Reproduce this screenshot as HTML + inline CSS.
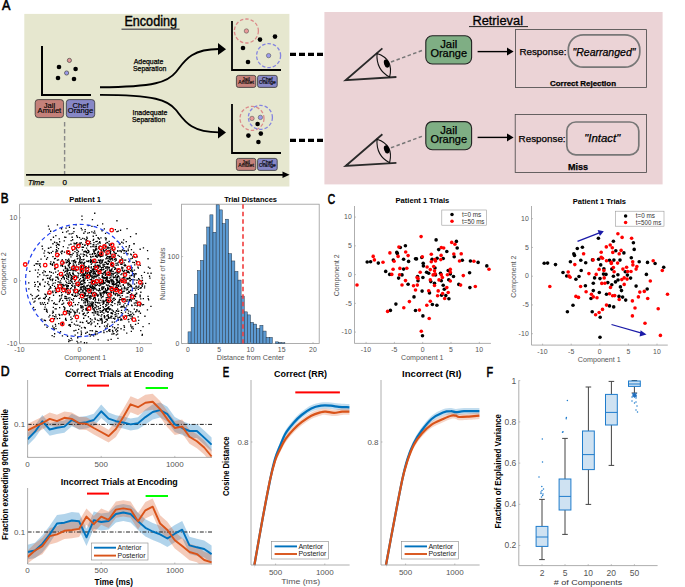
<!DOCTYPE html>
<html><head><meta charset="utf-8"><style>
html,body{margin:0;padding:0;background:#fff;}
svg{display:block;}
text{font-family:"Liberation Sans",sans-serif;}
</style></head><body>
<svg width="685" height="587" viewBox="0 0 685 587">
<text transform="translate(1.90 9.9) scale(0.9 1)" x="0" y="0" font-size="14" fill="#000" stroke="#000" stroke-width="0.6">A</text>
<rect x="24.3" y="13.9" width="265.1" height="172.6" fill="#e6e7cf"/>
<rect x="324.4" y="12" width="338.2" height="172.4" fill="#ebd3d6"/>
<text x="124.4" y="26.3" font-size="13.8" text-anchor="start" font-weight="normal" font-style="normal" fill="#000" stroke="#000" stroke-width="0.4" textLength="52.6" lengthAdjust="spacingAndGlyphs" >Encoding</text>
<line x1="121.5" y1="29.3" x2="179.6" y2="29.3" stroke="#666" stroke-width="1.4"/>
<text x="472.4" y="24.9" font-size="12.3" text-anchor="start" font-weight="normal" font-style="normal" fill="#000" stroke="#000" stroke-width="0.3" textLength="50.6" lengthAdjust="spacingAndGlyphs" >Retrieval</text>
<line x1="469" y1="26.6" x2="528" y2="26.6" stroke="#222" stroke-width="1"/>
<path d="M42 46 V95 H91" fill="none" stroke="#000" stroke-width="2"/>
<circle cx="69.4" cy="60.4" r="2.1" fill="#e09a9a" stroke="#333" stroke-width="0.6"/>
<circle cx="59" cy="67" r="2.3" fill="#000"/>
<circle cx="75.6" cy="69" r="2.3" fill="#000"/>
<circle cx="58" cy="78" r="2.3" fill="#000"/>
<circle cx="74" cy="79" r="2.3" fill="#000"/>
<circle cx="66.6" cy="73" r="2.1" fill="#9a9ae6" stroke="#333" stroke-width="0.6"/>
<rect x="35.2" y="99.6" width="28.4" height="18" rx="3" fill="#c4817a" stroke="#333" stroke-width="0.8"/>
<text x="49.400000000000006" y="107.61" font-size="7.6" text-anchor="middle" font-weight="normal" font-style="normal" fill="#000" stroke="#000" stroke-width="0.15" >Jail</text>
<text x="49.400000000000006" y="113.19" font-size="7.6" text-anchor="middle" font-weight="normal" font-style="normal" fill="#000" stroke="#000" stroke-width="0.15" >Amulet</text>
<rect x="66.3" y="99.6" width="28.4" height="18" rx="3" fill="#8787c6" stroke="#333" stroke-width="0.8"/>
<text x="80.5" y="107.61" font-size="7.6" text-anchor="middle" font-weight="normal" font-style="normal" fill="#000" stroke="#000" stroke-width="0.15" >Chef</text>
<text x="80.5" y="113.19" font-size="7.6" text-anchor="middle" font-weight="normal" font-style="normal" fill="#000" stroke="#000" stroke-width="0.15" >Orange</text>
<path d="M232 21 V70 H281" fill="none" stroke="#000" stroke-width="1.8"/>
<circle cx="246.4" cy="31" r="12" fill="none" stroke="#dc8a8a" stroke-width="1.3" stroke-dasharray="3.5 2"/>
<circle cx="268.6" cy="55.6" r="12" fill="none" stroke="#8484e0" stroke-width="1.3" stroke-dasharray="3.5 2"/>
<circle cx="246.4" cy="31" r="2.2" fill="#e99a9a" stroke="#444" stroke-width="0.5"/>
<circle cx="268.6" cy="55.6" r="2.2" fill="#9a9aea" stroke="#444" stroke-width="0.5"/>
<circle cx="260" cy="39.6" r="2.3" fill="#000"/>
<circle cx="275" cy="36.6" r="2.3" fill="#000"/>
<circle cx="243" cy="48" r="2.3" fill="#000"/>
<circle cx="248" cy="62" r="2.3" fill="#000"/>
<rect x="236.4" y="75.4" width="19.4" height="12" rx="2" fill="#c4817a" stroke="#333" stroke-width="0.8"/>
<text x="246.1" y="80.74000000000001" font-size="5" text-anchor="middle" font-weight="normal" font-style="normal" fill="#000" stroke="#000" stroke-width="0.15" >Jail</text>
<text x="246.1" y="84.46000000000001" font-size="5" text-anchor="middle" font-weight="normal" font-style="normal" fill="#000" stroke="#000" stroke-width="0.15" >Amulet</text>
<rect x="257.6" y="75.4" width="19.6" height="12" rx="2" fill="#8787c6" stroke="#333" stroke-width="0.8"/>
<text x="267.40000000000003" y="80.74000000000001" font-size="5" text-anchor="middle" font-weight="normal" font-style="normal" fill="#000" stroke="#000" stroke-width="0.15" >Chef</text>
<text x="267.40000000000003" y="84.46000000000001" font-size="5" text-anchor="middle" font-weight="normal" font-style="normal" fill="#000" stroke="#000" stroke-width="0.15" >Orange</text>
<path d="M232 104 V153 H281" fill="none" stroke="#000" stroke-width="1.8"/>
<circle cx="252" cy="118.4" r="12" fill="none" stroke="#dc8a8a" stroke-width="1.3" stroke-dasharray="3.5 2"/>
<circle cx="260.4" cy="117.4" r="12" fill="none" stroke="#8484e0" stroke-width="1.3" stroke-dasharray="3.5 2"/>
<circle cx="252" cy="118.4" r="2.2" fill="#e99a9a" stroke="#444" stroke-width="0.5"/>
<circle cx="260.4" cy="117.4" r="2.2" fill="#9a9aea" stroke="#444" stroke-width="0.5"/>
<circle cx="257.6" cy="124" r="2.3" fill="#000"/>
<circle cx="248.4" cy="135.6" r="2.3" fill="#000"/>
<circle cx="260.8" cy="133.6" r="2.3" fill="#000"/>
<circle cx="258.4" cy="142" r="2.3" fill="#000"/>
<rect x="236.4" y="158.4" width="19.4" height="12" rx="2" fill="#c4817a" stroke="#333" stroke-width="0.8"/>
<text x="246.1" y="163.74" font-size="5" text-anchor="middle" font-weight="normal" font-style="normal" fill="#000" stroke="#000" stroke-width="0.15" >Jail</text>
<text x="246.1" y="167.46" font-size="5" text-anchor="middle" font-weight="normal" font-style="normal" fill="#000" stroke="#000" stroke-width="0.15" >Amulet</text>
<rect x="257.6" y="158.4" width="19.6" height="12" rx="2" fill="#8787c6" stroke="#333" stroke-width="0.8"/>
<text x="267.40000000000003" y="163.74" font-size="5" text-anchor="middle" font-weight="normal" font-style="normal" fill="#000" stroke="#000" stroke-width="0.15" >Chef</text>
<text x="267.40000000000003" y="167.46" font-size="5" text-anchor="middle" font-weight="normal" font-style="normal" fill="#000" stroke="#000" stroke-width="0.15" >Orange</text>
<path d="M100 87.3 C155 87 168 82 176 72 S190 49 219 49" fill="none" stroke="#000" stroke-width="1.9"/>
<path d="M218 43.1 L226 49.2 L218 55 Z" fill="#000"/>
<path d="M100 94.9 C155 95 168 100 176 110 S190 132.4 219 132.4" fill="none" stroke="#000" stroke-width="1.9"/>
<path d="M218 126.4 L226 132.4 L218 138.4 Z" fill="#000"/>
<text x="133.7" y="63.9" font-size="7.2" text-anchor="start" font-weight="normal" font-style="normal" fill="#000" stroke="#000" stroke-width="0.25" textLength="29.6" lengthAdjust="spacingAndGlyphs" >Adequate</text>
<text x="133" y="71.2" font-size="7.2" text-anchor="start" font-weight="normal" font-style="normal" fill="#000" stroke="#000" stroke-width="0.25" textLength="33.3" lengthAdjust="spacingAndGlyphs" >Separation</text>
<text x="132.5" y="115" font-size="7.2" text-anchor="start" font-weight="normal" font-style="normal" fill="#000" stroke="#000" stroke-width="0.25" textLength="34.8" lengthAdjust="spacingAndGlyphs" >Inadequate</text>
<text x="132" y="122.2" font-size="7.2" text-anchor="start" font-weight="normal" font-style="normal" fill="#000" stroke="#000" stroke-width="0.25" textLength="33.2" lengthAdjust="spacingAndGlyphs" >Separation</text>
<line x1="64.6" y1="122" x2="64.6" y2="174" stroke="#888" stroke-width="1.4" stroke-dasharray="4.5 2.5"/>
<line x1="26" y1="174.8" x2="285" y2="174.8" stroke="#000" stroke-width="1.8"/>
<path d="M282.5 171.6 L289.6 174.8 L282.5 178 Z" fill="#000"/>
<text x="28" y="185" font-size="8" text-anchor="start" font-weight="normal" font-style="italic" fill="#000" stroke="#000" stroke-width="0.25" textLength="16.4" lengthAdjust="spacingAndGlyphs" >Time</text>
<text x="62.6" y="185" font-size="8" text-anchor="start" font-weight="normal" font-style="normal" fill="#000" stroke="#000" stroke-width="0.25" >0</text>
<line x1="290" y1="54.4" x2="324" y2="54.4" stroke="#000" stroke-width="3.4" stroke-dasharray="6 3"/>
<line x1="290" y1="140.4" x2="324" y2="140.4" stroke="#000" stroke-width="3.4" stroke-dasharray="6 3"/>
<path d="M382.4 48.4 L345.6 80.2 L396.4 77" fill="none" stroke="#2a2a2a" stroke-width="1.8" stroke-linejoin="miter"/>
<path d="M377 53.5 Q376 70 389.6 77 Q394 59 377 53.5 Z" fill="none" stroke="#111" stroke-width="1.1"/>
<ellipse cx="386.7" cy="63.6" rx="2.6" ry="4.2" transform="rotate(-18 386.7 63.6)" fill="#000"/>
<line x1="391" y1="62" x2="422.4" y2="50.4" stroke="#777" stroke-width="1.5" stroke-dasharray="3.5 2.4"/>
<rect x="425.8" y="35.8" width="45.8" height="28.2" rx="6.5" fill="#7fae84" stroke="#222" stroke-width="1.1"/>
<text x="448.7" y="48.0" font-size="11" text-anchor="middle" font-weight="normal" font-style="normal" fill="#000" stroke="#000" stroke-width="0.25" textLength="17" lengthAdjust="spacingAndGlyphs" >Jail</text>
<text x="448.7" y="57.4" font-size="11" text-anchor="middle" font-weight="normal" font-style="normal" fill="#000" stroke="#000" stroke-width="0.25" textLength="36.6" lengthAdjust="spacingAndGlyphs" >Orange</text>
<line x1="477.6" y1="51.6" x2="508" y2="51.6" stroke="#000" stroke-width="1.4"/>
<path d="M507 47.6 L513.6 51.6 L507 55.6 Z" fill="#000"/>
<path d="M382.4 134.2 L345.6 166.0 L396.4 162.8" fill="none" stroke="#2a2a2a" stroke-width="1.8" stroke-linejoin="miter"/>
<path d="M377 139.3 Q376 155.8 389.6 162.8 Q394 144.8 377 139.3 Z" fill="none" stroke="#111" stroke-width="1.1"/>
<ellipse cx="386.7" cy="149.4" rx="2.6" ry="4.2" transform="rotate(-18 386.7 149.4)" fill="#000"/>
<line x1="391" y1="147.8" x2="422.4" y2="136.2" stroke="#777" stroke-width="1.5" stroke-dasharray="3.5 2.4"/>
<rect x="425.8" y="121.6" width="45.8" height="28.2" rx="6.5" fill="#7fae84" stroke="#222" stroke-width="1.1"/>
<text x="448.7" y="133.8" font-size="11" text-anchor="middle" font-weight="normal" font-style="normal" fill="#000" stroke="#000" stroke-width="0.25" textLength="17" lengthAdjust="spacingAndGlyphs" >Jail</text>
<text x="448.7" y="143.2" font-size="11" text-anchor="middle" font-weight="normal" font-style="normal" fill="#000" stroke="#000" stroke-width="0.25" textLength="36.6" lengthAdjust="spacingAndGlyphs" >Orange</text>
<line x1="477.6" y1="137.4" x2="508" y2="137.4" stroke="#000" stroke-width="1.4"/>
<path d="M507 133.4 L513.6 137.4 L507 141.4 Z" fill="#000"/>
<rect x="515.6" y="29.6" width="131" height="57.8" fill="none" stroke="#444" stroke-width="0.8"/>
<rect x="515.2" y="114.4" width="131.2" height="58" fill="none" stroke="#444" stroke-width="0.8"/>
<text x="519.4" y="55.4" font-size="9.8" text-anchor="start" font-weight="normal" font-style="normal" fill="#000" stroke="#000" stroke-width="0.25" textLength="47" lengthAdjust="spacingAndGlyphs" >Response:</text>
<text x="518.6" y="141.6" font-size="9.8" text-anchor="start" font-weight="normal" font-style="normal" fill="#000" stroke="#000" stroke-width="0.25" textLength="47" lengthAdjust="spacingAndGlyphs" >Response:</text>
<rect x="568.3" y="34.8" width="71.5" height="32.4" rx="15" fill="none" stroke="#777" stroke-width="1.7"/>
<text x="604" y="55.6" font-size="10.2" text-anchor="middle" font-weight="normal" font-style="italic" fill="#000" stroke="#000" stroke-width="0.25" textLength="63" lengthAdjust="spacingAndGlyphs" >"Rearranged"</text>
<rect x="566.8" y="122" width="72" height="32.8" rx="9" fill="none" stroke="#777" stroke-width="1.7"/>
<text x="602.2" y="141.8" font-size="10.2" text-anchor="middle" font-weight="normal" font-style="italic" fill="#000" stroke="#000" stroke-width="0.25" textLength="36" lengthAdjust="spacingAndGlyphs" >"Intact"</text>
<text x="550" y="86" font-size="7.4" text-anchor="start" font-weight="bold" font-style="normal" fill="#000" stroke="#000" stroke-width="0.25" textLength="66" lengthAdjust="spacingAndGlyphs" >Correct Rejection</text>
<text x="568" y="170" font-size="8.8" text-anchor="start" font-weight="bold" font-style="normal" fill="#000" stroke="#000" stroke-width="0.25" textLength="20" lengthAdjust="spacingAndGlyphs" >Miss</text>
<text transform="translate(0.76 203.4) scale(0.84 1)" x="0" y="0" font-size="14" fill="#000" stroke="#000" stroke-width="0.6">B</text>
<path d="M152 204.2 H19.5 V343.6 H152" fill="none" stroke="#999" stroke-width="0.8"/>
<path d="M42.9 297.8h1.3v1.3h-1.3zM59.8 280.3h1.3v1.3h-1.3zM58.1 281.3h1.3v1.3h-1.3zM111.8 265.3h1.3v1.3h-1.3zM100.7 311.3h1.3v1.3h-1.3zM144.0 285.4h1.3v1.3h-1.3zM107.6 301.9h1.3v1.3h-1.3zM81.1 280.3h1.3v1.3h-1.3zM88.8 273.3h1.3v1.3h-1.3zM49.8 262.9h1.3v1.3h-1.3zM72.3 299.5h1.3v1.3h-1.3zM101.5 288.6h1.3v1.3h-1.3zM138.3 285.4h1.3v1.3h-1.3zM110.3 278.7h1.3v1.3h-1.3zM121.8 262.3h1.3v1.3h-1.3zM100.7 297.3h1.3v1.3h-1.3zM86.3 285.1h1.3v1.3h-1.3zM109.1 292.5h1.3v1.3h-1.3zM73.1 274.1h1.3v1.3h-1.3zM118.0 310.6h1.3v1.3h-1.3zM60.9 228.1h1.3v1.3h-1.3zM106.6 263.6h1.3v1.3h-1.3zM124.4 264.0h1.3v1.3h-1.3zM66.6 287.9h1.3v1.3h-1.3zM87.2 290.8h1.3v1.3h-1.3zM129.5 277.9h1.3v1.3h-1.3zM81.4 219.0h1.3v1.3h-1.3zM67.4 230.3h1.3v1.3h-1.3zM55.1 251.4h1.3v1.3h-1.3zM86.6 239.9h1.3v1.3h-1.3zM86.1 270.4h1.3v1.3h-1.3zM74.5 287.3h1.3v1.3h-1.3zM101.8 275.9h1.3v1.3h-1.3zM42.1 279.2h1.3v1.3h-1.3zM94.8 262.2h1.3v1.3h-1.3zM97.4 311.4h1.3v1.3h-1.3zM85.1 332.6h1.3v1.3h-1.3zM131.0 293.3h1.3v1.3h-1.3zM108.1 288.5h1.3v1.3h-1.3zM104.0 282.7h1.3v1.3h-1.3zM114.0 252.3h1.3v1.3h-1.3zM112.5 280.2h1.3v1.3h-1.3zM127.3 286.7h1.3v1.3h-1.3zM130.4 317.7h1.3v1.3h-1.3zM101.2 286.5h1.3v1.3h-1.3zM85.7 254.4h1.3v1.3h-1.3zM97.8 259.4h1.3v1.3h-1.3zM127.1 278.0h1.3v1.3h-1.3zM131.8 289.9h1.3v1.3h-1.3zM107.0 299.5h1.3v1.3h-1.3zM135.6 273.3h1.3v1.3h-1.3zM119.1 294.4h1.3v1.3h-1.3zM86.5 289.4h1.3v1.3h-1.3zM97.0 278.9h1.3v1.3h-1.3zM84.7 327.4h1.3v1.3h-1.3zM106.3 330.9h1.3v1.3h-1.3zM57.0 243.7h1.3v1.3h-1.3zM111.1 312.2h1.3v1.3h-1.3zM114.0 318.5h1.3v1.3h-1.3zM97.9 273.7h1.3v1.3h-1.3zM138.0 278.1h1.3v1.3h-1.3zM121.3 319.3h1.3v1.3h-1.3zM85.8 308.6h1.3v1.3h-1.3zM93.3 286.9h1.3v1.3h-1.3zM129.4 275.2h1.3v1.3h-1.3zM92.6 244.0h1.3v1.3h-1.3zM51.9 312.5h1.3v1.3h-1.3zM106.7 277.5h1.3v1.3h-1.3zM118.7 280.5h1.3v1.3h-1.3zM65.0 317.8h1.3v1.3h-1.3zM63.6 240.2h1.3v1.3h-1.3zM53.0 261.6h1.3v1.3h-1.3zM111.6 309.5h1.3v1.3h-1.3zM111.5 282.4h1.3v1.3h-1.3zM110.3 316.5h1.3v1.3h-1.3zM129.3 298.8h1.3v1.3h-1.3zM72.0 273.3h1.3v1.3h-1.3zM62.5 262.5h1.3v1.3h-1.3zM72.0 239.1h1.3v1.3h-1.3zM70.5 279.0h1.3v1.3h-1.3zM92.9 283.6h1.3v1.3h-1.3zM101.5 301.5h1.3v1.3h-1.3zM106.6 281.2h1.3v1.3h-1.3zM128.7 272.3h1.3v1.3h-1.3zM92.7 273.4h1.3v1.3h-1.3zM91.5 283.1h1.3v1.3h-1.3zM121.9 269.6h1.3v1.3h-1.3zM112.9 277.1h1.3v1.3h-1.3zM121.7 277.5h1.3v1.3h-1.3zM80.0 304.9h1.3v1.3h-1.3zM116.2 315.4h1.3v1.3h-1.3zM99.6 293.8h1.3v1.3h-1.3zM81.9 305.4h1.3v1.3h-1.3zM55.1 314.2h1.3v1.3h-1.3zM48.2 298.4h1.3v1.3h-1.3zM122.3 298.0h1.3v1.3h-1.3zM123.6 259.5h1.3v1.3h-1.3zM54.8 323.7h1.3v1.3h-1.3zM137.5 316.3h1.3v1.3h-1.3zM35.7 296.3h1.3v1.3h-1.3zM124.4 302.8h1.3v1.3h-1.3zM108.7 266.7h1.3v1.3h-1.3zM117.9 318.7h1.3v1.3h-1.3zM91.4 286.5h1.3v1.3h-1.3zM101.0 252.9h1.3v1.3h-1.3zM99.6 265.9h1.3v1.3h-1.3zM81.7 321.7h1.3v1.3h-1.3zM135.3 301.9h1.3v1.3h-1.3zM108.7 269.3h1.3v1.3h-1.3zM79.8 243.4h1.3v1.3h-1.3zM81.2 299.4h1.3v1.3h-1.3zM108.8 273.3h1.3v1.3h-1.3zM106.8 300.1h1.3v1.3h-1.3zM126.4 292.5h1.3v1.3h-1.3zM122.3 267.3h1.3v1.3h-1.3zM84.5 282.2h1.3v1.3h-1.3zM49.2 287.7h1.3v1.3h-1.3zM48.2 300.2h1.3v1.3h-1.3zM136.0 282.3h1.3v1.3h-1.3zM135.7 292.6h1.3v1.3h-1.3zM77.4 276.9h1.3v1.3h-1.3zM107.1 323.5h1.3v1.3h-1.3zM82.7 265.4h1.3v1.3h-1.3zM124.0 298.6h1.3v1.3h-1.3zM110.6 280.1h1.3v1.3h-1.3zM81.2 297.3h1.3v1.3h-1.3zM81.1 286.2h1.3v1.3h-1.3zM130.9 275.0h1.3v1.3h-1.3zM97.1 252.5h1.3v1.3h-1.3zM72.7 262.4h1.3v1.3h-1.3zM96.3 265.9h1.3v1.3h-1.3zM101.2 314.0h1.3v1.3h-1.3zM44.8 320.0h1.3v1.3h-1.3zM86.2 320.2h1.3v1.3h-1.3zM72.5 252.8h1.3v1.3h-1.3zM96.9 224.7h1.3v1.3h-1.3zM104.3 261.8h1.3v1.3h-1.3zM115.0 283.4h1.3v1.3h-1.3zM40.4 258.5h1.3v1.3h-1.3zM61.6 259.1h1.3v1.3h-1.3zM98.4 246.1h1.3v1.3h-1.3zM104.7 288.0h1.3v1.3h-1.3zM89.8 305.6h1.3v1.3h-1.3zM118.1 285.5h1.3v1.3h-1.3zM115.1 272.2h1.3v1.3h-1.3zM77.5 284.2h1.3v1.3h-1.3zM100.3 237.2h1.3v1.3h-1.3zM101.4 292.2h1.3v1.3h-1.3zM111.4 286.4h1.3v1.3h-1.3zM67.2 247.3h1.3v1.3h-1.3zM62.0 265.8h1.3v1.3h-1.3zM75.9 320.5h1.3v1.3h-1.3zM54.6 268.2h1.3v1.3h-1.3zM92.9 266.0h1.3v1.3h-1.3zM134.0 274.2h1.3v1.3h-1.3zM70.5 337.7h1.3v1.3h-1.3zM95.4 276.5h1.3v1.3h-1.3zM127.3 283.3h1.3v1.3h-1.3zM118.8 298.7h1.3v1.3h-1.3zM100.0 319.3h1.3v1.3h-1.3zM120.5 318.5h1.3v1.3h-1.3zM89.0 322.2h1.3v1.3h-1.3zM130.4 284.7h1.3v1.3h-1.3zM108.7 277.4h1.3v1.3h-1.3zM106.2 304.6h1.3v1.3h-1.3zM68.7 314.3h1.3v1.3h-1.3zM95.4 304.9h1.3v1.3h-1.3zM119.5 278.9h1.3v1.3h-1.3zM62.0 303.5h1.3v1.3h-1.3zM82.8 274.6h1.3v1.3h-1.3zM81.5 271.6h1.3v1.3h-1.3zM111.1 294.9h1.3v1.3h-1.3zM115.9 284.9h1.3v1.3h-1.3zM52.0 325.4h1.3v1.3h-1.3zM58.7 300.9h1.3v1.3h-1.3zM100.0 284.5h1.3v1.3h-1.3zM100.8 255.7h1.3v1.3h-1.3zM59.8 284.0h1.3v1.3h-1.3zM81.5 246.6h1.3v1.3h-1.3zM109.5 259.1h1.3v1.3h-1.3zM104.6 277.4h1.3v1.3h-1.3zM108.6 247.2h1.3v1.3h-1.3zM117.2 301.5h1.3v1.3h-1.3zM140.3 282.7h1.3v1.3h-1.3zM107.5 292.3h1.3v1.3h-1.3zM104.4 281.7h1.3v1.3h-1.3zM120.4 292.8h1.3v1.3h-1.3zM127.9 284.4h1.3v1.3h-1.3zM134.4 272.9h1.3v1.3h-1.3zM90.5 271.8h1.3v1.3h-1.3zM105.1 261.6h1.3v1.3h-1.3zM102.0 288.6h1.3v1.3h-1.3zM88.2 274.8h1.3v1.3h-1.3zM141.8 279.7h1.3v1.3h-1.3zM116.1 282.5h1.3v1.3h-1.3zM95.2 330.6h1.3v1.3h-1.3zM84.1 244.7h1.3v1.3h-1.3zM94.1 310.4h1.3v1.3h-1.3zM96.1 255.9h1.3v1.3h-1.3zM132.1 312.5h1.3v1.3h-1.3zM104.4 272.1h1.3v1.3h-1.3zM81.3 286.2h1.3v1.3h-1.3zM96.7 274.6h1.3v1.3h-1.3zM91.4 303.1h1.3v1.3h-1.3zM73.8 276.8h1.3v1.3h-1.3zM87.2 322.2h1.3v1.3h-1.3zM117.2 250.6h1.3v1.3h-1.3zM117.0 308.5h1.3v1.3h-1.3zM86.5 237.6h1.3v1.3h-1.3zM51.5 335.0h1.3v1.3h-1.3zM54.4 290.2h1.3v1.3h-1.3zM54.1 267.8h1.3v1.3h-1.3zM94.7 285.3h1.3v1.3h-1.3zM65.6 289.1h1.3v1.3h-1.3zM106.1 257.0h1.3v1.3h-1.3zM95.8 246.3h1.3v1.3h-1.3zM77.0 244.5h1.3v1.3h-1.3zM113.4 281.4h1.3v1.3h-1.3zM85.4 300.3h1.3v1.3h-1.3zM81.4 307.3h1.3v1.3h-1.3zM136.7 305.2h1.3v1.3h-1.3zM94.5 297.1h1.3v1.3h-1.3zM47.8 247.6h1.3v1.3h-1.3zM85.9 247.5h1.3v1.3h-1.3zM74.3 261.6h1.3v1.3h-1.3zM97.9 251.4h1.3v1.3h-1.3zM34.5 297.8h1.3v1.3h-1.3zM129.0 260.0h1.3v1.3h-1.3zM83.8 275.1h1.3v1.3h-1.3zM61.6 286.9h1.3v1.3h-1.3zM55.4 328.0h1.3v1.3h-1.3zM52.1 290.4h1.3v1.3h-1.3zM119.3 260.7h1.3v1.3h-1.3zM125.0 259.5h1.3v1.3h-1.3zM87.7 311.7h1.3v1.3h-1.3zM95.3 240.9h1.3v1.3h-1.3zM90.5 301.5h1.3v1.3h-1.3zM120.1 285.6h1.3v1.3h-1.3zM54.9 287.3h1.3v1.3h-1.3zM131.4 304.9h1.3v1.3h-1.3zM58.9 332.3h1.3v1.3h-1.3zM112.8 333.2h1.3v1.3h-1.3zM59.0 317.7h1.3v1.3h-1.3zM121.6 315.2h1.3v1.3h-1.3zM110.1 249.2h1.3v1.3h-1.3zM68.8 266.4h1.3v1.3h-1.3zM72.5 270.3h1.3v1.3h-1.3zM115.3 271.7h1.3v1.3h-1.3zM66.2 310.3h1.3v1.3h-1.3zM110.6 269.3h1.3v1.3h-1.3zM119.6 296.6h1.3v1.3h-1.3zM94.5 264.3h1.3v1.3h-1.3zM82.6 308.7h1.3v1.3h-1.3zM95.5 262.0h1.3v1.3h-1.3zM89.4 298.4h1.3v1.3h-1.3zM98.6 302.5h1.3v1.3h-1.3zM124.9 311.5h1.3v1.3h-1.3zM36.7 295.5h1.3v1.3h-1.3zM89.7 271.7h1.3v1.3h-1.3zM96.8 319.5h1.3v1.3h-1.3zM71.3 280.7h1.3v1.3h-1.3zM70.1 308.5h1.3v1.3h-1.3zM68.0 275.1h1.3v1.3h-1.3zM75.2 329.7h1.3v1.3h-1.3zM99.0 262.2h1.3v1.3h-1.3zM106.2 298.9h1.3v1.3h-1.3zM129.7 294.1h1.3v1.3h-1.3zM110.2 247.3h1.3v1.3h-1.3zM106.6 318.4h1.3v1.3h-1.3zM111.5 268.3h1.3v1.3h-1.3zM132.4 278.9h1.3v1.3h-1.3zM116.1 287.2h1.3v1.3h-1.3zM68.6 233.2h1.3v1.3h-1.3zM96.7 283.8h1.3v1.3h-1.3zM96.5 240.8h1.3v1.3h-1.3zM110.9 243.0h1.3v1.3h-1.3zM85.3 270.5h1.3v1.3h-1.3zM55.0 271.5h1.3v1.3h-1.3zM84.6 288.8h1.3v1.3h-1.3zM33.7 264.8h1.3v1.3h-1.3zM81.9 289.4h1.3v1.3h-1.3zM84.5 295.0h1.3v1.3h-1.3zM113.0 292.5h1.3v1.3h-1.3zM93.5 310.1h1.3v1.3h-1.3zM111.1 272.6h1.3v1.3h-1.3zM82.7 259.2h1.3v1.3h-1.3zM80.2 294.0h1.3v1.3h-1.3zM86.3 299.0h1.3v1.3h-1.3zM40.3 303.7h1.3v1.3h-1.3zM92.9 287.7h1.3v1.3h-1.3zM115.5 259.8h1.3v1.3h-1.3zM123.3 273.1h1.3v1.3h-1.3zM71.1 293.9h1.3v1.3h-1.3zM94.6 269.1h1.3v1.3h-1.3zM132.1 256.3h1.3v1.3h-1.3zM57.4 281.2h1.3v1.3h-1.3zM101.0 317.8h1.3v1.3h-1.3zM85.3 276.8h1.3v1.3h-1.3zM69.5 340.0h1.3v1.3h-1.3zM61.5 323.8h1.3v1.3h-1.3zM78.9 260.7h1.3v1.3h-1.3zM129.3 280.1h1.3v1.3h-1.3zM98.2 320.0h1.3v1.3h-1.3zM132.2 261.8h1.3v1.3h-1.3zM52.9 294.6h1.3v1.3h-1.3zM110.0 251.0h1.3v1.3h-1.3zM37.0 289.0h1.3v1.3h-1.3zM103.7 228.3h1.3v1.3h-1.3zM117.9 284.6h1.3v1.3h-1.3zM58.9 295.1h1.3v1.3h-1.3zM107.0 288.1h1.3v1.3h-1.3zM129.9 235.9h1.3v1.3h-1.3zM110.8 295.0h1.3v1.3h-1.3zM102.4 299.7h1.3v1.3h-1.3zM137.5 286.6h1.3v1.3h-1.3zM139.6 264.7h1.3v1.3h-1.3zM101.3 289.0h1.3v1.3h-1.3zM121.1 305.7h1.3v1.3h-1.3zM93.4 276.2h1.3v1.3h-1.3zM139.5 283.2h1.3v1.3h-1.3zM106.0 262.6h1.3v1.3h-1.3zM97.8 273.4h1.3v1.3h-1.3zM111.1 281.1h1.3v1.3h-1.3zM101.8 261.3h1.3v1.3h-1.3zM125.6 269.7h1.3v1.3h-1.3zM70.8 287.3h1.3v1.3h-1.3zM141.6 285.6h1.3v1.3h-1.3zM116.8 286.6h1.3v1.3h-1.3zM62.9 262.1h1.3v1.3h-1.3zM117.0 330.1h1.3v1.3h-1.3zM129.7 280.3h1.3v1.3h-1.3zM53.6 262.3h1.3v1.3h-1.3zM133.7 308.5h1.3v1.3h-1.3zM45.9 258.6h1.3v1.3h-1.3zM121.2 266.6h1.3v1.3h-1.3zM80.5 330.4h1.3v1.3h-1.3zM70.5 240.0h1.3v1.3h-1.3zM105.2 261.5h1.3v1.3h-1.3zM82.9 274.4h1.3v1.3h-1.3zM102.4 296.0h1.3v1.3h-1.3zM75.9 268.7h1.3v1.3h-1.3zM136.3 310.1h1.3v1.3h-1.3zM128.1 310.5h1.3v1.3h-1.3zM94.3 232.5h1.3v1.3h-1.3zM122.2 299.1h1.3v1.3h-1.3zM115.6 252.8h1.3v1.3h-1.3zM113.9 283.8h1.3v1.3h-1.3zM85.0 271.6h1.3v1.3h-1.3zM100.0 318.8h1.3v1.3h-1.3zM82.8 282.4h1.3v1.3h-1.3zM103.4 290.4h1.3v1.3h-1.3zM142.9 304.0h1.3v1.3h-1.3zM93.4 260.6h1.3v1.3h-1.3zM105.8 300.1h1.3v1.3h-1.3zM61.4 250.9h1.3v1.3h-1.3zM140.1 329.9h1.3v1.3h-1.3zM79.0 289.8h1.3v1.3h-1.3zM103.3 277.8h1.3v1.3h-1.3zM100.6 249.7h1.3v1.3h-1.3zM80.6 305.5h1.3v1.3h-1.3zM133.6 302.5h1.3v1.3h-1.3zM91.6 259.7h1.3v1.3h-1.3zM119.3 280.2h1.3v1.3h-1.3zM69.0 313.3h1.3v1.3h-1.3zM64.9 319.0h1.3v1.3h-1.3zM117.5 274.9h1.3v1.3h-1.3zM70.4 311.5h1.3v1.3h-1.3zM62.3 283.8h1.3v1.3h-1.3zM74.2 289.7h1.3v1.3h-1.3zM91.5 288.0h1.3v1.3h-1.3zM89.1 295.9h1.3v1.3h-1.3zM75.3 283.2h1.3v1.3h-1.3zM96.0 284.8h1.3v1.3h-1.3zM88.6 301.2h1.3v1.3h-1.3zM61.1 283.9h1.3v1.3h-1.3zM105.1 309.8h1.3v1.3h-1.3zM120.0 319.4h1.3v1.3h-1.3zM107.0 307.3h1.3v1.3h-1.3zM101.2 283.1h1.3v1.3h-1.3zM108.3 243.3h1.3v1.3h-1.3zM53.9 264.6h1.3v1.3h-1.3zM92.6 312.3h1.3v1.3h-1.3zM93.6 249.5h1.3v1.3h-1.3zM116.9 272.1h1.3v1.3h-1.3zM82.7 313.1h1.3v1.3h-1.3zM90.9 275.4h1.3v1.3h-1.3zM67.1 269.1h1.3v1.3h-1.3zM91.0 287.3h1.3v1.3h-1.3zM47.0 302.6h1.3v1.3h-1.3zM87.2 260.8h1.3v1.3h-1.3zM106.6 273.7h1.3v1.3h-1.3zM101.6 296.1h1.3v1.3h-1.3zM143.8 271.8h1.3v1.3h-1.3zM88.1 265.5h1.3v1.3h-1.3zM130.9 327.2h1.3v1.3h-1.3zM71.1 267.4h1.3v1.3h-1.3zM94.7 280.1h1.3v1.3h-1.3zM54.2 268.5h1.3v1.3h-1.3zM91.2 231.3h1.3v1.3h-1.3zM74.3 267.0h1.3v1.3h-1.3zM93.6 276.1h1.3v1.3h-1.3zM89.6 335.5h1.3v1.3h-1.3zM87.9 250.1h1.3v1.3h-1.3zM39.8 266.3h1.3v1.3h-1.3zM56.8 224.2h1.3v1.3h-1.3zM133.2 287.8h1.3v1.3h-1.3zM130.9 286.1h1.3v1.3h-1.3zM131.3 315.5h1.3v1.3h-1.3zM50.4 275.1h1.3v1.3h-1.3zM48.1 247.6h1.3v1.3h-1.3zM80.6 267.0h1.3v1.3h-1.3zM96.0 265.7h1.3v1.3h-1.3zM70.3 274.9h1.3v1.3h-1.3zM121.0 280.3h1.3v1.3h-1.3zM95.5 248.0h1.3v1.3h-1.3zM81.1 298.9h1.3v1.3h-1.3zM102.1 277.2h1.3v1.3h-1.3zM50.2 246.8h1.3v1.3h-1.3zM113.5 272.6h1.3v1.3h-1.3zM107.3 287.2h1.3v1.3h-1.3zM76.4 340.7h1.3v1.3h-1.3zM79.2 258.8h1.3v1.3h-1.3zM102.7 292.4h1.3v1.3h-1.3zM72.1 285.6h1.3v1.3h-1.3zM89.0 272.3h1.3v1.3h-1.3zM84.0 282.1h1.3v1.3h-1.3zM64.5 265.8h1.3v1.3h-1.3zM84.0 295.8h1.3v1.3h-1.3zM110.4 304.1h1.3v1.3h-1.3zM82.0 243.7h1.3v1.3h-1.3zM55.7 249.1h1.3v1.3h-1.3zM83.3 258.7h1.3v1.3h-1.3zM93.2 277.6h1.3v1.3h-1.3zM85.5 309.5h1.3v1.3h-1.3zM71.5 236.6h1.3v1.3h-1.3zM95.6 234.8h1.3v1.3h-1.3zM150.3 305.7h1.3v1.3h-1.3zM82.2 286.1h1.3v1.3h-1.3zM82.6 273.9h1.3v1.3h-1.3zM76.6 255.4h1.3v1.3h-1.3zM100.4 259.5h1.3v1.3h-1.3zM104.5 249.8h1.3v1.3h-1.3zM105.0 267.4h1.3v1.3h-1.3zM105.2 254.5h1.3v1.3h-1.3zM89.1 304.6h1.3v1.3h-1.3zM72.5 265.2h1.3v1.3h-1.3zM82.5 274.6h1.3v1.3h-1.3zM67.7 292.0h1.3v1.3h-1.3zM88.4 273.9h1.3v1.3h-1.3zM110.2 297.3h1.3v1.3h-1.3zM81.7 291.5h1.3v1.3h-1.3zM48.3 316.2h1.3v1.3h-1.3zM42.7 303.8h1.3v1.3h-1.3zM53.9 318.1h1.3v1.3h-1.3zM73.5 269.6h1.3v1.3h-1.3zM111.4 309.5h1.3v1.3h-1.3zM106.1 278.6h1.3v1.3h-1.3zM81.1 258.9h1.3v1.3h-1.3zM100.4 262.4h1.3v1.3h-1.3zM81.8 293.9h1.3v1.3h-1.3zM67.7 285.0h1.3v1.3h-1.3zM57.2 277.5h1.3v1.3h-1.3zM68.8 299.4h1.3v1.3h-1.3zM118.1 290.7h1.3v1.3h-1.3zM102.7 291.7h1.3v1.3h-1.3zM106.3 325.0h1.3v1.3h-1.3zM95.9 305.5h1.3v1.3h-1.3zM92.4 291.7h1.3v1.3h-1.3zM80.5 242.1h1.3v1.3h-1.3zM89.8 261.7h1.3v1.3h-1.3zM99.9 254.4h1.3v1.3h-1.3zM96.0 275.5h1.3v1.3h-1.3zM85.5 289.5h1.3v1.3h-1.3zM91.9 304.6h1.3v1.3h-1.3zM117.6 313.0h1.3v1.3h-1.3zM87.9 251.9h1.3v1.3h-1.3zM47.5 251.8h1.3v1.3h-1.3zM84.4 298.6h1.3v1.3h-1.3zM90.9 322.4h1.3v1.3h-1.3zM51.4 300.0h1.3v1.3h-1.3zM91.2 322.4h1.3v1.3h-1.3zM110.5 257.6h1.3v1.3h-1.3zM116.9 279.4h1.3v1.3h-1.3zM44.4 306.5h1.3v1.3h-1.3zM117.4 246.5h1.3v1.3h-1.3zM73.8 295.6h1.3v1.3h-1.3zM98.2 284.8h1.3v1.3h-1.3zM119.4 289.0h1.3v1.3h-1.3zM86.1 274.3h1.3v1.3h-1.3zM67.7 276.5h1.3v1.3h-1.3zM101.4 320.0h1.3v1.3h-1.3zM65.2 259.1h1.3v1.3h-1.3zM121.2 288.4h1.3v1.3h-1.3zM84.5 304.6h1.3v1.3h-1.3zM93.2 269.2h1.3v1.3h-1.3zM85.2 241.6h1.3v1.3h-1.3zM86.6 274.9h1.3v1.3h-1.3zM131.1 269.1h1.3v1.3h-1.3zM92.0 253.1h1.3v1.3h-1.3zM88.1 271.5h1.3v1.3h-1.3zM103.0 291.0h1.3v1.3h-1.3zM98.7 255.1h1.3v1.3h-1.3zM101.4 230.1h1.3v1.3h-1.3zM54.8 257.8h1.3v1.3h-1.3zM114.0 268.7h1.3v1.3h-1.3zM105.1 305.8h1.3v1.3h-1.3zM123.4 329.2h1.3v1.3h-1.3zM105.9 310.4h1.3v1.3h-1.3zM101.5 276.6h1.3v1.3h-1.3zM106.7 269.2h1.3v1.3h-1.3zM70.3 243.6h1.3v1.3h-1.3zM102.0 223.3h1.3v1.3h-1.3zM49.7 285.9h1.3v1.3h-1.3zM82.2 322.0h1.3v1.3h-1.3zM109.2 330.7h1.3v1.3h-1.3zM130.8 249.0h1.3v1.3h-1.3zM83.9 295.4h1.3v1.3h-1.3zM128.8 277.1h1.3v1.3h-1.3zM72.7 264.8h1.3v1.3h-1.3zM121.9 312.8h1.3v1.3h-1.3zM106.6 279.2h1.3v1.3h-1.3zM77.8 267.2h1.3v1.3h-1.3zM87.7 294.5h1.3v1.3h-1.3zM89.5 302.9h1.3v1.3h-1.3zM97.9 271.1h1.3v1.3h-1.3zM85.8 277.5h1.3v1.3h-1.3zM72.9 267.5h1.3v1.3h-1.3zM102.5 283.4h1.3v1.3h-1.3zM64.0 236.5h1.3v1.3h-1.3zM111.3 280.7h1.3v1.3h-1.3zM92.5 246.0h1.3v1.3h-1.3zM121.8 277.5h1.3v1.3h-1.3zM130.5 299.6h1.3v1.3h-1.3zM47.8 225.4h1.3v1.3h-1.3zM74.6 295.4h1.3v1.3h-1.3zM121.3 263.7h1.3v1.3h-1.3zM113.8 321.5h1.3v1.3h-1.3zM78.8 283.5h1.3v1.3h-1.3zM71.2 321.7h1.3v1.3h-1.3zM100.0 282.8h1.3v1.3h-1.3zM65.8 296.3h1.3v1.3h-1.3zM118.2 272.5h1.3v1.3h-1.3zM64.3 295.7h1.3v1.3h-1.3zM108.3 250.1h1.3v1.3h-1.3zM83.1 317.6h1.3v1.3h-1.3zM133.7 294.8h1.3v1.3h-1.3zM125.6 240.9h1.3v1.3h-1.3zM92.6 235.6h1.3v1.3h-1.3zM146.8 309.2h1.3v1.3h-1.3zM28.2 288.3h1.3v1.3h-1.3zM111.8 304.9h1.3v1.3h-1.3zM96.9 302.2h1.3v1.3h-1.3zM98.0 290.1h1.3v1.3h-1.3zM83.3 285.8h1.3v1.3h-1.3zM120.3 318.3h1.3v1.3h-1.3zM101.6 321.3h1.3v1.3h-1.3zM33.3 301.4h1.3v1.3h-1.3zM105.7 254.1h1.3v1.3h-1.3zM107.9 274.1h1.3v1.3h-1.3zM95.4 301.8h1.3v1.3h-1.3zM56.4 250.4h1.3v1.3h-1.3zM121.2 298.3h1.3v1.3h-1.3zM97.8 237.7h1.3v1.3h-1.3zM81.9 310.5h1.3v1.3h-1.3zM112.6 291.7h1.3v1.3h-1.3zM76.4 249.5h1.3v1.3h-1.3zM62.0 299.9h1.3v1.3h-1.3zM111.5 253.7h1.3v1.3h-1.3zM95.9 270.7h1.3v1.3h-1.3zM59.0 307.0h1.3v1.3h-1.3zM121.6 280.0h1.3v1.3h-1.3zM105.6 278.7h1.3v1.3h-1.3zM107.0 253.4h1.3v1.3h-1.3zM98.0 299.9h1.3v1.3h-1.3zM37.1 281.1h1.3v1.3h-1.3zM84.0 294.8h1.3v1.3h-1.3zM107.6 249.7h1.3v1.3h-1.3zM108.3 305.9h1.3v1.3h-1.3zM108.1 288.0h1.3v1.3h-1.3zM99.7 307.6h1.3v1.3h-1.3zM73.2 269.9h1.3v1.3h-1.3zM105.8 284.2h1.3v1.3h-1.3zM109.2 307.9h1.3v1.3h-1.3zM119.5 243.3h1.3v1.3h-1.3zM71.2 268.9h1.3v1.3h-1.3zM111.6 321.5h1.3v1.3h-1.3zM125.8 250.6h1.3v1.3h-1.3zM74.8 262.3h1.3v1.3h-1.3zM107.5 311.0h1.3v1.3h-1.3zM93.8 286.8h1.3v1.3h-1.3zM98.8 289.3h1.3v1.3h-1.3zM75.5 247.9h1.3v1.3h-1.3zM44.0 250.2h1.3v1.3h-1.3zM67.2 273.5h1.3v1.3h-1.3zM126.4 227.9h1.3v1.3h-1.3zM80.3 269.7h1.3v1.3h-1.3zM88.0 288.3h1.3v1.3h-1.3zM70.6 304.4h1.3v1.3h-1.3zM114.8 253.1h1.3v1.3h-1.3zM117.0 304.3h1.3v1.3h-1.3zM131.1 274.4h1.3v1.3h-1.3zM92.6 289.6h1.3v1.3h-1.3zM62.5 285.1h1.3v1.3h-1.3zM93.0 297.5h1.3v1.3h-1.3zM108.3 258.1h1.3v1.3h-1.3zM110.5 264.5h1.3v1.3h-1.3zM91.3 295.7h1.3v1.3h-1.3zM102.8 273.5h1.3v1.3h-1.3zM66.1 287.8h1.3v1.3h-1.3zM127.6 249.9h1.3v1.3h-1.3zM114.4 284.0h1.3v1.3h-1.3zM55.6 308.2h1.3v1.3h-1.3zM80.4 280.7h1.3v1.3h-1.3zM103.2 312.4h1.3v1.3h-1.3zM127.8 270.8h1.3v1.3h-1.3zM102.6 266.6h1.3v1.3h-1.3zM52.5 327.5h1.3v1.3h-1.3zM81.0 274.3h1.3v1.3h-1.3zM125.5 246.0h1.3v1.3h-1.3zM57.1 276.6h1.3v1.3h-1.3zM126.5 299.0h1.3v1.3h-1.3zM106.3 291.8h1.3v1.3h-1.3zM87.4 296.4h1.3v1.3h-1.3zM66.3 267.8h1.3v1.3h-1.3zM67.1 268.4h1.3v1.3h-1.3zM92.5 285.8h1.3v1.3h-1.3zM67.6 285.6h1.3v1.3h-1.3zM105.4 266.1h1.3v1.3h-1.3zM72.9 277.2h1.3v1.3h-1.3zM113.1 293.1h1.3v1.3h-1.3zM91.0 279.4h1.3v1.3h-1.3zM132.2 298.5h1.3v1.3h-1.3zM105.1 279.7h1.3v1.3h-1.3zM102.2 303.6h1.3v1.3h-1.3zM52.5 282.7h1.3v1.3h-1.3zM102.2 269.3h1.3v1.3h-1.3zM94.9 301.8h1.3v1.3h-1.3zM60.3 265.3h1.3v1.3h-1.3zM70.2 253.9h1.3v1.3h-1.3zM96.5 331.0h1.3v1.3h-1.3zM89.1 285.9h1.3v1.3h-1.3zM76.5 309.6h1.3v1.3h-1.3zM81.7 286.1h1.3v1.3h-1.3zM91.8 277.0h1.3v1.3h-1.3zM99.2 292.2h1.3v1.3h-1.3zM39.0 264.8h1.3v1.3h-1.3zM66.6 271.0h1.3v1.3h-1.3zM73.5 245.4h1.3v1.3h-1.3zM119.1 250.3h1.3v1.3h-1.3zM107.1 296.6h1.3v1.3h-1.3zM68.8 226.6h1.3v1.3h-1.3zM126.4 300.5h1.3v1.3h-1.3zM48.3 288.7h1.3v1.3h-1.3zM105.6 297.1h1.3v1.3h-1.3zM69.4 269.7h1.3v1.3h-1.3zM134.4 304.6h1.3v1.3h-1.3zM91.7 268.6h1.3v1.3h-1.3zM87.9 292.5h1.3v1.3h-1.3zM120.4 273.9h1.3v1.3h-1.3zM71.6 254.3h1.3v1.3h-1.3zM66.9 259.8h1.3v1.3h-1.3zM57.8 248.0h1.3v1.3h-1.3zM107.6 281.3h1.3v1.3h-1.3zM116.9 276.3h1.3v1.3h-1.3zM103.1 301.1h1.3v1.3h-1.3zM98.0 298.5h1.3v1.3h-1.3zM92.7 280.8h1.3v1.3h-1.3zM72.9 277.5h1.3v1.3h-1.3zM111.0 263.8h1.3v1.3h-1.3zM132.5 272.9h1.3v1.3h-1.3zM100.1 299.7h1.3v1.3h-1.3zM123.5 290.6h1.3v1.3h-1.3zM127.2 253.1h1.3v1.3h-1.3zM96.9 252.2h1.3v1.3h-1.3zM137.7 267.5h1.3v1.3h-1.3zM148.5 322.9h1.3v1.3h-1.3zM86.5 252.5h1.3v1.3h-1.3zM106.5 251.2h1.3v1.3h-1.3zM114.2 276.7h1.3v1.3h-1.3zM72.4 282.9h1.3v1.3h-1.3zM88.3 266.8h1.3v1.3h-1.3zM86.0 260.5h1.3v1.3h-1.3zM44.6 281.5h1.3v1.3h-1.3zM115.5 313.3h1.3v1.3h-1.3zM87.3 303.1h1.3v1.3h-1.3zM62.5 321.8h1.3v1.3h-1.3zM84.7 269.8h1.3v1.3h-1.3zM52.3 243.1h1.3v1.3h-1.3zM68.6 272.5h1.3v1.3h-1.3zM135.5 302.4h1.3v1.3h-1.3zM107.9 280.3h1.3v1.3h-1.3zM128.5 246.4h1.3v1.3h-1.3zM150.4 272.6h1.3v1.3h-1.3zM78.5 283.4h1.3v1.3h-1.3zM65.9 231.3h1.3v1.3h-1.3zM84.4 286.2h1.3v1.3h-1.3zM32.9 306.7h1.3v1.3h-1.3zM134.9 323.8h1.3v1.3h-1.3zM111.9 265.9h1.3v1.3h-1.3zM68.6 282.4h1.3v1.3h-1.3zM99.4 245.3h1.3v1.3h-1.3zM79.8 278.0h1.3v1.3h-1.3zM34.3 300.4h1.3v1.3h-1.3zM125.6 279.4h1.3v1.3h-1.3zM73.4 330.1h1.3v1.3h-1.3zM138.2 301.9h1.3v1.3h-1.3zM93.0 287.3h1.3v1.3h-1.3zM60.8 297.5h1.3v1.3h-1.3zM83.8 326.8h1.3v1.3h-1.3zM34.2 285.8h1.3v1.3h-1.3zM121.8 249.3h1.3v1.3h-1.3zM95.7 282.3h1.3v1.3h-1.3zM69.8 324.3h1.3v1.3h-1.3zM117.0 333.4h1.3v1.3h-1.3zM123.5 262.2h1.3v1.3h-1.3zM103.9 317.3h1.3v1.3h-1.3zM86.4 275.6h1.3v1.3h-1.3zM82.1 237.8h1.3v1.3h-1.3zM72.0 249.6h1.3v1.3h-1.3zM92.9 232.2h1.3v1.3h-1.3zM98.2 264.8h1.3v1.3h-1.3zM92.6 298.8h1.3v1.3h-1.3zM79.0 293.4h1.3v1.3h-1.3zM87.1 232.5h1.3v1.3h-1.3zM90.5 259.8h1.3v1.3h-1.3zM83.7 312.5h1.3v1.3h-1.3zM69.9 288.1h1.3v1.3h-1.3zM86.4 255.7h1.3v1.3h-1.3zM109.2 280.3h1.3v1.3h-1.3zM144.3 315.6h1.3v1.3h-1.3zM113.6 248.7h1.3v1.3h-1.3zM58.6 238.2h1.3v1.3h-1.3zM81.8 249.3h1.3v1.3h-1.3zM82.6 287.2h1.3v1.3h-1.3zM67.4 278.7h1.3v1.3h-1.3zM98.8 285.3h1.3v1.3h-1.3zM128.1 318.8h1.3v1.3h-1.3zM55.2 235.0h1.3v1.3h-1.3zM77.0 332.2h1.3v1.3h-1.3zM109.9 253.1h1.3v1.3h-1.3zM77.2 342.2h1.3v1.3h-1.3zM80.9 270.6h1.3v1.3h-1.3zM96.2 282.1h1.3v1.3h-1.3zM84.6 273.0h1.3v1.3h-1.3zM93.0 268.3h1.3v1.3h-1.3zM61.4 286.2h1.3v1.3h-1.3zM30.2 293.7h1.3v1.3h-1.3zM90.0 269.9h1.3v1.3h-1.3zM91.8 330.3h1.3v1.3h-1.3zM98.8 261.7h1.3v1.3h-1.3zM106.7 255.7h1.3v1.3h-1.3zM42.2 272.1h1.3v1.3h-1.3zM60.9 278.1h1.3v1.3h-1.3zM94.4 285.2h1.3v1.3h-1.3zM74.9 275.8h1.3v1.3h-1.3zM104.9 246.1h1.3v1.3h-1.3zM103.6 276.9h1.3v1.3h-1.3zM39.0 283.6h1.3v1.3h-1.3zM90.1 275.2h1.3v1.3h-1.3zM104.7 274.3h1.3v1.3h-1.3zM101.6 275.1h1.3v1.3h-1.3zM108.6 274.5h1.3v1.3h-1.3zM53.0 302.9h1.3v1.3h-1.3zM69.7 273.8h1.3v1.3h-1.3zM91.3 225.7h1.3v1.3h-1.3zM102.6 300.4h1.3v1.3h-1.3zM106.2 280.7h1.3v1.3h-1.3zM85.9 295.2h1.3v1.3h-1.3zM139.5 248.6h1.3v1.3h-1.3zM115.5 259.1h1.3v1.3h-1.3zM64.9 288.5h1.3v1.3h-1.3zM50.2 287.2h1.3v1.3h-1.3zM71.4 278.5h1.3v1.3h-1.3zM101.9 311.5h1.3v1.3h-1.3zM63.7 278.5h1.3v1.3h-1.3zM129.8 296.7h1.3v1.3h-1.3zM121.9 258.2h1.3v1.3h-1.3zM106.9 314.5h1.3v1.3h-1.3zM109.5 294.3h1.3v1.3h-1.3zM39.4 297.5h1.3v1.3h-1.3zM70.7 276.8h1.3v1.3h-1.3zM51.8 284.6h1.3v1.3h-1.3zM97.4 236.9h1.3v1.3h-1.3zM140.2 291.6h1.3v1.3h-1.3zM123.8 326.6h1.3v1.3h-1.3zM93.2 308.0h1.3v1.3h-1.3zM76.1 255.7h1.3v1.3h-1.3zM126.3 277.7h1.3v1.3h-1.3zM96.2 308.9h1.3v1.3h-1.3zM127.6 303.9h1.3v1.3h-1.3zM83.3 288.3h1.3v1.3h-1.3zM107.7 308.3h1.3v1.3h-1.3zM76.0 314.8h1.3v1.3h-1.3zM70.9 298.8h1.3v1.3h-1.3zM149.3 277.4h1.3v1.3h-1.3zM97.4 339.0h1.3v1.3h-1.3zM139.6 304.3h1.3v1.3h-1.3zM73.4 264.8h1.3v1.3h-1.3zM108.9 244.6h1.3v1.3h-1.3zM67.3 311.1h1.3v1.3h-1.3zM99.9 295.3h1.3v1.3h-1.3zM100.5 248.6h1.3v1.3h-1.3zM130.6 300.4h1.3v1.3h-1.3zM111.9 301.1h1.3v1.3h-1.3zM44.1 324.3h1.3v1.3h-1.3zM70.3 256.2h1.3v1.3h-1.3zM82.7 278.4h1.3v1.3h-1.3zM46.9 293.1h1.3v1.3h-1.3zM115.5 278.7h1.3v1.3h-1.3zM116.4 273.7h1.3v1.3h-1.3zM107.7 272.0h1.3v1.3h-1.3zM117.8 289.1h1.3v1.3h-1.3zM75.3 269.7h1.3v1.3h-1.3zM99.2 281.8h1.3v1.3h-1.3zM74.1 314.2h1.3v1.3h-1.3zM88.7 333.7h1.3v1.3h-1.3zM85.2 239.4h1.3v1.3h-1.3zM60.8 288.5h1.3v1.3h-1.3zM106.4 275.7h1.3v1.3h-1.3zM111.4 258.5h1.3v1.3h-1.3zM102.5 259.2h1.3v1.3h-1.3zM110.1 316.8h1.3v1.3h-1.3zM107.7 262.9h1.3v1.3h-1.3zM95.9 293.1h1.3v1.3h-1.3zM84.5 244.2h1.3v1.3h-1.3zM104.3 261.7h1.3v1.3h-1.3zM114.8 315.7h1.3v1.3h-1.3zM105.1 321.0h1.3v1.3h-1.3zM85.7 290.4h1.3v1.3h-1.3zM84.6 278.2h1.3v1.3h-1.3zM69.7 262.7h1.3v1.3h-1.3zM129.0 291.6h1.3v1.3h-1.3zM72.5 289.2h1.3v1.3h-1.3zM108.7 261.1h1.3v1.3h-1.3zM105.6 299.1h1.3v1.3h-1.3zM52.2 250.7h1.3v1.3h-1.3zM97.2 313.3h1.3v1.3h-1.3zM73.1 260.7h1.3v1.3h-1.3zM76.4 249.8h1.3v1.3h-1.3zM76.2 242.0h1.3v1.3h-1.3zM44.7 271.1h1.3v1.3h-1.3zM55.7 244.8h1.3v1.3h-1.3zM93.6 321.3h1.3v1.3h-1.3zM114.6 311.8h1.3v1.3h-1.3zM140.5 303.3h1.3v1.3h-1.3zM91.4 280.6h1.3v1.3h-1.3zM91.9 306.9h1.3v1.3h-1.3zM59.0 241.1h1.3v1.3h-1.3zM56.7 259.4h1.3v1.3h-1.3zM77.0 289.3h1.3v1.3h-1.3zM102.8 279.5h1.3v1.3h-1.3zM126.4 267.0h1.3v1.3h-1.3zM104.3 316.2h1.3v1.3h-1.3zM108.3 329.6h1.3v1.3h-1.3zM103.4 301.3h1.3v1.3h-1.3zM94.6 303.7h1.3v1.3h-1.3zM118.8 243.5h1.3v1.3h-1.3zM80.7 333.8h1.3v1.3h-1.3zM64.3 290.2h1.3v1.3h-1.3zM103.6 251.3h1.3v1.3h-1.3zM69.4 311.7h1.3v1.3h-1.3zM66.3 272.8h1.3v1.3h-1.3zM94.1 286.7h1.3v1.3h-1.3zM34.5 308.9h1.3v1.3h-1.3zM89.0 287.8h1.3v1.3h-1.3zM76.7 311.3h1.3v1.3h-1.3zM63.5 262.3h1.3v1.3h-1.3zM83.9 280.0h1.3v1.3h-1.3zM81.8 289.6h1.3v1.3h-1.3zM123.5 316.8h1.3v1.3h-1.3zM93.2 268.7h1.3v1.3h-1.3zM98.2 314.6h1.3v1.3h-1.3zM55.3 276.5h1.3v1.3h-1.3zM106.5 319.7h1.3v1.3h-1.3zM78.8 312.5h1.3v1.3h-1.3zM99.5 289.9h1.3v1.3h-1.3zM79.4 256.3h1.3v1.3h-1.3zM44.8 304.0h1.3v1.3h-1.3zM90.0 255.8h1.3v1.3h-1.3zM142.8 247.3h1.3v1.3h-1.3zM67.2 270.0h1.3v1.3h-1.3zM126.3 309.1h1.3v1.3h-1.3zM67.7 250.8h1.3v1.3h-1.3zM120.9 309.8h1.3v1.3h-1.3zM78.3 266.5h1.3v1.3h-1.3zM142.1 283.4h1.3v1.3h-1.3zM103.1 302.7h1.3v1.3h-1.3zM120.0 289.6h1.3v1.3h-1.3zM117.6 281.8h1.3v1.3h-1.3zM102.5 276.5h1.3v1.3h-1.3zM84.1 292.2h1.3v1.3h-1.3zM71.9 309.2h1.3v1.3h-1.3zM71.0 275.1h1.3v1.3h-1.3zM105.0 277.0h1.3v1.3h-1.3zM84.1 261.8h1.3v1.3h-1.3zM77.8 250.7h1.3v1.3h-1.3zM120.2 250.3h1.3v1.3h-1.3zM69.9 280.3h1.3v1.3h-1.3zM86.6 331.6h1.3v1.3h-1.3zM108.0 317.6h1.3v1.3h-1.3zM68.8 261.7h1.3v1.3h-1.3zM62.3 283.9h1.3v1.3h-1.3zM106.8 301.8h1.3v1.3h-1.3zM86.8 273.4h1.3v1.3h-1.3zM63.1 306.1h1.3v1.3h-1.3zM116.4 310.6h1.3v1.3h-1.3zM104.9 327.4h1.3v1.3h-1.3zM66.6 261.6h1.3v1.3h-1.3zM140.6 287.1h1.3v1.3h-1.3zM111.1 270.4h1.3v1.3h-1.3zM45.7 295.6h1.3v1.3h-1.3zM105.4 299.7h1.3v1.3h-1.3zM136.6 256.3h1.3v1.3h-1.3zM101.3 260.8h1.3v1.3h-1.3zM133.3 275.2h1.3v1.3h-1.3zM39.3 263.1h1.3v1.3h-1.3zM105.9 300.1h1.3v1.3h-1.3zM114.7 298.8h1.3v1.3h-1.3zM62.9 269.6h1.3v1.3h-1.3zM61.5 293.9h1.3v1.3h-1.3zM94.4 246.3h1.3v1.3h-1.3zM121.3 261.9h1.3v1.3h-1.3zM115.2 286.5h1.3v1.3h-1.3zM77.5 292.3h1.3v1.3h-1.3zM77.4 335.9h1.3v1.3h-1.3zM126.2 270.2h1.3v1.3h-1.3zM90.1 273.5h1.3v1.3h-1.3zM34.8 269.4h1.3v1.3h-1.3zM86.1 236.4h1.3v1.3h-1.3zM68.8 302.4h1.3v1.3h-1.3zM127.1 271.6h1.3v1.3h-1.3zM95.9 294.3h1.3v1.3h-1.3zM123.8 269.7h1.3v1.3h-1.3zM87.4 252.0h1.3v1.3h-1.3zM78.7 297.7h1.3v1.3h-1.3zM89.9 260.2h1.3v1.3h-1.3zM68.1 340.9h1.3v1.3h-1.3zM103.2 308.9h1.3v1.3h-1.3zM109.2 293.0h1.3v1.3h-1.3zM68.7 260.3h1.3v1.3h-1.3zM149.2 267.6h1.3v1.3h-1.3zM82.6 267.6h1.3v1.3h-1.3zM125.3 300.5h1.3v1.3h-1.3zM51.7 278.8h1.3v1.3h-1.3zM116.3 279.1h1.3v1.3h-1.3zM147.3 272.6h1.3v1.3h-1.3zM97.5 255.2h1.3v1.3h-1.3zM49.2 319.6h1.3v1.3h-1.3zM83.2 297.4h1.3v1.3h-1.3zM99.4 264.4h1.3v1.3h-1.3zM132.0 270.6h1.3v1.3h-1.3zM94.2 275.2h1.3v1.3h-1.3zM41.2 318.4h1.3v1.3h-1.3zM102.0 266.7h1.3v1.3h-1.3zM99.5 269.0h1.3v1.3h-1.3zM120.9 281.7h1.3v1.3h-1.3zM79.8 269.8h1.3v1.3h-1.3zM97.7 294.4h1.3v1.3h-1.3zM117.4 271.1h1.3v1.3h-1.3zM87.0 276.2h1.3v1.3h-1.3zM54.8 303.7h1.3v1.3h-1.3zM99.2 283.3h1.3v1.3h-1.3zM83.1 300.0h1.3v1.3h-1.3zM119.9 296.8h1.3v1.3h-1.3zM78.9 242.4h1.3v1.3h-1.3zM68.2 339.2h1.3v1.3h-1.3zM55.4 251.3h1.3v1.3h-1.3zM128.8 245.0h1.3v1.3h-1.3zM126.9 309.0h1.3v1.3h-1.3zM54.0 333.1h1.3v1.3h-1.3zM65.6 262.2h1.3v1.3h-1.3zM90.0 286.8h1.3v1.3h-1.3zM112.6 274.2h1.3v1.3h-1.3zM122.6 270.9h1.3v1.3h-1.3zM114.9 286.5h1.3v1.3h-1.3zM83.7 292.7h1.3v1.3h-1.3zM99.1 241.1h1.3v1.3h-1.3zM89.5 278.9h1.3v1.3h-1.3zM80.3 262.8h1.3v1.3h-1.3zM76.0 295.7h1.3v1.3h-1.3zM117.8 268.2h1.3v1.3h-1.3zM141.7 333.8h1.3v1.3h-1.3zM79.5 258.1h1.3v1.3h-1.3zM87.2 304.1h1.3v1.3h-1.3zM133.7 261.9h1.3v1.3h-1.3zM98.7 238.5h1.3v1.3h-1.3zM110.3 273.7h1.3v1.3h-1.3zM85.1 308.2h1.3v1.3h-1.3zM121.6 294.9h1.3v1.3h-1.3zM111.9 273.3h1.3v1.3h-1.3zM68.3 324.8h1.3v1.3h-1.3zM72.1 269.3h1.3v1.3h-1.3zM128.3 290.8h1.3v1.3h-1.3zM92.6 271.9h1.3v1.3h-1.3zM108.9 256.6h1.3v1.3h-1.3zM74.3 266.5h1.3v1.3h-1.3zM110.5 338.7h1.3v1.3h-1.3zM84.3 315.0h1.3v1.3h-1.3zM130.1 296.2h1.3v1.3h-1.3zM59.0 314.6h1.3v1.3h-1.3zM71.8 276.2h1.3v1.3h-1.3zM94.0 294.9h1.3v1.3h-1.3zM108.5 256.1h1.3v1.3h-1.3zM147.4 295.7h1.3v1.3h-1.3zM63.8 271.5h1.3v1.3h-1.3zM41.9 248.2h1.3v1.3h-1.3zM68.7 263.4h1.3v1.3h-1.3zM95.2 278.9h1.3v1.3h-1.3zM117.0 262.5h1.3v1.3h-1.3zM101.9 259.7h1.3v1.3h-1.3zM117.2 317.2h1.3v1.3h-1.3zM58.0 243.8h1.3v1.3h-1.3zM133.4 275.5h1.3v1.3h-1.3zM96.4 269.8h1.3v1.3h-1.3zM85.4 299.2h1.3v1.3h-1.3zM119.9 270.0h1.3v1.3h-1.3zM111.7 247.8h1.3v1.3h-1.3zM119.0 271.2h1.3v1.3h-1.3zM119.5 302.3h1.3v1.3h-1.3zM116.7 270.2h1.3v1.3h-1.3zM73.3 230.9h1.3v1.3h-1.3zM83.3 285.8h1.3v1.3h-1.3zM128.5 299.0h1.3v1.3h-1.3zM80.9 327.2h1.3v1.3h-1.3zM125.1 273.0h1.3v1.3h-1.3zM37.8 294.8h1.3v1.3h-1.3zM85.8 239.0h1.3v1.3h-1.3zM106.0 246.2h1.3v1.3h-1.3zM66.2 250.4h1.3v1.3h-1.3zM112.7 317.7h1.3v1.3h-1.3zM99.4 271.0h1.3v1.3h-1.3zM39.3 282.8h1.3v1.3h-1.3zM79.4 268.5h1.3v1.3h-1.3zM69.2 297.2h1.3v1.3h-1.3zM95.2 310.9h1.3v1.3h-1.3zM43.6 319.5h1.3v1.3h-1.3zM46.9 257.0h1.3v1.3h-1.3zM71.0 267.3h1.3v1.3h-1.3zM105.4 276.9h1.3v1.3h-1.3zM100.1 331.2h1.3v1.3h-1.3zM50.7 252.1h1.3v1.3h-1.3zM84.5 269.3h1.3v1.3h-1.3zM113.4 299.7h1.3v1.3h-1.3zM97.4 270.4h1.3v1.3h-1.3zM121.4 299.1h1.3v1.3h-1.3zM89.4 295.1h1.3v1.3h-1.3zM61.6 250.7h1.3v1.3h-1.3zM82.8 255.8h1.3v1.3h-1.3zM87.8 284.4h1.3v1.3h-1.3zM120.7 311.9h1.3v1.3h-1.3zM94.8 272.6h1.3v1.3h-1.3zM79.8 288.4h1.3v1.3h-1.3zM73.1 290.4h1.3v1.3h-1.3zM70.8 268.8h1.3v1.3h-1.3zM50.3 239.1h1.3v1.3h-1.3zM67.2 293.6h1.3v1.3h-1.3zM121.8 259.7h1.3v1.3h-1.3zM107.1 266.0h1.3v1.3h-1.3zM116.8 280.4h1.3v1.3h-1.3zM133.8 298.1h1.3v1.3h-1.3zM84.7 286.9h1.3v1.3h-1.3zM127.6 270.7h1.3v1.3h-1.3zM54.5 282.3h1.3v1.3h-1.3zM86.8 309.9h1.3v1.3h-1.3zM103.8 271.3h1.3v1.3h-1.3zM117.6 230.4h1.3v1.3h-1.3zM66.1 269.4h1.3v1.3h-1.3zM109.7 255.7h1.3v1.3h-1.3zM110.5 312.6h1.3v1.3h-1.3zM79.4 281.8h1.3v1.3h-1.3zM112.5 270.7h1.3v1.3h-1.3zM45.9 310.6h1.3v1.3h-1.3zM74.1 280.8h1.3v1.3h-1.3zM87.0 244.9h1.3v1.3h-1.3zM97.8 267.4h1.3v1.3h-1.3zM87.0 279.7h1.3v1.3h-1.3zM103.6 315.9h1.3v1.3h-1.3zM115.7 334.2h1.3v1.3h-1.3zM90.0 320.7h1.3v1.3h-1.3zM90.6 263.6h1.3v1.3h-1.3zM93.9 230.5h1.3v1.3h-1.3zM65.2 280.4h1.3v1.3h-1.3zM90.2 246.1h1.3v1.3h-1.3zM118.6 316.7h1.3v1.3h-1.3zM68.2 274.5h1.3v1.3h-1.3zM75.0 311.7h1.3v1.3h-1.3zM77.5 284.0h1.3v1.3h-1.3zM73.0 264.9h1.3v1.3h-1.3zM108.5 267.4h1.3v1.3h-1.3zM90.7 292.9h1.3v1.3h-1.3zM75.8 264.5h1.3v1.3h-1.3zM53.7 302.2h1.3v1.3h-1.3zM93.0 269.3h1.3v1.3h-1.3zM90.0 295.2h1.3v1.3h-1.3zM117.4 302.3h1.3v1.3h-1.3zM73.7 243.3h1.3v1.3h-1.3zM109.1 270.5h1.3v1.3h-1.3zM50.7 271.7h1.3v1.3h-1.3zM106.5 326.2h1.3v1.3h-1.3zM102.9 279.7h1.3v1.3h-1.3zM108.4 260.9h1.3v1.3h-1.3zM105.9 307.9h1.3v1.3h-1.3zM123.2 306.1h1.3v1.3h-1.3zM105.3 273.0h1.3v1.3h-1.3zM43.4 252.4h1.3v1.3h-1.3zM118.4 301.0h1.3v1.3h-1.3zM86.2 299.4h1.3v1.3h-1.3zM94.9 276.0h1.3v1.3h-1.3zM67.6 285.4h1.3v1.3h-1.3zM114.7 289.4h1.3v1.3h-1.3zM104.8 271.3h1.3v1.3h-1.3zM87.6 271.5h1.3v1.3h-1.3zM85.3 268.2h1.3v1.3h-1.3zM84.2 278.3h1.3v1.3h-1.3zM61.0 252.9h1.3v1.3h-1.3zM98.4 277.3h1.3v1.3h-1.3zM47.6 298.7h1.3v1.3h-1.3zM88.7 305.7h1.3v1.3h-1.3zM113.4 333.0h1.3v1.3h-1.3zM106.3 315.1h1.3v1.3h-1.3zM65.3 292.0h1.3v1.3h-1.3zM93.8 294.6h1.3v1.3h-1.3zM52.3 315.1h1.3v1.3h-1.3zM123.3 271.1h1.3v1.3h-1.3zM100.8 283.2h1.3v1.3h-1.3zM134.1 264.3h1.3v1.3h-1.3zM86.8 298.2h1.3v1.3h-1.3zM112.8 282.6h1.3v1.3h-1.3zM138.1 319.7h1.3v1.3h-1.3zM118.2 261.5h1.3v1.3h-1.3zM112.6 273.4h1.3v1.3h-1.3zM124.1 250.1h1.3v1.3h-1.3zM112.8 255.5h1.3v1.3h-1.3zM83.6 288.5h1.3v1.3h-1.3zM67.8 265.2h1.3v1.3h-1.3zM46.3 309.4h1.3v1.3h-1.3zM129.3 314.2h1.3v1.3h-1.3zM89.3 253.7h1.3v1.3h-1.3zM102.4 306.0h1.3v1.3h-1.3zM82.4 276.1h1.3v1.3h-1.3zM97.3 243.3h1.3v1.3h-1.3zM112.6 276.3h1.3v1.3h-1.3zM99.0 326.0h1.3v1.3h-1.3zM133.6 243.3h1.3v1.3h-1.3zM77.2 324.6h1.3v1.3h-1.3zM117.8 319.5h1.3v1.3h-1.3zM57.1 284.1h1.3v1.3h-1.3zM80.7 288.7h1.3v1.3h-1.3zM92.1 256.0h1.3v1.3h-1.3zM138.2 301.9h1.3v1.3h-1.3zM115.8 328.5h1.3v1.3h-1.3zM141.6 277.3h1.3v1.3h-1.3zM91.8 294.6h1.3v1.3h-1.3zM85.5 304.9h1.3v1.3h-1.3zM123.9 286.3h1.3v1.3h-1.3zM101.4 322.6h1.3v1.3h-1.3zM83.3 285.4h1.3v1.3h-1.3zM77.0 337.3h1.3v1.3h-1.3zM95.1 255.0h1.3v1.3h-1.3zM107.3 296.5h1.3v1.3h-1.3zM75.5 268.7h1.3v1.3h-1.3zM92.5 255.7h1.3v1.3h-1.3zM138.6 310.6h1.3v1.3h-1.3zM108.4 301.8h1.3v1.3h-1.3zM102.8 306.9h1.3v1.3h-1.3zM117.2 264.3h1.3v1.3h-1.3zM68.6 324.1h1.3v1.3h-1.3zM89.8 318.1h1.3v1.3h-1.3zM107.5 339.5h1.3v1.3h-1.3zM118.2 276.0h1.3v1.3h-1.3zM131.7 316.4h1.3v1.3h-1.3zM129.2 277.6h1.3v1.3h-1.3zM139.5 296.1h1.3v1.3h-1.3zM105.8 292.6h1.3v1.3h-1.3zM79.3 260.1h1.3v1.3h-1.3zM61.7 264.5h1.3v1.3h-1.3zM128.1 282.5h1.3v1.3h-1.3zM109.2 257.3h1.3v1.3h-1.3zM94.8 298.4h1.3v1.3h-1.3zM99.6 242.4h1.3v1.3h-1.3zM106.7 277.1h1.3v1.3h-1.3zM75.1 243.1h1.3v1.3h-1.3zM85.8 250.9h1.3v1.3h-1.3zM78.2 263.8h1.3v1.3h-1.3zM91.5 334.1h1.3v1.3h-1.3zM135.3 320.3h1.3v1.3h-1.3zM113.0 251.3h1.3v1.3h-1.3zM136.1 287.5h1.3v1.3h-1.3zM60.9 291.9h1.3v1.3h-1.3zM146.9 250.0h1.3v1.3h-1.3zM81.3 215.5h1.3v1.3h-1.3zM117.6 264.5h1.3v1.3h-1.3zM92.1 260.0h1.3v1.3h-1.3zM104.2 263.8h1.3v1.3h-1.3zM139.7 287.2h1.3v1.3h-1.3zM84.5 229.0h1.3v1.3h-1.3zM81.0 283.3h1.3v1.3h-1.3zM99.2 282.6h1.3v1.3h-1.3zM114.6 293.5h1.3v1.3h-1.3zM135.8 262.7h1.3v1.3h-1.3zM47.0 282.9h1.3v1.3h-1.3zM86.6 285.0h1.3v1.3h-1.3zM117.5 294.3h1.3v1.3h-1.3zM82.4 313.6h1.3v1.3h-1.3zM92.3 308.4h1.3v1.3h-1.3zM71.4 281.8h1.3v1.3h-1.3zM103.8 292.4h1.3v1.3h-1.3zM68.7 264.3h1.3v1.3h-1.3zM123.6 287.5h1.3v1.3h-1.3zM73.3 291.9h1.3v1.3h-1.3zM116.8 269.4h1.3v1.3h-1.3zM130.0 298.4h1.3v1.3h-1.3zM90.7 266.3h1.3v1.3h-1.3zM66.0 277.9h1.3v1.3h-1.3zM106.4 284.8h1.3v1.3h-1.3zM67.4 287.8h1.3v1.3h-1.3zM54.5 308.2h1.3v1.3h-1.3zM83.8 294.6h1.3v1.3h-1.3zM130.0 324.2h1.3v1.3h-1.3zM119.9 229.6h1.3v1.3h-1.3zM123.1 304.5h1.3v1.3h-1.3zM56.3 242.3h1.3v1.3h-1.3zM86.7 272.5h1.3v1.3h-1.3zM75.5 270.1h1.3v1.3h-1.3zM95.1 255.7h1.3v1.3h-1.3zM111.1 301.7h1.3v1.3h-1.3zM110.4 270.4h1.3v1.3h-1.3zM81.4 229.2h1.3v1.3h-1.3zM58.5 253.9h1.3v1.3h-1.3zM63.2 288.2h1.3v1.3h-1.3zM141.7 304.3h1.3v1.3h-1.3zM96.3 254.2h1.3v1.3h-1.3zM79.7 282.1h1.3v1.3h-1.3zM110.5 289.8h1.3v1.3h-1.3zM127.1 296.3h1.3v1.3h-1.3zM41.5 245.6h1.3v1.3h-1.3zM80.8 332.3h1.3v1.3h-1.3zM99.7 278.5h1.3v1.3h-1.3zM98.2 308.1h1.3v1.3h-1.3zM111.8 257.4h1.3v1.3h-1.3zM107.9 256.2h1.3v1.3h-1.3zM126.1 332.5h1.3v1.3h-1.3zM84.5 266.9h1.3v1.3h-1.3zM131.3 270.8h1.3v1.3h-1.3zM123.0 317.2h1.3v1.3h-1.3zM112.2 331.3h1.3v1.3h-1.3zM92.7 249.2h1.3v1.3h-1.3zM90.7 304.4h1.3v1.3h-1.3zM76.2 245.4h1.3v1.3h-1.3zM134.7 294.1h1.3v1.3h-1.3zM112.1 298.4h1.3v1.3h-1.3zM140.4 280.5h1.3v1.3h-1.3zM63.5 284.7h1.3v1.3h-1.3zM133.9 283.5h1.3v1.3h-1.3zM53.9 258.1h1.3v1.3h-1.3zM127.6 312.8h1.3v1.3h-1.3zM124.4 265.3h1.3v1.3h-1.3zM107.1 286.6h1.3v1.3h-1.3zM98.6 274.4h1.3v1.3h-1.3zM78.0 273.3h1.3v1.3h-1.3zM44.2 319.8h1.3v1.3h-1.3zM123.3 278.4h1.3v1.3h-1.3zM45.6 308.6h1.3v1.3h-1.3zM127.0 289.0h1.3v1.3h-1.3zM117.4 324.0h1.3v1.3h-1.3zM115.2 286.6h1.3v1.3h-1.3zM80.5 265.8h1.3v1.3h-1.3zM89.6 275.0h1.3v1.3h-1.3zM103.9 321.8h1.3v1.3h-1.3zM116.7 276.0h1.3v1.3h-1.3zM52.7 311.8h1.3v1.3h-1.3zM110.9 263.8h1.3v1.3h-1.3zM89.5 296.4h1.3v1.3h-1.3zM61.8 335.3h1.3v1.3h-1.3zM115.9 287.4h1.3v1.3h-1.3zM77.3 294.5h1.3v1.3h-1.3zM117.2 271.2h1.3v1.3h-1.3zM118.7 255.8h1.3v1.3h-1.3zM89.0 297.0h1.3v1.3h-1.3zM125.5 296.4h1.3v1.3h-1.3zM129.9 289.7h1.3v1.3h-1.3zM53.9 316.0h1.3v1.3h-1.3zM68.1 258.6h1.3v1.3h-1.3zM61.4 314.1h1.3v1.3h-1.3zM116.2 288.2h1.3v1.3h-1.3zM50.2 261.2h1.3v1.3h-1.3zM59.2 282.3h1.3v1.3h-1.3zM105.5 318.7h1.3v1.3h-1.3zM116.3 282.1h1.3v1.3h-1.3zM128.1 314.8h1.3v1.3h-1.3zM65.2 291.3h1.3v1.3h-1.3zM105.1 242.8h1.3v1.3h-1.3zM90.9 260.7h1.3v1.3h-1.3zM91.6 270.2h1.3v1.3h-1.3zM103.1 250.2h1.3v1.3h-1.3zM100.9 311.2h1.3v1.3h-1.3zM109.8 269.7h1.3v1.3h-1.3zM121.8 258.3h1.3v1.3h-1.3zM140.1 298.2h1.3v1.3h-1.3zM90.5 297.4h1.3v1.3h-1.3zM56.4 263.6h1.3v1.3h-1.3zM133.2 243.1h1.3v1.3h-1.3zM28.1 282.2h1.3v1.3h-1.3zM109.8 287.1h1.3v1.3h-1.3zM59.6 298.5h1.3v1.3h-1.3zM119.4 316.5h1.3v1.3h-1.3zM95.2 312.4h1.3v1.3h-1.3zM74.7 304.1h1.3v1.3h-1.3zM73.2 310.4h1.3v1.3h-1.3zM112.8 283.7h1.3v1.3h-1.3zM68.2 280.4h1.3v1.3h-1.3zM98.8 288.0h1.3v1.3h-1.3zM126.0 270.0h1.3v1.3h-1.3zM130.8 254.2h1.3v1.3h-1.3zM135.3 285.9h1.3v1.3h-1.3zM73.0 298.0h1.3v1.3h-1.3zM74.1 259.6h1.3v1.3h-1.3zM117.4 254.7h1.3v1.3h-1.3zM52.3 292.0h1.3v1.3h-1.3zM95.6 244.2h1.3v1.3h-1.3zM112.5 265.8h1.3v1.3h-1.3zM129.9 269.9h1.3v1.3h-1.3zM85.5 265.9h1.3v1.3h-1.3zM67.6 269.8h1.3v1.3h-1.3zM112.3 262.9h1.3v1.3h-1.3zM99.5 318.2h1.3v1.3h-1.3zM115.4 283.0h1.3v1.3h-1.3zM87.5 243.1h1.3v1.3h-1.3zM81.8 294.8h1.3v1.3h-1.3zM80.6 227.7h1.3v1.3h-1.3zM65.5 261.5h1.3v1.3h-1.3zM62.0 287.5h1.3v1.3h-1.3zM84.7 302.3h1.3v1.3h-1.3zM98.7 282.5h1.3v1.3h-1.3zM83.9 273.7h1.3v1.3h-1.3zM46.9 277.6h1.3v1.3h-1.3zM90.3 275.7h1.3v1.3h-1.3zM78.5 254.7h1.3v1.3h-1.3zM53.7 328.7h1.3v1.3h-1.3zM138.3 311.0h1.3v1.3h-1.3zM71.3 260.2h1.3v1.3h-1.3zM110.5 290.8h1.3v1.3h-1.3zM49.5 276.7h1.3v1.3h-1.3zM80.4 284.1h1.3v1.3h-1.3zM98.3 254.0h1.3v1.3h-1.3zM119.4 260.0h1.3v1.3h-1.3zM112.3 279.4h1.3v1.3h-1.3zM92.5 270.3h1.3v1.3h-1.3zM119.3 289.8h1.3v1.3h-1.3zM74.7 282.8h1.3v1.3h-1.3zM91.0 303.4h1.3v1.3h-1.3zM94.4 284.1h1.3v1.3h-1.3zM132.1 326.3h1.3v1.3h-1.3zM90.4 289.3h1.3v1.3h-1.3zM74.7 279.5h1.3v1.3h-1.3zM106.4 241.7h1.3v1.3h-1.3zM109.3 328.9h1.3v1.3h-1.3zM91.4 305.1h1.3v1.3h-1.3zM111.0 255.5h1.3v1.3h-1.3zM73.1 315.4h1.3v1.3h-1.3zM75.2 261.1h1.3v1.3h-1.3zM125.4 282.1h1.3v1.3h-1.3zM109.6 249.5h1.3v1.3h-1.3zM75.1 269.1h1.3v1.3h-1.3zM90.7 279.2h1.3v1.3h-1.3zM94.2 306.9h1.3v1.3h-1.3zM72.0 278.0h1.3v1.3h-1.3zM111.9 287.2h1.3v1.3h-1.3zM129.6 267.5h1.3v1.3h-1.3zM90.5 267.2h1.3v1.3h-1.3zM135.1 311.1h1.3v1.3h-1.3zM123.5 275.9h1.3v1.3h-1.3zM145.0 282.7h1.3v1.3h-1.3zM92.5 239.7h1.3v1.3h-1.3zM89.6 241.0h1.3v1.3h-1.3zM52.3 310.5h1.3v1.3h-1.3zM101.2 272.8h1.3v1.3h-1.3zM68.7 293.1h1.3v1.3h-1.3zM91.6 305.8h1.3v1.3h-1.3zM103.0 302.2h1.3v1.3h-1.3zM137.7 288.8h1.3v1.3h-1.3zM69.7 325.7h1.3v1.3h-1.3zM113.9 258.8h1.3v1.3h-1.3zM67.7 297.4h1.3v1.3h-1.3zM103.5 286.3h1.3v1.3h-1.3zM73.7 323.5h1.3v1.3h-1.3zM79.3 256.1h1.3v1.3h-1.3zM64.1 307.0h1.3v1.3h-1.3zM103.3 331.9h1.3v1.3h-1.3zM49.0 271.1h1.3v1.3h-1.3zM102.3 255.2h1.3v1.3h-1.3zM64.0 288.5h1.3v1.3h-1.3zM105.9 277.6h1.3v1.3h-1.3zM99.7 282.6h1.3v1.3h-1.3zM136.0 293.1h1.3v1.3h-1.3zM132.7 273.2h1.3v1.3h-1.3zM73.2 227.7h1.3v1.3h-1.3zM130.7 330.7h1.3v1.3h-1.3zM78.9 279.1h1.3v1.3h-1.3zM48.7 277.8h1.3v1.3h-1.3zM82.5 289.7h1.3v1.3h-1.3zM115.1 268.1h1.3v1.3h-1.3zM111.2 315.7h1.3v1.3h-1.3zM78.0 328.8h1.3v1.3h-1.3zM98.8 254.3h1.3v1.3h-1.3zM79.1 325.5h1.3v1.3h-1.3zM98.6 241.9h1.3v1.3h-1.3zM129.4 315.4h1.3v1.3h-1.3zM64.7 274.2h1.3v1.3h-1.3zM77.8 285.1h1.3v1.3h-1.3zM92.2 275.3h1.3v1.3h-1.3zM86.8 301.8h1.3v1.3h-1.3zM49.2 314.8h1.3v1.3h-1.3zM104.6 291.3h1.3v1.3h-1.3zM87.6 224.9h1.3v1.3h-1.3zM128.2 261.1h1.3v1.3h-1.3zM72.7 264.3h1.3v1.3h-1.3zM80.2 268.6h1.3v1.3h-1.3zM120.6 256.5h1.3v1.3h-1.3zM83.1 302.2h1.3v1.3h-1.3zM120.7 318.8h1.3v1.3h-1.3zM133.1 314.0h1.3v1.3h-1.3zM81.7 283.6h1.3v1.3h-1.3zM74.3 250.9h1.3v1.3h-1.3zM88.7 287.8h1.3v1.3h-1.3zM47.2 274.8h1.3v1.3h-1.3zM131.5 267.2h1.3v1.3h-1.3zM72.0 294.6h1.3v1.3h-1.3zM57.0 274.0h1.3v1.3h-1.3zM107.8 284.4h1.3v1.3h-1.3zM57.1 286.2h1.3v1.3h-1.3zM114.5 267.2h1.3v1.3h-1.3zM87.9 292.4h1.3v1.3h-1.3zM120.3 289.5h1.3v1.3h-1.3zM83.9 265.3h1.3v1.3h-1.3zM92.2 275.4h1.3v1.3h-1.3zM89.1 292.2h1.3v1.3h-1.3zM87.3 288.0h1.3v1.3h-1.3zM70.4 277.7h1.3v1.3h-1.3zM43.9 285.6h1.3v1.3h-1.3zM127.9 271.6h1.3v1.3h-1.3zM93.3 288.4h1.3v1.3h-1.3zM76.4 282.1h1.3v1.3h-1.3zM135.4 300.0h1.3v1.3h-1.3zM38.1 298.1h1.3v1.3h-1.3zM104.6 291.4h1.3v1.3h-1.3zM90.1 281.7h1.3v1.3h-1.3zM85.6 268.2h1.3v1.3h-1.3zM55.0 279.7h1.3v1.3h-1.3zM54.7 288.1h1.3v1.3h-1.3zM96.1 278.8h1.3v1.3h-1.3zM131.6 289.9h1.3v1.3h-1.3zM113.6 289.1h1.3v1.3h-1.3zM130.8 278.9h1.3v1.3h-1.3zM93.5 276.0h1.3v1.3h-1.3zM80.2 291.7h1.3v1.3h-1.3zM64.8 266.7h1.3v1.3h-1.3zM90.1 242.9h1.3v1.3h-1.3zM112.4 331.0h1.3v1.3h-1.3zM57.9 259.2h1.3v1.3h-1.3zM124.4 277.3h1.3v1.3h-1.3zM55.6 291.7h1.3v1.3h-1.3zM37.6 286.1h1.3v1.3h-1.3zM61.7 322.9h1.3v1.3h-1.3zM94.0 291.7h1.3v1.3h-1.3zM94.7 265.3h1.3v1.3h-1.3zM74.3 285.1h1.3v1.3h-1.3zM128.2 321.3h1.3v1.3h-1.3zM101.6 283.1h1.3v1.3h-1.3zM75.9 275.5h1.3v1.3h-1.3zM93.6 266.2h1.3v1.3h-1.3zM69.0 305.5h1.3v1.3h-1.3zM110.1 286.0h1.3v1.3h-1.3zM116.6 293.3h1.3v1.3h-1.3zM87.8 316.1h1.3v1.3h-1.3zM120.2 263.2h1.3v1.3h-1.3zM108.2 299.8h1.3v1.3h-1.3zM130.1 258.2h1.3v1.3h-1.3zM110.9 299.9h1.3v1.3h-1.3zM87.4 289.8h1.3v1.3h-1.3zM52.3 255.9h1.3v1.3h-1.3zM116.4 284.3h1.3v1.3h-1.3zM112.0 326.2h1.3v1.3h-1.3zM88.5 282.0h1.3v1.3h-1.3zM65.4 227.4h1.3v1.3h-1.3zM107.2 247.6h1.3v1.3h-1.3zM83.7 267.3h1.3v1.3h-1.3zM139.5 294.6h1.3v1.3h-1.3zM140.9 274.9h1.3v1.3h-1.3zM130.4 325.8h1.3v1.3h-1.3zM112.3 282.6h1.3v1.3h-1.3zM63.7 309.2h1.3v1.3h-1.3zM128.9 299.7h1.3v1.3h-1.3zM110.0 308.5h1.3v1.3h-1.3zM64.3 297.6h1.3v1.3h-1.3zM39.7 302.3h1.3v1.3h-1.3zM108.5 240.8h1.3v1.3h-1.3zM92.2 261.1h1.3v1.3h-1.3zM85.9 307.5h1.3v1.3h-1.3zM124.2 265.3h1.3v1.3h-1.3zM111.9 329.8h1.3v1.3h-1.3zM83.8 254.1h1.3v1.3h-1.3zM95.0 292.6h1.3v1.3h-1.3zM81.9 276.7h1.3v1.3h-1.3zM65.4 298.0h1.3v1.3h-1.3zM113.5 266.4h1.3v1.3h-1.3zM83.3 263.7h1.3v1.3h-1.3zM68.0 276.6h1.3v1.3h-1.3zM108.9 309.1h1.3v1.3h-1.3zM113.9 256.9h1.3v1.3h-1.3zM59.3 299.6h1.3v1.3h-1.3zM31.5 295.0h1.3v1.3h-1.3zM94.6 318.8h1.3v1.3h-1.3zM80.6 287.3h1.3v1.3h-1.3zM114.5 260.5h1.3v1.3h-1.3zM123.0 298.3h1.3v1.3h-1.3zM78.3 262.1h1.3v1.3h-1.3zM122.1 249.4h1.3v1.3h-1.3zM148.9 275.6h1.3v1.3h-1.3zM92.2 303.5h1.3v1.3h-1.3zM120.2 263.8h1.3v1.3h-1.3zM84.7 287.1h1.3v1.3h-1.3zM121.1 258.2h1.3v1.3h-1.3zM121.7 306.1h1.3v1.3h-1.3zM92.9 305.4h1.3v1.3h-1.3zM56.7 317.9h1.3v1.3h-1.3zM94.1 271.5h1.3v1.3h-1.3zM75.5 224.2h1.3v1.3h-1.3zM89.1 290.3h1.3v1.3h-1.3zM102.0 286.3h1.3v1.3h-1.3zM99.8 304.7h1.3v1.3h-1.3zM109.7 251.8h1.3v1.3h-1.3zM56.3 303.7h1.3v1.3h-1.3zM70.6 269.1h1.3v1.3h-1.3zM67.0 302.4h1.3v1.3h-1.3zM114.3 276.4h1.3v1.3h-1.3zM105.2 258.3h1.3v1.3h-1.3zM95.1 249.7h1.3v1.3h-1.3zM86.4 286.0h1.3v1.3h-1.3zM62.8 276.0h1.3v1.3h-1.3zM81.8 286.2h1.3v1.3h-1.3zM92.2 245.8h1.3v1.3h-1.3zM35.4 263.1h1.3v1.3h-1.3zM100.3 253.2h1.3v1.3h-1.3zM123.4 281.2h1.3v1.3h-1.3zM115.8 288.1h1.3v1.3h-1.3zM137.6 322.7h1.3v1.3h-1.3zM93.0 251.2h1.3v1.3h-1.3zM96.7 313.9h1.3v1.3h-1.3zM116.9 277.2h1.3v1.3h-1.3zM115.2 268.3h1.3v1.3h-1.3zM127.5 319.0h1.3v1.3h-1.3zM118.0 285.6h1.3v1.3h-1.3zM73.3 264.5h1.3v1.3h-1.3zM103.2 271.9h1.3v1.3h-1.3zM65.0 270.6h1.3v1.3h-1.3zM128.5 300.5h1.3v1.3h-1.3zM94.9 298.9h1.3v1.3h-1.3zM91.4 319.2h1.3v1.3h-1.3zM108.9 282.4h1.3v1.3h-1.3zM114.5 255.2h1.3v1.3h-1.3zM49.2 278.2h1.3v1.3h-1.3zM139.8 312.6h1.3v1.3h-1.3zM113.9 327.1h1.3v1.3h-1.3zM46.7 311.4h1.3v1.3h-1.3zM38.2 290.3h1.3v1.3h-1.3zM97.9 254.0h1.3v1.3h-1.3zM81.6 310.3h1.3v1.3h-1.3zM96.2 248.4h1.3v1.3h-1.3zM78.1 302.0h1.3v1.3h-1.3zM66.9 335.6h1.3v1.3h-1.3zM66.3 299.7h1.3v1.3h-1.3zM94.1 294.2h1.3v1.3h-1.3zM111.9 312.6h1.3v1.3h-1.3zM59.9 331.0h1.3v1.3h-1.3zM109.4 271.8h1.3v1.3h-1.3zM109.0 325.7h1.3v1.3h-1.3zM43.3 274.5h1.3v1.3h-1.3zM83.0 317.6h1.3v1.3h-1.3zM133.1 251.7h1.3v1.3h-1.3zM61.3 303.8h1.3v1.3h-1.3zM72.2 232.7h1.3v1.3h-1.3zM102.9 286.6h1.3v1.3h-1.3zM113.9 283.4h1.3v1.3h-1.3zM86.9 249.4h1.3v1.3h-1.3zM94.0 271.1h1.3v1.3h-1.3zM119.2 303.7h1.3v1.3h-1.3zM108.8 281.5h1.3v1.3h-1.3zM90.3 283.5h1.3v1.3h-1.3zM93.0 335.2h1.3v1.3h-1.3zM37.2 276.1h1.3v1.3h-1.3zM115.4 262.8h1.3v1.3h-1.3zM100.3 262.7h1.3v1.3h-1.3zM95.2 307.2h1.3v1.3h-1.3zM126.9 288.6h1.3v1.3h-1.3zM114.2 302.9h1.3v1.3h-1.3zM79.7 257.3h1.3v1.3h-1.3zM92.6 271.1h1.3v1.3h-1.3zM139.9 302.3h1.3v1.3h-1.3zM117.1 249.9h1.3v1.3h-1.3zM105.2 304.0h1.3v1.3h-1.3zM80.1 275.2h1.3v1.3h-1.3zM120.0 259.7h1.3v1.3h-1.3zM133.7 276.5h1.3v1.3h-1.3zM85.5 251.6h1.3v1.3h-1.3zM93.3 314.5h1.3v1.3h-1.3zM80.3 287.0h1.3v1.3h-1.3zM103.1 268.6h1.3v1.3h-1.3zM58.3 288.0h1.3v1.3h-1.3zM68.1 253.1h1.3v1.3h-1.3zM86.9 300.5h1.3v1.3h-1.3zM96.5 256.7h1.3v1.3h-1.3zM37.4 263.2h1.3v1.3h-1.3zM74.0 287.4h1.3v1.3h-1.3zM87.0 288.3h1.3v1.3h-1.3zM88.2 260.1h1.3v1.3h-1.3zM97.6 250.7h1.3v1.3h-1.3zM89.8 261.2h1.3v1.3h-1.3zM105.1 308.7h1.3v1.3h-1.3zM102.3 264.5h1.3v1.3h-1.3zM47.6 281.2h1.3v1.3h-1.3zM90.3 290.0h1.3v1.3h-1.3zM76.7 258.3h1.3v1.3h-1.3zM81.8 269.3h1.3v1.3h-1.3zM93.5 250.8h1.3v1.3h-1.3zM94.6 287.9h1.3v1.3h-1.3zM91.5 262.1h1.3v1.3h-1.3zM74.5 334.5h1.3v1.3h-1.3zM143.9 287.2h1.3v1.3h-1.3zM116.3 286.5h1.3v1.3h-1.3zM45.6 275.0h1.3v1.3h-1.3zM97.1 311.1h1.3v1.3h-1.3zM77.0 291.6h1.3v1.3h-1.3zM125.7 289.2h1.3v1.3h-1.3zM113.5 297.4h1.3v1.3h-1.3zM70.5 233.2h1.3v1.3h-1.3zM62.2 276.8h1.3v1.3h-1.3zM103.9 316.6h1.3v1.3h-1.3zM100.9 252.0h1.3v1.3h-1.3zM109.4 272.2h1.3v1.3h-1.3zM127.6 287.0h1.3v1.3h-1.3zM104.1 272.2h1.3v1.3h-1.3zM80.7 266.0h1.3v1.3h-1.3zM78.6 284.4h1.3v1.3h-1.3zM55.0 291.9h1.3v1.3h-1.3zM105.1 279.8h1.3v1.3h-1.3zM133.9 256.3h1.3v1.3h-1.3zM106.9 242.0h1.3v1.3h-1.3zM122.6 242.5h1.3v1.3h-1.3zM53.9 241.6h1.3v1.3h-1.3zM99.2 302.3h1.3v1.3h-1.3zM103.7 315.1h1.3v1.3h-1.3zM125.1 264.9h1.3v1.3h-1.3zM116.2 288.9h1.3v1.3h-1.3zM94.9 334.0h1.3v1.3h-1.3zM51.9 263.2h1.3v1.3h-1.3zM82.7 313.9h1.3v1.3h-1.3zM117.7 288.2h1.3v1.3h-1.3zM98.1 247.6h1.3v1.3h-1.3zM52.3 278.5h1.3v1.3h-1.3zM130.5 313.7h1.3v1.3h-1.3zM80.4 335.5h1.3v1.3h-1.3zM67.6 264.4h1.3v1.3h-1.3zM105.5 291.6h1.3v1.3h-1.3zM111.8 265.0h1.3v1.3h-1.3zM117.5 289.1h1.3v1.3h-1.3zM92.3 272.9h1.3v1.3h-1.3zM99.5 310.0h1.3v1.3h-1.3zM48.7 252.6h1.3v1.3h-1.3zM93.0 238.8h1.3v1.3h-1.3zM77.2 257.8h1.3v1.3h-1.3zM89.1 289.0h1.3v1.3h-1.3zM111.8 313.1h1.3v1.3h-1.3zM100.1 269.0h1.3v1.3h-1.3zM77.1 252.3h1.3v1.3h-1.3zM110.7 292.0h1.3v1.3h-1.3zM99.9 292.4h1.3v1.3h-1.3zM77.1 290.2h1.3v1.3h-1.3zM115.5 264.6h1.3v1.3h-1.3zM91.4 329.9h1.3v1.3h-1.3zM102.8 309.4h1.3v1.3h-1.3zM139.4 287.7h1.3v1.3h-1.3zM104.2 308.1h1.3v1.3h-1.3zM81.0 264.4h1.3v1.3h-1.3zM101.3 319.1h1.3v1.3h-1.3zM111.6 283.8h1.3v1.3h-1.3zM55.8 242.2h1.3v1.3h-1.3zM92.7 292.6h1.3v1.3h-1.3zM93.9 296.9h1.3v1.3h-1.3zM94.2 312.2h1.3v1.3h-1.3zM48.7 228.4h1.3v1.3h-1.3zM108.6 317.3h1.3v1.3h-1.3zM104.4 282.1h1.3v1.3h-1.3zM93.2 244.3h1.3v1.3h-1.3zM107.5 260.8h1.3v1.3h-1.3zM94.7 332.4h1.3v1.3h-1.3zM121.3 268.0h1.3v1.3h-1.3zM83.0 279.6h1.3v1.3h-1.3zM102.9 264.5h1.3v1.3h-1.3zM90.2 269.9h1.3v1.3h-1.3zM148.0 299.2h1.3v1.3h-1.3zM102.4 263.4h1.3v1.3h-1.3zM107.6 281.6h1.3v1.3h-1.3zM65.2 236.7h1.3v1.3h-1.3zM131.3 319.0h1.3v1.3h-1.3zM96.5 333.2h1.3v1.3h-1.3zM43.9 302.0h1.3v1.3h-1.3zM134.9 289.5h1.3v1.3h-1.3zM75.3 324.5h1.3v1.3h-1.3zM86.6 312.5h1.3v1.3h-1.3zM116.9 295.2h1.3v1.3h-1.3zM37.2 260.8h1.3v1.3h-1.3zM80.7 261.4h1.3v1.3h-1.3zM67.4 312.7h1.3v1.3h-1.3zM123.0 299.2h1.3v1.3h-1.3zM57.3 255.5h1.3v1.3h-1.3zM85.9 320.7h1.3v1.3h-1.3zM70.3 319.0h1.3v1.3h-1.3zM91.0 275.2h1.3v1.3h-1.3zM120.2 306.4h1.3v1.3h-1.3zM86.5 308.4h1.3v1.3h-1.3zM72.0 305.4h1.3v1.3h-1.3zM101.1 287.5h1.3v1.3h-1.3zM104.4 290.9h1.3v1.3h-1.3zM77.4 308.4h1.3v1.3h-1.3zM75.1 270.2h1.3v1.3h-1.3zM62.0 231.7h1.3v1.3h-1.3zM91.7 281.7h1.3v1.3h-1.3zM130.6 299.4h1.3v1.3h-1.3zM109.8 289.2h1.3v1.3h-1.3zM34.0 281.7h1.3v1.3h-1.3zM96.6 264.8h1.3v1.3h-1.3zM94.0 282.6h1.3v1.3h-1.3zM56.9 250.2h1.3v1.3h-1.3zM88.7 231.9h1.3v1.3h-1.3zM91.7 312.0h1.3v1.3h-1.3zM66.2 274.4h1.3v1.3h-1.3zM57.4 290.7h1.3v1.3h-1.3zM48.3 284.1h1.3v1.3h-1.3zM118.9 282.1h1.3v1.3h-1.3zM108.9 285.6h1.3v1.3h-1.3zM132.5 295.0h1.3v1.3h-1.3zM87.7 305.6h1.3v1.3h-1.3zM39.6 284.3h1.3v1.3h-1.3zM107.8 303.4h1.3v1.3h-1.3zM91.0 278.8h1.3v1.3h-1.3zM95.0 248.5h1.3v1.3h-1.3zM112.8 285.2h1.3v1.3h-1.3zM125.3 287.6h1.3v1.3h-1.3zM65.0 284.3h1.3v1.3h-1.3zM107.4 267.3h1.3v1.3h-1.3zM29.2 270.8h1.3v1.3h-1.3zM95.3 266.6h1.3v1.3h-1.3zM97.1 295.6h1.3v1.3h-1.3zM61.1 260.5h1.3v1.3h-1.3zM135.6 285.6h1.3v1.3h-1.3zM67.6 291.4h1.3v1.3h-1.3zM133.9 295.4h1.3v1.3h-1.3zM106.7 293.9h1.3v1.3h-1.3zM121.3 273.0h1.3v1.3h-1.3zM112.2 249.6h1.3v1.3h-1.3zM93.0 279.7h1.3v1.3h-1.3zM76.0 252.2h1.3v1.3h-1.3zM79.6 321.6h1.3v1.3h-1.3zM63.8 251.4h1.3v1.3h-1.3zM110.7 244.0h1.3v1.3h-1.3zM112.4 266.1h1.3v1.3h-1.3zM117.3 327.1h1.3v1.3h-1.3zM100.6 294.6h1.3v1.3h-1.3zM50.2 263.8h1.3v1.3h-1.3zM147.6 297.9h1.3v1.3h-1.3zM69.6 291.6h1.3v1.3h-1.3zM97.6 306.1h1.3v1.3h-1.3zM70.2 316.5h1.3v1.3h-1.3zM91.1 277.3h1.3v1.3h-1.3zM55.4 316.3h1.3v1.3h-1.3zM49.9 279.2h1.3v1.3h-1.3zM111.5 301.9h1.3v1.3h-1.3zM82.8 246.6h1.3v1.3h-1.3zM83.6 262.4h1.3v1.3h-1.3zM49.0 297.0h1.3v1.3h-1.3zM97.0 323.1h1.3v1.3h-1.3zM60.3 264.5h1.3v1.3h-1.3zM89.5 330.0h1.3v1.3h-1.3zM136.1 260.9h1.3v1.3h-1.3zM109.0 255.9h1.3v1.3h-1.3zM101.2 250.8h1.3v1.3h-1.3zM63.3 285.1h1.3v1.3h-1.3zM120.4 328.1h1.3v1.3h-1.3zM125.0 315.3h1.3v1.3h-1.3zM121.1 287.4h1.3v1.3h-1.3zM81.9 293.9h1.3v1.3h-1.3zM75.6 242.8h1.3v1.3h-1.3zM100.8 281.2h1.3v1.3h-1.3zM74.9 294.9h1.3v1.3h-1.3zM121.1 241.6h1.3v1.3h-1.3zM74.2 286.9h1.3v1.3h-1.3zM123.4 252.7h1.3v1.3h-1.3zM69.7 282.8h1.3v1.3h-1.3zM36.6 263.2h1.3v1.3h-1.3zM94.1 212.6h1.3v1.3h-1.3zM104.8 274.7h1.3v1.3h-1.3zM67.6 282.7h1.3v1.3h-1.3zM64.5 274.8h1.3v1.3h-1.3zM60.4 282.2h1.3v1.3h-1.3zM114.3 317.5h1.3v1.3h-1.3zM98.6 282.8h1.3v1.3h-1.3zM69.2 267.2h1.3v1.3h-1.3zM100.3 293.6h1.3v1.3h-1.3zM79.7 286.5h1.3v1.3h-1.3zM106.6 257.9h1.3v1.3h-1.3zM141.5 334.8h1.3v1.3h-1.3zM57.6 270.3h1.3v1.3h-1.3zM112.2 287.9h1.3v1.3h-1.3zM118.3 268.5h1.3v1.3h-1.3zM126.5 315.3h1.3v1.3h-1.3zM87.8 322.7h1.3v1.3h-1.3zM106.7 294.5h1.3v1.3h-1.3zM115.9 331.3h1.3v1.3h-1.3zM89.5 285.1h1.3v1.3h-1.3zM80.2 253.4h1.3v1.3h-1.3zM66.6 286.3h1.3v1.3h-1.3zM68.9 310.6h1.3v1.3h-1.3zM90.0 258.8h1.3v1.3h-1.3zM51.8 279.9h1.3v1.3h-1.3zM83.3 251.1h1.3v1.3h-1.3zM119.1 277.5h1.3v1.3h-1.3zM64.6 295.7h1.3v1.3h-1.3zM107.2 280.0h1.3v1.3h-1.3zM101.0 268.4h1.3v1.3h-1.3zM114.4 313.9h1.3v1.3h-1.3zM99.8 259.2h1.3v1.3h-1.3zM84.4 301.3h1.3v1.3h-1.3zM113.4 297.4h1.3v1.3h-1.3zM104.4 300.2h1.3v1.3h-1.3zM118.4 294.7h1.3v1.3h-1.3zM82.6 262.6h1.3v1.3h-1.3zM72.9 301.7h1.3v1.3h-1.3zM120.3 299.0h1.3v1.3h-1.3zM52.7 306.7h1.3v1.3h-1.3zM97.1 294.2h1.3v1.3h-1.3zM136.2 308.9h1.3v1.3h-1.3zM79.0 283.6h1.3v1.3h-1.3zM53.9 285.7h1.3v1.3h-1.3zM119.1 283.1h1.3v1.3h-1.3zM65.9 282.0h1.3v1.3h-1.3zM107.4 246.6h1.3v1.3h-1.3zM96.4 294.4h1.3v1.3h-1.3zM44.7 296.7h1.3v1.3h-1.3zM114.5 289.2h1.3v1.3h-1.3zM72.9 259.9h1.3v1.3h-1.3zM72.6 272.8h1.3v1.3h-1.3zM85.1 274.9h1.3v1.3h-1.3zM147.8 266.5h1.3v1.3h-1.3zM84.8 250.5h1.3v1.3h-1.3zM85.5 297.9h1.3v1.3h-1.3zM98.7 280.2h1.3v1.3h-1.3zM74.3 312.6h1.3v1.3h-1.3zM101.8 273.1h1.3v1.3h-1.3zM58.2 287.0h1.3v1.3h-1.3zM83.8 238.3h1.3v1.3h-1.3zM130.0 311.3h1.3v1.3h-1.3zM118.3 301.5h1.3v1.3h-1.3zM116.4 284.6h1.3v1.3h-1.3zM93.6 309.3h1.3v1.3h-1.3zM79.3 293.7h1.3v1.3h-1.3zM122.9 276.9h1.3v1.3h-1.3zM111.0 262.5h1.3v1.3h-1.3zM127.6 248.5h1.3v1.3h-1.3zM101.3 261.8h1.3v1.3h-1.3zM113.0 297.8h1.3v1.3h-1.3zM104.6 237.3h1.3v1.3h-1.3zM110.1 277.0h1.3v1.3h-1.3zM126.0 305.2h1.3v1.3h-1.3zM67.1 310.1h1.3v1.3h-1.3zM125.6 282.3h1.3v1.3h-1.3zM128.0 278.3h1.3v1.3h-1.3zM66.6 271.1h1.3v1.3h-1.3zM96.9 261.8h1.3v1.3h-1.3zM107.7 316.1h1.3v1.3h-1.3zM66.0 286.0h1.3v1.3h-1.3zM105.4 289.7h1.3v1.3h-1.3zM77.1 303.9h1.3v1.3h-1.3zM95.5 288.5h1.3v1.3h-1.3zM112.6 243.2h1.3v1.3h-1.3zM114.9 329.5h1.3v1.3h-1.3zM71.0 284.8h1.3v1.3h-1.3zM86.9 277.1h1.3v1.3h-1.3zM81.9 272.5h1.3v1.3h-1.3zM89.4 274.8h1.3v1.3h-1.3zM56.1 246.6h1.3v1.3h-1.3zM98.1 279.8h1.3v1.3h-1.3zM67.6 260.6h1.3v1.3h-1.3zM113.5 290.2h1.3v1.3h-1.3zM73.7 311.5h1.3v1.3h-1.3zM84.5 230.9h1.3v1.3h-1.3zM71.1 280.7h1.3v1.3h-1.3zM102.6 287.7h1.3v1.3h-1.3zM108.4 292.4h1.3v1.3h-1.3zM52.2 291.5h1.3v1.3h-1.3zM105.4 311.0h1.3v1.3h-1.3zM130.0 253.5h1.3v1.3h-1.3zM110.4 317.5h1.3v1.3h-1.3zM141.3 284.4h1.3v1.3h-1.3zM44.0 255.5h1.3v1.3h-1.3zM84.6 293.8h1.3v1.3h-1.3zM107.6 259.9h1.3v1.3h-1.3zM105.6 248.6h1.3v1.3h-1.3zM138.8 279.2h1.3v1.3h-1.3zM66.7 252.2h1.3v1.3h-1.3zM113.0 280.9h1.3v1.3h-1.3zM142.4 325.9h1.3v1.3h-1.3zM106.4 325.1h1.3v1.3h-1.3zM97.1 264.4h1.3v1.3h-1.3zM126.8 278.5h1.3v1.3h-1.3zM114.8 294.5h1.3v1.3h-1.3zM110.9 268.7h1.3v1.3h-1.3zM92.3 287.4h1.3v1.3h-1.3zM62.7 245.9h1.3v1.3h-1.3zM93.6 265.7h1.3v1.3h-1.3zM110.5 312.1h1.3v1.3h-1.3zM58.3 244.3h1.3v1.3h-1.3zM136.4 300.4h1.3v1.3h-1.3zM147.4 258.1h1.3v1.3h-1.3zM87.1 300.1h1.3v1.3h-1.3zM79.5 293.4h1.3v1.3h-1.3zM105.3 239.1h1.3v1.3h-1.3zM105.3 273.4h1.3v1.3h-1.3zM94.3 317.4h1.3v1.3h-1.3zM98.9 259.9h1.3v1.3h-1.3zM82.2 264.9h1.3v1.3h-1.3zM127.7 282.4h1.3v1.3h-1.3zM81.5 261.5h1.3v1.3h-1.3zM121.2 292.7h1.3v1.3h-1.3zM105.0 280.0h1.3v1.3h-1.3zM64.2 308.2h1.3v1.3h-1.3zM86.7 294.9h1.3v1.3h-1.3zM122.1 290.7h1.3v1.3h-1.3zM32.0 298.3h1.3v1.3h-1.3zM110.8 286.3h1.3v1.3h-1.3zM68.4 244.3h1.3v1.3h-1.3zM82.5 306.4h1.3v1.3h-1.3zM105.6 237.7h1.3v1.3h-1.3zM79.7 272.5h1.3v1.3h-1.3zM134.4 287.5h1.3v1.3h-1.3zM129.2 283.7h1.3v1.3h-1.3zM106.4 267.5h1.3v1.3h-1.3zM81.5 274.4h1.3v1.3h-1.3zM114.7 287.5h1.3v1.3h-1.3zM69.0 272.1h1.3v1.3h-1.3zM104.3 245.2h1.3v1.3h-1.3zM46.4 326.6h1.3v1.3h-1.3zM45.0 294.0h1.3v1.3h-1.3zM110.7 286.8h1.3v1.3h-1.3zM101.7 309.9h1.3v1.3h-1.3zM91.6 285.1h1.3v1.3h-1.3zM96.5 261.7h1.3v1.3h-1.3zM63.0 302.5h1.3v1.3h-1.3zM71.4 284.4h1.3v1.3h-1.3zM98.2 272.8h1.3v1.3h-1.3zM85.0 266.5h1.3v1.3h-1.3zM60.2 251.5h1.3v1.3h-1.3zM102.7 245.1h1.3v1.3h-1.3zM39.1 273.9h1.3v1.3h-1.3zM107.3 263.8h1.3v1.3h-1.3zM57.8 278.4h1.3v1.3h-1.3zM103.1 330.3h1.3v1.3h-1.3zM94.3 258.7h1.3v1.3h-1.3zM77.9 280.5h1.3v1.3h-1.3zM125.1 280.2h1.3v1.3h-1.3zM104.9 232.8h1.3v1.3h-1.3zM94.3 300.2h1.3v1.3h-1.3zM103.9 325.4h1.3v1.3h-1.3zM82.3 290.9h1.3v1.3h-1.3zM90.7 291.7h1.3v1.3h-1.3zM110.0 259.2h1.3v1.3h-1.3zM50.0 230.6h1.3v1.3h-1.3zM83.0 278.9h1.3v1.3h-1.3zM112.1 259.4h1.3v1.3h-1.3zM93.8 267.6h1.3v1.3h-1.3zM106.9 308.3h1.3v1.3h-1.3zM84.0 250.7h1.3v1.3h-1.3zM122.5 283.9h1.3v1.3h-1.3zM110.5 261.3h1.3v1.3h-1.3zM95.2 273.9h1.3v1.3h-1.3zM77.7 285.8h1.3v1.3h-1.3zM78.2 290.6h1.3v1.3h-1.3zM127.2 282.5h1.3v1.3h-1.3zM135.5 233.1h1.3v1.3h-1.3zM113.2 251.0h1.3v1.3h-1.3zM71.5 318.0h1.3v1.3h-1.3zM122.0 292.2h1.3v1.3h-1.3zM102.6 309.7h1.3v1.3h-1.3zM92.8 302.1h1.3v1.3h-1.3zM118.2 280.9h1.3v1.3h-1.3zM94.8 253.0h1.3v1.3h-1.3zM103.0 282.2h1.3v1.3h-1.3zM91.5 253.8h1.3v1.3h-1.3zM85.1 292.4h1.3v1.3h-1.3zM104.9 289.2h1.3v1.3h-1.3zM58.4 313.7h1.3v1.3h-1.3zM37.1 272.3h1.3v1.3h-1.3zM69.1 254.1h1.3v1.3h-1.3zM112.7 310.6h1.3v1.3h-1.3zM110.5 315.4h1.3v1.3h-1.3zM107.8 307.1h1.3v1.3h-1.3zM99.4 253.6h1.3v1.3h-1.3zM124.3 307.1h1.3v1.3h-1.3zM77.2 272.3h1.3v1.3h-1.3zM55.8 276.5h1.3v1.3h-1.3zM99.7 256.1h1.3v1.3h-1.3zM102.7 249.1h1.3v1.3h-1.3zM134.1 279.2h1.3v1.3h-1.3zM87.0 270.0h1.3v1.3h-1.3zM107.5 308.1h1.3v1.3h-1.3zM115.9 280.2h1.3v1.3h-1.3zM116.6 240.7h1.3v1.3h-1.3zM106.7 294.0h1.3v1.3h-1.3zM103.2 276.4h1.3v1.3h-1.3zM105.5 266.3h1.3v1.3h-1.3zM101.2 281.6h1.3v1.3h-1.3zM82.0 280.3h1.3v1.3h-1.3zM129.8 285.1h1.3v1.3h-1.3zM111.7 279.3h1.3v1.3h-1.3zM79.8 262.0h1.3v1.3h-1.3zM75.2 247.0h1.3v1.3h-1.3zM89.3 272.6h1.3v1.3h-1.3zM76.6 253.9h1.3v1.3h-1.3zM127.4 292.6h1.3v1.3h-1.3zM107.4 311.8h1.3v1.3h-1.3zM78.9 237.0h1.3v1.3h-1.3zM116.3 220.1h1.3v1.3h-1.3zM102.6 247.2h1.3v1.3h-1.3zM83.3 292.1h1.3v1.3h-1.3zM95.6 246.1h1.3v1.3h-1.3zM120.7 251.1h1.3v1.3h-1.3zM61.5 250.3h1.3v1.3h-1.3zM83.3 284.4h1.3v1.3h-1.3zM135.3 260.2h1.3v1.3h-1.3zM58.1 323.0h1.3v1.3h-1.3zM108.8 328.9h1.3v1.3h-1.3zM116.5 270.7h1.3v1.3h-1.3zM60.7 274.6h1.3v1.3h-1.3zM99.3 260.6h1.3v1.3h-1.3zM83.2 232.6h1.3v1.3h-1.3zM110.8 287.5h1.3v1.3h-1.3zM125.8 272.3h1.3v1.3h-1.3zM73.4 242.4h1.3v1.3h-1.3zM100.5 315.4h1.3v1.3h-1.3zM123.6 288.2h1.3v1.3h-1.3zM112.7 291.5h1.3v1.3h-1.3zM117.3 337.7h1.3v1.3h-1.3zM90.7 271.0h1.3v1.3h-1.3zM98.0 266.8h1.3v1.3h-1.3zM77.4 292.7h1.3v1.3h-1.3zM43.8 308.7h1.3v1.3h-1.3zM89.9 286.0h1.3v1.3h-1.3zM85.5 287.8h1.3v1.3h-1.3zM106.1 302.1h1.3v1.3h-1.3zM86.1 342.3h1.3v1.3h-1.3zM58.5 244.5h1.3v1.3h-1.3zM106.0 290.0h1.3v1.3h-1.3zM107.1 311.6h1.3v1.3h-1.3zM53.5 335.9h1.3v1.3h-1.3zM59.0 290.7h1.3v1.3h-1.3zM101.9 279.6h1.3v1.3h-1.3zM74.9 293.3h1.3v1.3h-1.3zM133.8 269.5h1.3v1.3h-1.3zM115.8 309.9h1.3v1.3h-1.3zM100.6 269.8h1.3v1.3h-1.3zM127.3 284.3h1.3v1.3h-1.3zM116.1 277.3h1.3v1.3h-1.3zM49.3 292.9h1.3v1.3h-1.3zM123.0 239.3h1.3v1.3h-1.3zM76.4 276.4h1.3v1.3h-1.3zM95.3 261.9h1.3v1.3h-1.3zM87.7 260.9h1.3v1.3h-1.3zM131.6 257.8h1.3v1.3h-1.3zM77.6 275.3h1.3v1.3h-1.3zM136.4 279.6h1.3v1.3h-1.3zM82.6 253.4h1.3v1.3h-1.3zM80.5 307.1h1.3v1.3h-1.3zM129.2 285.9h1.3v1.3h-1.3zM66.1 276.1h1.3v1.3h-1.3zM93.8 273.1h1.3v1.3h-1.3zM55.0 325.5h1.3v1.3h-1.3zM123.5 264.7h1.3v1.3h-1.3zM80.4 238.8h1.3v1.3h-1.3zM86.2 272.4h1.3v1.3h-1.3zM110.3 291.0h1.3v1.3h-1.3zM101.4 292.3h1.3v1.3h-1.3zM70.0 280.0h1.3v1.3h-1.3zM109.6 275.3h1.3v1.3h-1.3zM62.2 275.1h1.3v1.3h-1.3zM123.4 324.9h1.3v1.3h-1.3zM76.8 236.6h1.3v1.3h-1.3zM82.9 273.3h1.3v1.3h-1.3zM83.8 342.1h1.3v1.3h-1.3zM105.8 308.9h1.3v1.3h-1.3zM51.8 264.6h1.3v1.3h-1.3zM134.9 296.0h1.3v1.3h-1.3zM66.3 284.6h1.3v1.3h-1.3zM107.7 314.3h1.3v1.3h-1.3zM75.4 248.3h1.3v1.3h-1.3zM99.7 311.8h1.3v1.3h-1.3zM136.0 292.4h1.3v1.3h-1.3zM111.3 333.5h1.3v1.3h-1.3zM139.5 305.5h1.3v1.3h-1.3zM120.6 306.5h1.3v1.3h-1.3zM93.9 251.4h1.3v1.3h-1.3zM52.8 236.6h1.3v1.3h-1.3zM95.0 281.0h1.3v1.3h-1.3zM34.7 283.9h1.3v1.3h-1.3zM83.1 276.9h1.3v1.3h-1.3zM118.6 299.9h1.3v1.3h-1.3zM142.7 298.0h1.3v1.3h-1.3zM99.6 254.2h1.3v1.3h-1.3zM44.2 293.4h1.3v1.3h-1.3zM98.1 265.5h1.3v1.3h-1.3zM37.8 269.3h1.3v1.3h-1.3zM93.3 241.9h1.3v1.3h-1.3zM88.3 251.0h1.3v1.3h-1.3zM97.3 275.1h1.3v1.3h-1.3zM115.8 277.3h1.3v1.3h-1.3zM42.5 278.7h1.3v1.3h-1.3zM123.3 250.2h1.3v1.3h-1.3zM100.7 267.0h1.3v1.3h-1.3zM97.6 265.3h1.3v1.3h-1.3zM94.8 325.6h1.3v1.3h-1.3zM88.1 309.2h1.3v1.3h-1.3zM74.4 275.0h1.3v1.3h-1.3zM102.7 281.0h1.3v1.3h-1.3zM60.9 295.2h1.3v1.3h-1.3zM68.5 262.5h1.3v1.3h-1.3zM137.2 266.4h1.3v1.3h-1.3zM131.0 304.4h1.3v1.3h-1.3zM128.1 291.1h1.3v1.3h-1.3zM105.1 270.0h1.3v1.3h-1.3zM41.7 302.2h1.3v1.3h-1.3zM114.7 229.0h1.3v1.3h-1.3zM111.0 275.3h1.3v1.3h-1.3zM94.7 255.8h1.3v1.3h-1.3zM112.9 288.8h1.3v1.3h-1.3zM60.9 287.9h1.3v1.3h-1.3zM97.2 302.1h1.3v1.3h-1.3zM90.4 334.0h1.3v1.3h-1.3zM71.3 339.5h1.3v1.3h-1.3zM115.0 275.1h1.3v1.3h-1.3zM65.6 319.6h1.3v1.3h-1.3zM103.9 317.0h1.3v1.3h-1.3zM84.6 304.8h1.3v1.3h-1.3zM58.6 273.0h1.3v1.3h-1.3zM44.1 298.1h1.3v1.3h-1.3zM85.1 314.8h1.3v1.3h-1.3zM130.5 294.0h1.3v1.3h-1.3zM96.4 289.6h1.3v1.3h-1.3zM98.6 259.7h1.3v1.3h-1.3zM64.7 268.0h1.3v1.3h-1.3zM132.5 328.1h1.3v1.3h-1.3zM115.5 292.8h1.3v1.3h-1.3zM110.7 265.2h1.3v1.3h-1.3zM52.7 272.5h1.3v1.3h-1.3zM102.8 294.2h1.3v1.3h-1.3zM87.4 266.9h1.3v1.3h-1.3zM122.7 284.6h1.3v1.3h-1.3zM80.3 341.2h1.3v1.3h-1.3zM91.8 219.0h1.3v1.3h-1.3zM116.3 230.9h1.3v1.3h-1.3zM142.2 282.8h1.3v1.3h-1.3zM117.8 268.5h1.3v1.3h-1.3zM91.9 301.5h1.3v1.3h-1.3zM103.4 291.9h1.3v1.3h-1.3zM84.9 290.2h1.3v1.3h-1.3zM106.9 289.5h1.3v1.3h-1.3zM80.8 297.3h1.3v1.3h-1.3zM53.5 327.2h1.3v1.3h-1.3zM101.0 254.2h1.3v1.3h-1.3zM108.1 329.9h1.3v1.3h-1.3zM72.2 272.2h1.3v1.3h-1.3zM103.6 265.6h1.3v1.3h-1.3zM110.8 279.4h1.3v1.3h-1.3zM90.3 256.6h1.3v1.3h-1.3zM84.3 286.7h1.3v1.3h-1.3zM115.2 258.0h1.3v1.3h-1.3zM83.2 280.8h1.3v1.3h-1.3zM93.9 253.1h1.3v1.3h-1.3zM76.0 235.1h1.3v1.3h-1.3zM63.6 277.3h1.3v1.3h-1.3zM101.0 255.7h1.3v1.3h-1.3zM106.2 277.7h1.3v1.3h-1.3zM86.8 243.2h1.3v1.3h-1.3zM66.1 298.0h1.3v1.3h-1.3zM136.5 305.1h1.3v1.3h-1.3zM108.8 296.4h1.3v1.3h-1.3zM74.3 286.1h1.3v1.3h-1.3zM71.8 293.8h1.3v1.3h-1.3zM43.3 270.2h1.3v1.3h-1.3zM90.4 323.9h1.3v1.3h-1.3zM84.4 327.1h1.3v1.3h-1.3zM80.3 306.7h1.3v1.3h-1.3z" fill="#000"/>
<ellipse cx="79.3" cy="280.5" rx="53.7" ry="56.2" fill="none" stroke="#1f3ff0" stroke-width="1.2" stroke-dasharray="4 3"/>
<circle cx="25.2" cy="264.5" r="1.75" fill="none" stroke="#f00" stroke-width="1.3"/>
<circle cx="45.2" cy="265.2" r="1.75" fill="none" stroke="#f00" stroke-width="1.3"/>
<circle cx="57.2" cy="255.0" r="1.75" fill="none" stroke="#f00" stroke-width="1.3"/>
<circle cx="62.3" cy="262.7" r="1.75" fill="none" stroke="#f00" stroke-width="1.3"/>
<circle cx="56.4" cy="266.0" r="1.75" fill="none" stroke="#f00" stroke-width="1.3"/>
<circle cx="68.2" cy="252.4" r="1.75" fill="none" stroke="#f00" stroke-width="1.3"/>
<circle cx="73.3" cy="248.1" r="1.75" fill="none" stroke="#f00" stroke-width="1.3"/>
<circle cx="78.4" cy="246.0" r="1.75" fill="none" stroke="#f00" stroke-width="1.3"/>
<circle cx="87.9" cy="242.7" r="1.75" fill="none" stroke="#f00" stroke-width="1.3"/>
<circle cx="100.7" cy="248.1" r="1.75" fill="none" stroke="#f00" stroke-width="1.3"/>
<circle cx="104.5" cy="246.5" r="1.75" fill="none" stroke="#f00" stroke-width="1.3"/>
<circle cx="112.2" cy="244.8" r="1.75" fill="none" stroke="#f00" stroke-width="1.3"/>
<circle cx="113.5" cy="248.6" r="1.75" fill="none" stroke="#f00" stroke-width="1.3"/>
<circle cx="111.7" cy="230.2" r="1.75" fill="none" stroke="#f00" stroke-width="1.3"/>
<circle cx="107.6" cy="252.4" r="1.75" fill="none" stroke="#f00" stroke-width="1.3"/>
<circle cx="101.4" cy="253.7" r="1.75" fill="none" stroke="#f00" stroke-width="1.3"/>
<circle cx="113.5" cy="255.8" r="1.75" fill="none" stroke="#f00" stroke-width="1.3"/>
<circle cx="135.2" cy="255.8" r="1.75" fill="none" stroke="#f00" stroke-width="1.3"/>
<circle cx="138.3" cy="263.4" r="1.75" fill="none" stroke="#f00" stroke-width="1.3"/>
<circle cx="128.8" cy="267.8" r="1.75" fill="none" stroke="#f00" stroke-width="1.3"/>
<circle cx="121.1" cy="261.4" r="1.75" fill="none" stroke="#f00" stroke-width="1.3"/>
<circle cx="112.2" cy="264.5" r="1.75" fill="none" stroke="#f00" stroke-width="1.3"/>
<circle cx="94.3" cy="260.9" r="1.75" fill="none" stroke="#f00" stroke-width="1.3"/>
<circle cx="73.3" cy="267.8" r="1.75" fill="none" stroke="#f00" stroke-width="1.3"/>
<circle cx="76.9" cy="268.5" r="1.75" fill="none" stroke="#f00" stroke-width="1.3"/>
<circle cx="82.0" cy="267.0" r="1.75" fill="none" stroke="#f00" stroke-width="1.3"/>
<circle cx="87.1" cy="269.6" r="1.75" fill="none" stroke="#f00" stroke-width="1.3"/>
<circle cx="82.0" cy="271.1" r="1.75" fill="none" stroke="#f00" stroke-width="1.3"/>
<circle cx="96.3" cy="267.8" r="1.75" fill="none" stroke="#f00" stroke-width="1.3"/>
<circle cx="99.4" cy="272.1" r="1.75" fill="none" stroke="#f00" stroke-width="1.3"/>
<circle cx="108.4" cy="273.7" r="1.75" fill="none" stroke="#f00" stroke-width="1.3"/>
<circle cx="118.6" cy="270.3" r="1.75" fill="none" stroke="#f00" stroke-width="1.3"/>
<circle cx="125.0" cy="274.7" r="1.75" fill="none" stroke="#f00" stroke-width="1.3"/>
<circle cx="75.1" cy="278.0" r="1.75" fill="none" stroke="#f00" stroke-width="1.3"/>
<circle cx="87.9" cy="276.7" r="1.75" fill="none" stroke="#f00" stroke-width="1.3"/>
<circle cx="61.0" cy="274.2" r="1.75" fill="none" stroke="#f00" stroke-width="1.3"/>
<circle cx="77.7" cy="283.9" r="1.75" fill="none" stroke="#f00" stroke-width="1.3"/>
<circle cx="93.0" cy="282.4" r="1.75" fill="none" stroke="#f00" stroke-width="1.3"/>
<circle cx="96.8" cy="281.3" r="1.75" fill="none" stroke="#f00" stroke-width="1.3"/>
<circle cx="100.7" cy="281.3" r="1.75" fill="none" stroke="#f00" stroke-width="1.3"/>
<circle cx="122.4" cy="280.6" r="1.75" fill="none" stroke="#f00" stroke-width="1.3"/>
<circle cx="124.5" cy="281.3" r="1.75" fill="none" stroke="#f00" stroke-width="1.3"/>
<circle cx="140.3" cy="282.4" r="1.75" fill="none" stroke="#f00" stroke-width="1.3"/>
<circle cx="59.8" cy="286.4" r="1.75" fill="none" stroke="#f00" stroke-width="1.3"/>
<circle cx="58.0" cy="290.0" r="1.75" fill="none" stroke="#f00" stroke-width="1.3"/>
<circle cx="49.5" cy="292.6" r="1.75" fill="none" stroke="#f00" stroke-width="1.3"/>
<circle cx="63.6" cy="290.0" r="1.75" fill="none" stroke="#f00" stroke-width="1.3"/>
<circle cx="68.7" cy="291.6" r="1.75" fill="none" stroke="#f00" stroke-width="1.3"/>
<circle cx="75.9" cy="290.8" r="1.75" fill="none" stroke="#f00" stroke-width="1.3"/>
<circle cx="89.2" cy="290.8" r="1.75" fill="none" stroke="#f00" stroke-width="1.3"/>
<circle cx="94.3" cy="294.6" r="1.75" fill="none" stroke="#f00" stroke-width="1.3"/>
<circle cx="82.0" cy="295.9" r="1.75" fill="none" stroke="#f00" stroke-width="1.3"/>
<circle cx="111.7" cy="289.0" r="1.75" fill="none" stroke="#f00" stroke-width="1.3"/>
<circle cx="116.0" cy="290.0" r="1.75" fill="none" stroke="#f00" stroke-width="1.3"/>
<circle cx="119.9" cy="291.6" r="1.75" fill="none" stroke="#f00" stroke-width="1.3"/>
<circle cx="109.6" cy="295.1" r="1.75" fill="none" stroke="#f00" stroke-width="1.3"/>
<circle cx="109.1" cy="300.3" r="1.75" fill="none" stroke="#f00" stroke-width="1.3"/>
<circle cx="123.7" cy="300.3" r="1.75" fill="none" stroke="#f00" stroke-width="1.3"/>
<circle cx="132.1" cy="296.7" r="1.75" fill="none" stroke="#f00" stroke-width="1.3"/>
<circle cx="70.0" cy="303.6" r="1.75" fill="none" stroke="#f00" stroke-width="1.3"/>
<circle cx="64.9" cy="313.0" r="1.75" fill="none" stroke="#f00" stroke-width="1.3"/>
<circle cx="89.2" cy="308.7" r="1.75" fill="none" stroke="#f00" stroke-width="1.3"/>
<circle cx="139.0" cy="303.6" r="1.75" fill="none" stroke="#f00" stroke-width="1.3"/>
<circle cx="52.1" cy="320.2" r="1.75" fill="none" stroke="#f00" stroke-width="1.3"/>
<circle cx="62.3" cy="324.0" r="1.75" fill="none" stroke="#f00" stroke-width="1.3"/>
<circle cx="76.9" cy="317.1" r="1.75" fill="none" stroke="#f00" stroke-width="1.3"/>
<circle cx="125.0" cy="317.6" r="1.75" fill="none" stroke="#f00" stroke-width="1.3"/>
<circle cx="133.9" cy="319.7" r="1.75" fill="none" stroke="#f00" stroke-width="1.3"/>
<line x1="19.5" y1="217.75" x2="21.0" y2="217.75" stroke="#999" stroke-width="0.6"/>
<text x="17.5" y="219.95" font-size="6.9" text-anchor="end" font-weight="normal" font-style="normal" fill="#555" letter-spacing="0.2">10</text>
<line x1="19.5" y1="280.75" x2="21.0" y2="280.75" stroke="#999" stroke-width="0.6"/>
<text x="17.5" y="282.95" font-size="6.9" text-anchor="end" font-weight="normal" font-style="normal" fill="#555" letter-spacing="0.2">0</text>
<line x1="19.5" y1="343.75" x2="21.0" y2="343.75" stroke="#999" stroke-width="0.6"/>
<text x="17.5" y="345.95" font-size="6.9" text-anchor="end" font-weight="normal" font-style="normal" fill="#555" letter-spacing="0.2">-10</text>
<line x1="19.5" y1="343.6" x2="19.5" y2="342.1" stroke="#999" stroke-width="0.6"/>
<text x="19.5" y="352" font-size="6.9" text-anchor="middle" font-weight="normal" font-style="normal" fill="#555" letter-spacing="0.2">-10</text>
<line x1="79.5" y1="343.6" x2="79.5" y2="342.1" stroke="#999" stroke-width="0.6"/>
<text x="79.5" y="352" font-size="6.9" text-anchor="middle" font-weight="normal" font-style="normal" fill="#555" letter-spacing="0.2">0</text>
<line x1="139.5" y1="343.6" x2="139.5" y2="342.1" stroke="#999" stroke-width="0.6"/>
<text x="139.5" y="352" font-size="6.9" text-anchor="middle" font-weight="normal" font-style="normal" fill="#555" letter-spacing="0.2">10</text>
<text x="85.2" y="201.9" font-size="6.8" text-anchor="middle" font-weight="bold" font-style="normal" fill="#000" textLength="31.8" lengthAdjust="spacingAndGlyphs" >Patient 1</text>
<text x="85.2" y="359.8" font-size="7.0" text-anchor="middle" font-weight="normal" font-style="normal" fill="#555" textLength="41.8" lengthAdjust="spacingAndGlyphs" >Component 1</text>
<text transform="translate(6.0 273.8) rotate(-90)" x="0" y="0" font-size="6.8" text-anchor="middle" font-weight="normal" fill="#555" textLength="43" lengthAdjust="spacingAndGlyphs">Component 2</text>
<rect x="181.6" y="204.2" width="137.6" height="139.40000000000003" fill="none" stroke="#999" stroke-width="0.8"/>
<rect x="188.00" y="331.86" width="3.12" height="11.74" fill="#5c9ad2" stroke="#1e2a38" stroke-width="0.45"/>
<rect x="191.12" y="307.32" width="3.12" height="36.28" fill="#5c9ad2" stroke="#1e2a38" stroke-width="0.45"/>
<rect x="194.25" y="294.36" width="3.12" height="49.24" fill="#5c9ad2" stroke="#1e2a38" stroke-width="0.45"/>
<rect x="197.38" y="270.52" width="3.12" height="73.08" fill="#5c9ad2" stroke="#1e2a38" stroke-width="0.45"/>
<rect x="200.50" y="260.34" width="3.12" height="83.26" fill="#5c9ad2" stroke="#1e2a38" stroke-width="0.45"/>
<rect x="203.62" y="244.86" width="3.12" height="98.75" fill="#5c9ad2" stroke="#1e2a38" stroke-width="0.45"/>
<rect x="206.75" y="227.02" width="3.12" height="116.58" fill="#5c9ad2" stroke="#1e2a38" stroke-width="0.45"/>
<rect x="209.88" y="214.84" width="3.12" height="128.76" fill="#5c9ad2" stroke="#1e2a38" stroke-width="0.45"/>
<rect x="213.00" y="232.24" width="3.12" height="111.36" fill="#5c9ad2" stroke="#1e2a38" stroke-width="0.45"/>
<rect x="216.12" y="204.84" width="3.12" height="138.76" fill="#5c9ad2" stroke="#1e2a38" stroke-width="0.45"/>
<rect x="219.25" y="209.88" width="3.12" height="133.72" fill="#5c9ad2" stroke="#1e2a38" stroke-width="0.45"/>
<rect x="222.38" y="223.54" width="3.12" height="120.06" fill="#5c9ad2" stroke="#1e2a38" stroke-width="0.45"/>
<rect x="225.50" y="219.19" width="3.12" height="124.41" fill="#5c9ad2" stroke="#1e2a38" stroke-width="0.45"/>
<rect x="228.62" y="253.64" width="3.12" height="89.96" fill="#5c9ad2" stroke="#1e2a38" stroke-width="0.45"/>
<rect x="231.75" y="260.95" width="3.12" height="82.65" fill="#5c9ad2" stroke="#1e2a38" stroke-width="0.45"/>
<rect x="234.88" y="271.39" width="3.12" height="72.21" fill="#5c9ad2" stroke="#1e2a38" stroke-width="0.45"/>
<rect x="238.00" y="280.09" width="3.12" height="63.51" fill="#5c9ad2" stroke="#1e2a38" stroke-width="0.45"/>
<rect x="241.12" y="296.10" width="3.12" height="47.50" fill="#5c9ad2" stroke="#1e2a38" stroke-width="0.45"/>
<rect x="244.25" y="311.85" width="3.12" height="31.75" fill="#5c9ad2" stroke="#1e2a38" stroke-width="0.45"/>
<rect x="247.38" y="314.89" width="3.12" height="28.71" fill="#5c9ad2" stroke="#1e2a38" stroke-width="0.45"/>
<rect x="250.50" y="322.37" width="3.12" height="21.23" fill="#5c9ad2" stroke="#1e2a38" stroke-width="0.45"/>
<rect x="253.62" y="324.11" width="3.12" height="19.49" fill="#5c9ad2" stroke="#1e2a38" stroke-width="0.45"/>
<rect x="256.75" y="328.64" width="3.12" height="14.96" fill="#5c9ad2" stroke="#1e2a38" stroke-width="0.45"/>
<rect x="259.88" y="325.33" width="3.12" height="18.27" fill="#5c9ad2" stroke="#1e2a38" stroke-width="0.45"/>
<rect x="263.00" y="331.07" width="3.12" height="12.53" fill="#5c9ad2" stroke="#1e2a38" stroke-width="0.45"/>
<rect x="266.12" y="337.34" width="3.12" height="6.26" fill="#5c9ad2" stroke="#1e2a38" stroke-width="0.45"/>
<rect x="269.25" y="337.34" width="3.12" height="6.26" fill="#5c9ad2" stroke="#1e2a38" stroke-width="0.45"/>
<rect x="275.50" y="341.86" width="3.12" height="1.74" fill="#5c9ad2" stroke="#1e2a38" stroke-width="0.45"/>
<rect x="278.62" y="342.30" width="3.12" height="1.30" fill="#5c9ad2" stroke="#1e2a38" stroke-width="0.45"/>
<rect x="281.75" y="342.73" width="3.12" height="0.87" fill="#5c9ad2" stroke="#1e2a38" stroke-width="0.45"/>
<line x1="243" y1="204.2" x2="243" y2="343.6" stroke="#f03c3c" stroke-width="1.6" stroke-dasharray="4.5 3"/>
<line x1="181.6" y1="343.6" x2="183.1" y2="343.6" stroke="#999" stroke-width="0.6"/>
<text x="179.6" y="345.8" font-size="6.9" text-anchor="end" font-weight="normal" font-style="normal" fill="#555" letter-spacing="0.2">0</text>
<line x1="181.6" y1="256.6" x2="183.1" y2="256.6" stroke="#999" stroke-width="0.6"/>
<text x="179.6" y="258.8" font-size="6.9" text-anchor="end" font-weight="normal" font-style="normal" fill="#555" letter-spacing="0.2">100</text>
<line x1="188.0" y1="343.6" x2="188.0" y2="342.1" stroke="#999" stroke-width="0.6"/>
<text x="188.0" y="352" font-size="6.9" text-anchor="middle" font-weight="normal" font-style="normal" fill="#555" letter-spacing="0.2">0</text>
<line x1="219.25" y1="343.6" x2="219.25" y2="342.1" stroke="#999" stroke-width="0.6"/>
<text x="219.25" y="352" font-size="6.9" text-anchor="middle" font-weight="normal" font-style="normal" fill="#555" letter-spacing="0.2">5</text>
<line x1="250.5" y1="343.6" x2="250.5" y2="342.1" stroke="#999" stroke-width="0.6"/>
<text x="250.5" y="352" font-size="6.9" text-anchor="middle" font-weight="normal" font-style="normal" fill="#555" letter-spacing="0.2">10</text>
<line x1="281.75" y1="343.6" x2="281.75" y2="342.1" stroke="#999" stroke-width="0.6"/>
<text x="281.75" y="352" font-size="6.9" text-anchor="middle" font-weight="normal" font-style="normal" fill="#555" letter-spacing="0.2">15</text>
<line x1="313.0" y1="343.6" x2="313.0" y2="342.1" stroke="#999" stroke-width="0.6"/>
<text x="313.0" y="352" font-size="6.9" text-anchor="middle" font-weight="normal" font-style="normal" fill="#555" letter-spacing="0.2">20</text>
<text x="250.6" y="201.9" font-size="6.8" text-anchor="middle" font-weight="bold" font-style="normal" fill="#000" textLength="52.8" lengthAdjust="spacingAndGlyphs" >Trial Distances</text>
<text x="250.5" y="360.2" font-size="7.2" text-anchor="middle" font-weight="normal" font-style="normal" fill="#555" textLength="67.5" lengthAdjust="spacingAndGlyphs" >Distance from Center</text>
<text transform="translate(164.5 273.8) rotate(-90)" x="0" y="0" font-size="7.0" text-anchor="middle" font-weight="normal" fill="#555" textLength="52.5" lengthAdjust="spacingAndGlyphs">Number of trials</text>
<text transform="translate(327.79 204.3) scale(0.73 1)" x="0" y="0" font-size="14" fill="#000" stroke="#000" stroke-width="0.6">C</text>
<path d="M354.5 206 V343.4 H490.9" fill="none" stroke="#999" stroke-width="0.8"/>
<circle cx="367.2" cy="262.0" r="1.8" fill="#000"/>
<circle cx="370.6" cy="261.7" r="1.8" fill="#000"/>
<circle cx="378.3" cy="263.1" r="1.8" fill="#000"/>
<circle cx="396.8" cy="252.2" r="1.8" fill="#000"/>
<circle cx="397.3" cy="253.6" r="1.8" fill="#000"/>
<circle cx="400.3" cy="247.5" r="1.8" fill="#000"/>
<circle cx="405.4" cy="245.7" r="1.8" fill="#000"/>
<circle cx="393.3" cy="260.1" r="1.8" fill="#000"/>
<circle cx="403.6" cy="259.3" r="1.8" fill="#000"/>
<circle cx="408.6" cy="261.4" r="1.8" fill="#000"/>
<circle cx="415.5" cy="258.8" r="1.8" fill="#000"/>
<circle cx="385.7" cy="271.4" r="1.8" fill="#000"/>
<circle cx="389.7" cy="274.4" r="1.8" fill="#000"/>
<circle cx="403.6" cy="269.1" r="1.8" fill="#000"/>
<circle cx="402.0" cy="274.9" r="1.8" fill="#000"/>
<circle cx="398.6" cy="278.1" r="1.8" fill="#000"/>
<circle cx="418.0" cy="280.7" r="1.8" fill="#000"/>
<circle cx="436.1" cy="239.9" r="1.8" fill="#000"/>
<circle cx="456.4" cy="241.4" r="1.8" fill="#000"/>
<circle cx="457.2" cy="248.0" r="1.8" fill="#000"/>
<circle cx="438.7" cy="249.6" r="1.8" fill="#000"/>
<circle cx="446.8" cy="251.5" r="1.8" fill="#000"/>
<circle cx="454.2" cy="256.7" r="1.8" fill="#000"/>
<circle cx="462.3" cy="260.3" r="1.8" fill="#000"/>
<circle cx="470.4" cy="261.0" r="1.8" fill="#000"/>
<circle cx="478.1" cy="262.4" r="1.8" fill="#000"/>
<circle cx="437.1" cy="258.2" r="1.8" fill="#000"/>
<circle cx="443.2" cy="258.5" r="1.8" fill="#000"/>
<circle cx="432.1" cy="259.3" r="1.8" fill="#000"/>
<circle cx="421.8" cy="257.5" r="1.8" fill="#000"/>
<circle cx="416.5" cy="258.9" r="1.8" fill="#000"/>
<circle cx="423.2" cy="263.3" r="1.8" fill="#000"/>
<circle cx="423.4" cy="265.9" r="1.8" fill="#000"/>
<circle cx="435.0" cy="268.0" r="1.8" fill="#000"/>
<circle cx="426.6" cy="272.3" r="1.8" fill="#000"/>
<circle cx="428.7" cy="273.3" r="1.8" fill="#000"/>
<circle cx="435.5" cy="274.9" r="1.8" fill="#000"/>
<circle cx="440.5" cy="273.3" r="1.8" fill="#000"/>
<circle cx="448.2" cy="270.5" r="1.8" fill="#000"/>
<circle cx="450.3" cy="273.9" r="1.8" fill="#000"/>
<circle cx="453.5" cy="276.5" r="1.8" fill="#000"/>
<circle cx="469.6" cy="272.8" r="1.8" fill="#000"/>
<circle cx="422.9" cy="277.5" r="1.8" fill="#000"/>
<circle cx="417.6" cy="276.5" r="1.8" fill="#000"/>
<circle cx="441.3" cy="280.7" r="1.8" fill="#000"/>
<circle cx="448.7" cy="279.7" r="1.8" fill="#000"/>
<circle cx="408.1" cy="284.2" r="1.8" fill="#000"/>
<circle cx="414.0" cy="296.9" r="1.8" fill="#000"/>
<circle cx="395.9" cy="304.1" r="1.8" fill="#000"/>
<circle cx="390.4" cy="310.4" r="1.8" fill="#000"/>
<circle cx="415.5" cy="310.5" r="1.8" fill="#000"/>
<circle cx="430.8" cy="281.6" r="1.8" fill="#000"/>
<circle cx="434.5" cy="283.2" r="1.8" fill="#000"/>
<circle cx="443.2" cy="285.3" r="1.8" fill="#000"/>
<circle cx="444.3" cy="289.3" r="1.8" fill="#000"/>
<circle cx="458.8" cy="284.4" r="1.8" fill="#000"/>
<circle cx="469.9" cy="287.6" r="1.8" fill="#000"/>
<circle cx="422.1" cy="291.1" r="1.8" fill="#000"/>
<circle cx="429.5" cy="292.9" r="1.8" fill="#000"/>
<circle cx="441.6" cy="295.3" r="1.8" fill="#000"/>
<circle cx="445.8" cy="295.6" r="1.8" fill="#000"/>
<circle cx="448.9" cy="298.8" r="1.8" fill="#000"/>
<circle cx="432.4" cy="304.5" r="1.8" fill="#000"/>
<circle cx="436.9" cy="305.3" r="1.8" fill="#000"/>
<circle cx="422.9" cy="315.9" r="1.8" fill="#000"/>
<circle cx="422.5" cy="335.8" r="1.8" fill="#000"/>
<circle cx="486.8" cy="265.9" r="1.8" fill="#000"/>
<circle cx="373.2" cy="256.4" r="1.8" fill="#f00"/>
<circle cx="374.4" cy="259.9" r="1.8" fill="#f00"/>
<circle cx="383.0" cy="262.2" r="1.8" fill="#f00"/>
<circle cx="389.9" cy="252.9" r="1.8" fill="#f00"/>
<circle cx="398.9" cy="247.0" r="1.8" fill="#f00"/>
<circle cx="405.7" cy="252.0" r="1.8" fill="#f00"/>
<circle cx="408.1" cy="255.6" r="1.8" fill="#f00"/>
<circle cx="398.1" cy="256.4" r="1.8" fill="#f00"/>
<circle cx="394.1" cy="261.2" r="1.8" fill="#f00"/>
<circle cx="393.1" cy="269.3" r="1.8" fill="#f00"/>
<circle cx="399.9" cy="268.4" r="1.8" fill="#f00"/>
<circle cx="406.8" cy="268.3" r="1.8" fill="#f00"/>
<circle cx="391.8" cy="274.4" r="1.8" fill="#f00"/>
<circle cx="399.6" cy="274.7" r="1.8" fill="#f00"/>
<circle cx="405.5" cy="280.6" r="1.8" fill="#f00"/>
<circle cx="421.1" cy="236.6" r="1.8" fill="#f00"/>
<circle cx="451.7" cy="242.4" r="1.8" fill="#f00"/>
<circle cx="454.9" cy="244.3" r="1.8" fill="#f00"/>
<circle cx="441.3" cy="247.5" r="1.8" fill="#f00"/>
<circle cx="443.7" cy="248.0" r="1.8" fill="#f00"/>
<circle cx="431.3" cy="254.3" r="1.8" fill="#f00"/>
<circle cx="441.1" cy="255.4" r="1.8" fill="#f00"/>
<circle cx="453.8" cy="254.0" r="1.8" fill="#f00"/>
<circle cx="461.2" cy="253.8" r="1.8" fill="#f00"/>
<circle cx="422.3" cy="256.7" r="1.8" fill="#f00"/>
<circle cx="434.8" cy="259.6" r="1.8" fill="#f00"/>
<circle cx="435.5" cy="261.0" r="1.8" fill="#f00"/>
<circle cx="431.3" cy="261.7" r="1.8" fill="#f00"/>
<circle cx="440.8" cy="259.6" r="1.8" fill="#f00"/>
<circle cx="459.5" cy="261.0" r="1.8" fill="#f00"/>
<circle cx="473.9" cy="261.2" r="1.8" fill="#f00"/>
<circle cx="427.1" cy="267.0" r="1.8" fill="#f00"/>
<circle cx="433.7" cy="266.5" r="1.8" fill="#f00"/>
<circle cx="430.3" cy="269.6" r="1.8" fill="#f00"/>
<circle cx="434.5" cy="270.7" r="1.8" fill="#f00"/>
<circle cx="433.1" cy="274.9" r="1.8" fill="#f00"/>
<circle cx="435.0" cy="273.9" r="1.8" fill="#f00"/>
<circle cx="420.2" cy="272.3" r="1.8" fill="#f00"/>
<circle cx="441.3" cy="274.9" r="1.8" fill="#f00"/>
<circle cx="442.4" cy="277.5" r="1.8" fill="#f00"/>
<circle cx="447.4" cy="274.7" r="1.8" fill="#f00"/>
<circle cx="450.3" cy="269.4" r="1.8" fill="#f00"/>
<circle cx="450.3" cy="272.3" r="1.8" fill="#f00"/>
<circle cx="463.3" cy="275.6" r="1.8" fill="#f00"/>
<circle cx="417.1" cy="277.5" r="1.8" fill="#f00"/>
<circle cx="418.1" cy="278.6" r="1.8" fill="#f00"/>
<circle cx="430.3" cy="279.9" r="1.8" fill="#f00"/>
<circle cx="439.0" cy="279.9" r="1.8" fill="#f00"/>
<circle cx="450.3" cy="281.0" r="1.8" fill="#f00"/>
<circle cx="357.0" cy="285.0" r="1.8" fill="#f00"/>
<circle cx="402.0" cy="285.0" r="1.8" fill="#f00"/>
<circle cx="413.5" cy="285.8" r="1.8" fill="#f00"/>
<circle cx="415.5" cy="290.0" r="1.8" fill="#f00"/>
<circle cx="417.3" cy="285.1" r="1.8" fill="#f00"/>
<circle cx="409.4" cy="301.6" r="1.8" fill="#f00"/>
<circle cx="403.8" cy="307.7" r="1.8" fill="#f00"/>
<circle cx="387.6" cy="311.4" r="1.8" fill="#f00"/>
<circle cx="434.5" cy="285.5" r="1.8" fill="#f00"/>
<circle cx="446.8" cy="287.6" r="1.8" fill="#f00"/>
<circle cx="460.6" cy="285.1" r="1.8" fill="#f00"/>
<circle cx="475.3" cy="286.5" r="1.8" fill="#f00"/>
<circle cx="428.7" cy="290.8" r="1.8" fill="#f00"/>
<circle cx="438.2" cy="290.9" r="1.8" fill="#f00"/>
<circle cx="442.6" cy="293.5" r="1.8" fill="#f00"/>
<circle cx="448.2" cy="292.5" r="1.8" fill="#f00"/>
<circle cx="437.6" cy="295.8" r="1.8" fill="#f00"/>
<circle cx="444.7" cy="298.5" r="1.8" fill="#f00"/>
<circle cx="430.3" cy="301.3" r="1.8" fill="#f00"/>
<circle cx="426.8" cy="305.3" r="1.8" fill="#f00"/>
<circle cx="419.4" cy="310.1" r="1.8" fill="#f00"/>
<circle cx="429.2" cy="318.5" r="1.8" fill="#f00"/>
<circle cx="421.3" cy="331.2" r="1.8" fill="#f00"/>
<circle cx="489.0" cy="269.3" r="1.8" fill="#f00"/>
<line x1="354.5" y1="217.10000000000002" x2="356.0" y2="217.10000000000002" stroke="#999" stroke-width="0.6"/>
<text x="352.0" y="219.3" font-size="6.9" text-anchor="end" font-weight="normal" font-style="normal" fill="#555" letter-spacing="0.2">10</text>
<line x1="354.5" y1="245.85000000000002" x2="356.0" y2="245.85000000000002" stroke="#999" stroke-width="0.6"/>
<text x="352.0" y="248.05" font-size="6.9" text-anchor="end" font-weight="normal" font-style="normal" fill="#555" letter-spacing="0.2">5</text>
<line x1="354.5" y1="274.6" x2="356.0" y2="274.6" stroke="#999" stroke-width="0.6"/>
<text x="352.0" y="276.8" font-size="6.9" text-anchor="end" font-weight="normal" font-style="normal" fill="#555" letter-spacing="0.2">0</text>
<line x1="354.5" y1="303.35" x2="356.0" y2="303.35" stroke="#999" stroke-width="0.6"/>
<text x="352.0" y="305.55" font-size="6.9" text-anchor="end" font-weight="normal" font-style="normal" fill="#555" letter-spacing="0.2">-5</text>
<line x1="354.5" y1="332.1" x2="356.0" y2="332.1" stroke="#999" stroke-width="0.6"/>
<text x="352.0" y="334.3" font-size="6.9" text-anchor="end" font-weight="normal" font-style="normal" fill="#555" letter-spacing="0.2">-10</text>
<line x1="366.09999999999997" y1="343.4" x2="366.09999999999997" y2="341.9" stroke="#999" stroke-width="0.6"/>
<text x="366.09999999999997" y="352.4" font-size="6.9" text-anchor="middle" font-weight="normal" font-style="normal" fill="#555" letter-spacing="0.2">-10</text>
<line x1="394.4" y1="343.4" x2="394.4" y2="341.9" stroke="#999" stroke-width="0.6"/>
<text x="394.4" y="352.4" font-size="6.9" text-anchor="middle" font-weight="normal" font-style="normal" fill="#555" letter-spacing="0.2">-5</text>
<line x1="422.7" y1="343.4" x2="422.7" y2="341.9" stroke="#999" stroke-width="0.6"/>
<text x="422.7" y="352.4" font-size="6.9" text-anchor="middle" font-weight="normal" font-style="normal" fill="#555" letter-spacing="0.2">0</text>
<line x1="451.0" y1="343.4" x2="451.0" y2="341.9" stroke="#999" stroke-width="0.6"/>
<text x="451.0" y="352.4" font-size="6.9" text-anchor="middle" font-weight="normal" font-style="normal" fill="#555" letter-spacing="0.2">5</text>
<line x1="479.3" y1="343.4" x2="479.3" y2="341.9" stroke="#999" stroke-width="0.6"/>
<text x="479.3" y="352.4" font-size="6.9" text-anchor="middle" font-weight="normal" font-style="normal" fill="#555" letter-spacing="0.2">10</text>
<text x="422.4" y="203" font-size="6.8" text-anchor="middle" font-weight="bold" font-style="normal" fill="#000" textLength="53.75" lengthAdjust="spacingAndGlyphs" >Patient 1 Trials</text>
<text x="422.3" y="359.8" font-size="7.0" text-anchor="middle" font-weight="normal" font-style="normal" fill="#555" textLength="42.4" lengthAdjust="spacingAndGlyphs" >Component 1</text>
<text transform="translate(339.4 275.4) rotate(-90)" x="0" y="0" font-size="7.0" text-anchor="middle" font-weight="normal" fill="#555" textLength="41.8" lengthAdjust="spacingAndGlyphs">Component 2</text>
<rect x="441.8" y="210" width="44.5" height="15.2" fill="#fff" stroke="#999" stroke-width="0.6"/>
<circle cx="452" cy="214.6" r="1.75" fill="#000"/><circle cx="452" cy="221.3" r="1.75" fill="#f00"/>
<text x="462" y="216.9" font-size="6.3" text-anchor="start" font-weight="normal" font-style="normal" fill="#333" textLength="19.2" lengthAdjust="spacingAndGlyphs" >t=0 ms</text>
<text x="462" y="223.6" font-size="6.3" text-anchor="start" font-weight="normal" font-style="normal" fill="#333" textLength="22.5" lengthAdjust="spacingAndGlyphs" >t=50 ms</text>
<path d="M531.5 206 V345.1 H667.8" fill="none" stroke="#999" stroke-width="0.8"/>
<circle cx="544.2" cy="263.3" r="1.8" fill="#000"/>
<circle cx="547.6" cy="263.1" r="1.8" fill="#000"/>
<circle cx="555.5" cy="264.6" r="1.8" fill="#000"/>
<circle cx="573.8" cy="253.8" r="1.8" fill="#000"/>
<circle cx="574.5" cy="255.4" r="1.8" fill="#000"/>
<circle cx="577.3" cy="248.5" r="1.8" fill="#000"/>
<circle cx="582.4" cy="247.2" r="1.8" fill="#000"/>
<circle cx="570.4" cy="261.7" r="1.8" fill="#000"/>
<circle cx="580.8" cy="260.3" r="1.8" fill="#000"/>
<circle cx="585.7" cy="262.8" r="1.8" fill="#000"/>
<circle cx="592.5" cy="259.9" r="1.8" fill="#000"/>
<circle cx="563.0" cy="272.5" r="1.8" fill="#000"/>
<circle cx="566.7" cy="276.0" r="1.8" fill="#000"/>
<circle cx="581.2" cy="270.5" r="1.8" fill="#000"/>
<circle cx="579.0" cy="276.5" r="1.8" fill="#000"/>
<circle cx="575.9" cy="279.3" r="1.8" fill="#000"/>
<circle cx="594.6" cy="277.9" r="1.8" fill="#000"/>
<circle cx="598.4" cy="238.3" r="1.8" fill="#000"/>
<circle cx="613.4" cy="241.3" r="1.8" fill="#000"/>
<circle cx="633.4" cy="242.7" r="1.8" fill="#000"/>
<circle cx="634.2" cy="249.4" r="1.8" fill="#000"/>
<circle cx="615.8" cy="250.8" r="1.8" fill="#000"/>
<circle cx="623.9" cy="252.9" r="1.8" fill="#000"/>
<circle cx="631.3" cy="257.8" r="1.8" fill="#000"/>
<circle cx="639.2" cy="261.7" r="1.8" fill="#000"/>
<circle cx="647.5" cy="262.4" r="1.8" fill="#000"/>
<circle cx="655.1" cy="263.5" r="1.8" fill="#000"/>
<circle cx="663.7" cy="267.2" r="1.8" fill="#000"/>
<circle cx="598.6" cy="259.3" r="1.8" fill="#000"/>
<circle cx="609.5" cy="260.3" r="1.8" fill="#000"/>
<circle cx="613.9" cy="260.1" r="1.8" fill="#000"/>
<circle cx="620.0" cy="260.1" r="1.8" fill="#000"/>
<circle cx="600.7" cy="264.9" r="1.8" fill="#000"/>
<circle cx="603.9" cy="268.8" r="1.8" fill="#000"/>
<circle cx="611.8" cy="269.1" r="1.8" fill="#000"/>
<circle cx="603.5" cy="274.1" r="1.8" fill="#000"/>
<circle cx="606.0" cy="274.4" r="1.8" fill="#000"/>
<circle cx="613.4" cy="276.2" r="1.8" fill="#000"/>
<circle cx="617.9" cy="274.7" r="1.8" fill="#000"/>
<circle cx="625.3" cy="271.7" r="1.8" fill="#000"/>
<circle cx="627.4" cy="275.1" r="1.8" fill="#000"/>
<circle cx="630.6" cy="278.1" r="1.8" fill="#000"/>
<circle cx="646.4" cy="274.4" r="1.8" fill="#000"/>
<circle cx="600.0" cy="278.6" r="1.8" fill="#000"/>
<circle cx="618.0" cy="280.0" r="1.8" fill="#000"/>
<circle cx="585.4" cy="285.8" r="1.8" fill="#000"/>
<circle cx="593.3" cy="283.2" r="1.8" fill="#000"/>
<circle cx="593.3" cy="290.6" r="1.8" fill="#000"/>
<circle cx="591.0" cy="298.5" r="1.8" fill="#000"/>
<circle cx="573.0" cy="305.3" r="1.8" fill="#000"/>
<circle cx="567.4" cy="311.7" r="1.8" fill="#000"/>
<circle cx="592.2" cy="311.7" r="1.8" fill="#000"/>
<circle cx="607.8" cy="282.6" r="1.8" fill="#000"/>
<circle cx="611.8" cy="284.8" r="1.8" fill="#000"/>
<circle cx="615.5" cy="281.9" r="1.8" fill="#000"/>
<circle cx="620.4" cy="286.9" r="1.8" fill="#000"/>
<circle cx="621.5" cy="290.6" r="1.8" fill="#000"/>
<circle cx="636.1" cy="286.1" r="1.8" fill="#000"/>
<circle cx="647.2" cy="289.0" r="1.8" fill="#000"/>
<circle cx="599.3" cy="292.5" r="1.8" fill="#000"/>
<circle cx="606.5" cy="294.3" r="1.8" fill="#000"/>
<circle cx="619.0" cy="296.4" r="1.8" fill="#000"/>
<circle cx="622.6" cy="297.1" r="1.8" fill="#000"/>
<circle cx="625.7" cy="300.1" r="1.8" fill="#000"/>
<circle cx="609.5" cy="305.9" r="1.8" fill="#000"/>
<circle cx="613.7" cy="306.9" r="1.8" fill="#000"/>
<circle cx="600.2" cy="317.2" r="1.8" fill="#000"/>
<circle cx="600.0" cy="337.2" r="1.8" fill="#000"/>
<circle cx="583.6" cy="253.8" r="1.8" fill="#f00"/>
<circle cx="574.8" cy="264.6" r="1.8" fill="#f00"/>
<circle cx="593.1" cy="259.9" r="1.8" fill="#f00"/>
<circle cx="568.2" cy="272.0" r="1.8" fill="#f00"/>
<circle cx="569.0" cy="276.0" r="1.8" fill="#f00"/>
<circle cx="570.1" cy="277.2" r="1.8" fill="#f00"/>
<circle cx="588.9" cy="273.6" r="1.8" fill="#f00"/>
<circle cx="596.2" cy="274.4" r="1.8" fill="#f00"/>
<circle cx="617.9" cy="233.7" r="1.8" fill="#f00"/>
<circle cx="622.1" cy="237.4" r="1.8" fill="#f00"/>
<circle cx="631.6" cy="238.2" r="1.8" fill="#f00"/>
<circle cx="610.2" cy="245.0" r="1.8" fill="#f00"/>
<circle cx="606.3" cy="246.9" r="1.8" fill="#f00"/>
<circle cx="612.3" cy="247.7" r="1.8" fill="#f00"/>
<circle cx="621.1" cy="250.4" r="1.8" fill="#f00"/>
<circle cx="612.8" cy="252.4" r="1.8" fill="#f00"/>
<circle cx="619.2" cy="253.8" r="1.8" fill="#f00"/>
<circle cx="601.2" cy="252.2" r="1.8" fill="#f00"/>
<circle cx="601.2" cy="257.2" r="1.8" fill="#f00"/>
<circle cx="602.5" cy="258.2" r="1.8" fill="#f00"/>
<circle cx="606.5" cy="260.7" r="1.8" fill="#f00"/>
<circle cx="611.3" cy="262.2" r="1.8" fill="#f00"/>
<circle cx="611.3" cy="263.5" r="1.8" fill="#f00"/>
<circle cx="617.6" cy="263.1" r="1.8" fill="#f00"/>
<circle cx="632.7" cy="261.7" r="1.8" fill="#f00"/>
<circle cx="632.9" cy="264.9" r="1.8" fill="#f00"/>
<circle cx="636.9" cy="266.5" r="1.8" fill="#f00"/>
<circle cx="636.1" cy="269.1" r="1.8" fill="#f00"/>
<circle cx="653.2" cy="260.7" r="1.8" fill="#f00"/>
<circle cx="662.3" cy="270.5" r="1.8" fill="#f00"/>
<circle cx="613.4" cy="267.5" r="1.8" fill="#f00"/>
<circle cx="599.1" cy="269.4" r="1.8" fill="#f00"/>
<circle cx="603.9" cy="270.5" r="1.8" fill="#f00"/>
<circle cx="614.1" cy="271.7" r="1.8" fill="#f00"/>
<circle cx="622.9" cy="269.1" r="1.8" fill="#f00"/>
<circle cx="626.6" cy="267.3" r="1.8" fill="#f00"/>
<circle cx="627.6" cy="271.5" r="1.8" fill="#f00"/>
<circle cx="631.0" cy="271.5" r="1.8" fill="#f00"/>
<circle cx="604.2" cy="277.9" r="1.8" fill="#f00"/>
<circle cx="621.8" cy="279.6" r="1.8" fill="#f00"/>
<circle cx="624.2" cy="277.9" r="1.8" fill="#f00"/>
<circle cx="627.1" cy="279.1" r="1.8" fill="#f00"/>
<circle cx="650.3" cy="281.0" r="1.8" fill="#f00"/>
<circle cx="549.8" cy="286.5" r="1.8" fill="#f00"/>
<circle cx="580.6" cy="286.5" r="1.8" fill="#f00"/>
<circle cx="586.1" cy="291.8" r="1.8" fill="#f00"/>
<circle cx="591.4" cy="294.3" r="1.8" fill="#f00"/>
<circle cx="593.3" cy="296.9" r="1.8" fill="#f00"/>
<circle cx="575.9" cy="296.4" r="1.8" fill="#f00"/>
<circle cx="578.5" cy="297.4" r="1.8" fill="#f00"/>
<circle cx="597.0" cy="297.7" r="1.8" fill="#f00"/>
<circle cx="595.6" cy="314.8" r="1.8" fill="#f00"/>
<circle cx="601.8" cy="283.4" r="1.8" fill="#f00"/>
<circle cx="604.9" cy="283.2" r="1.8" fill="#f00"/>
<circle cx="610.5" cy="287.4" r="1.8" fill="#f00"/>
<circle cx="639.8" cy="292.1" r="1.8" fill="#f00"/>
<circle cx="644.3" cy="291.4" r="1.8" fill="#f00"/>
<circle cx="667.5" cy="294.3" r="1.8" fill="#f00"/>
<circle cx="609.5" cy="293.7" r="1.8" fill="#f00"/>
<circle cx="612.6" cy="295.8" r="1.8" fill="#f00"/>
<circle cx="614.7" cy="295.6" r="1.8" fill="#f00"/>
<circle cx="619.2" cy="299.5" r="1.8" fill="#f00"/>
<circle cx="638.4" cy="296.9" r="1.8" fill="#f00"/>
<circle cx="647.7" cy="298.5" r="1.8" fill="#f00"/>
<circle cx="632.4" cy="300.9" r="1.8" fill="#f00"/>
<circle cx="606.5" cy="305.1" r="1.8" fill="#f00"/>
<circle cx="602.5" cy="309.4" r="1.8" fill="#f00"/>
<circle cx="599.1" cy="312.5" r="1.8" fill="#f00"/>
<circle cx="635.0" cy="308.0" r="1.8" fill="#f00"/>
<circle cx="658.2" cy="308.7" r="1.8" fill="#f00"/>
<circle cx="632.4" cy="315.9" r="1.8" fill="#f00"/>
<circle cx="645.0" cy="323.3" r="1.8" fill="#f00"/>
<circle cx="660.4" cy="335.4" r="1.8" fill="#f00"/>
<circle cx="624.2" cy="284.4" r="1.8" fill="#f00"/>
<line x1="531.5" y1="218.7" x2="533.0" y2="218.7" stroke="#999" stroke-width="0.6"/>
<text x="529.0" y="220.89999999999998" font-size="6.9" text-anchor="end" font-weight="normal" font-style="normal" fill="#555" letter-spacing="0.2">10</text>
<line x1="531.5" y1="247.45" x2="533.0" y2="247.45" stroke="#999" stroke-width="0.6"/>
<text x="529.0" y="249.64999999999998" font-size="6.9" text-anchor="end" font-weight="normal" font-style="normal" fill="#555" letter-spacing="0.2">5</text>
<line x1="531.5" y1="276.2" x2="533.0" y2="276.2" stroke="#999" stroke-width="0.6"/>
<text x="529.0" y="278.4" font-size="6.9" text-anchor="end" font-weight="normal" font-style="normal" fill="#555" letter-spacing="0.2">0</text>
<line x1="531.5" y1="304.95" x2="533.0" y2="304.95" stroke="#999" stroke-width="0.6"/>
<text x="529.0" y="307.15" font-size="6.9" text-anchor="end" font-weight="normal" font-style="normal" fill="#555" letter-spacing="0.2">-5</text>
<line x1="531.5" y1="333.7" x2="533.0" y2="333.7" stroke="#999" stroke-width="0.6"/>
<text x="529.0" y="335.9" font-size="6.9" text-anchor="end" font-weight="normal" font-style="normal" fill="#555" letter-spacing="0.2">-10</text>
<line x1="542.5999999999999" y1="345.1" x2="542.5999999999999" y2="343.6" stroke="#999" stroke-width="0.6"/>
<text x="542.5999999999999" y="354.1" font-size="6.9" text-anchor="middle" font-weight="normal" font-style="normal" fill="#555" letter-spacing="0.2">-10</text>
<line x1="571.1999999999999" y1="345.1" x2="571.1999999999999" y2="343.6" stroke="#999" stroke-width="0.6"/>
<text x="571.1999999999999" y="354.1" font-size="6.9" text-anchor="middle" font-weight="normal" font-style="normal" fill="#555" letter-spacing="0.2">-5</text>
<line x1="599.8" y1="345.1" x2="599.8" y2="343.6" stroke="#999" stroke-width="0.6"/>
<text x="599.8" y="354.1" font-size="6.9" text-anchor="middle" font-weight="normal" font-style="normal" fill="#555" letter-spacing="0.2">0</text>
<line x1="628.4" y1="345.1" x2="628.4" y2="343.6" stroke="#999" stroke-width="0.6"/>
<text x="628.4" y="354.1" font-size="6.9" text-anchor="middle" font-weight="normal" font-style="normal" fill="#555" letter-spacing="0.2">5</text>
<line x1="657.0" y1="345.1" x2="657.0" y2="343.6" stroke="#999" stroke-width="0.6"/>
<text x="657.0" y="354.1" font-size="6.9" text-anchor="middle" font-weight="normal" font-style="normal" fill="#555" letter-spacing="0.2">10</text>
<text x="599.4" y="204" font-size="6.8" text-anchor="middle" font-weight="bold" font-style="normal" fill="#000" textLength="53.25" lengthAdjust="spacingAndGlyphs" >Patient 1 Trials</text>
<text x="599.3" y="362.2" font-size="7.0" text-anchor="middle" font-weight="normal" font-style="normal" fill="#555" textLength="43" lengthAdjust="spacingAndGlyphs" >Component 1</text>
<text transform="translate(516.4 276.7) rotate(-90)" x="0" y="0" font-size="7.0" text-anchor="middle" font-weight="normal" fill="#555" textLength="42" lengthAdjust="spacingAndGlyphs">Component 2</text>
<rect x="615.3" y="211.2" width="48.7" height="15" fill="#fff" stroke="#999" stroke-width="0.6"/>
<circle cx="625.6" cy="216" r="1.75" fill="#000"/><circle cx="625.6" cy="222.6" r="1.75" fill="#f00"/>
<text x="635.8" y="218.3" font-size="6.3" text-anchor="start" font-weight="normal" font-style="normal" fill="#333" textLength="19.2" lengthAdjust="spacingAndGlyphs" >t=0 ms</text>
<text x="635.8" y="224.9" font-size="6.3" text-anchor="start" font-weight="normal" font-style="normal" fill="#333" textLength="25.5" lengthAdjust="spacingAndGlyphs" >t=500 ms</text>
<line x1="577.5" y1="241.3" x2="600" y2="232.6" stroke="#1a1aa8" stroke-width="1.3"/>
<path d="M603.8 231.2 L597.6 230.0 L599.9 236.0 Z" fill="#1a1aa8"/>
<line x1="611.5" y1="324.5" x2="642.5" y2="333.4" stroke="#1a1aa8" stroke-width="1.3"/>
<path d="M646.5 334.5 L640.6 330.2 L639.6 336.6 Z" fill="#1a1aa8"/>
<text transform="translate(0.73 376.1) scale(0.87 1)" x="0" y="0" font-size="14" fill="#000" stroke="#000" stroke-width="0.6">D</text>
<g><clipPath id="cp380"><rect x="27.6" y="380" width="185.4" height="77.39999999999998"/></clipPath></g>
<g clip-path="url(#cp380)">
<path d="M27.6 433.1 L35.0 425.5 L42.3 415.0 L49.7 423.3 L57.0 421.6 L64.4 420.4 L71.8 413.8 L79.1 417.0 L86.5 416.0 L93.8 413.8 L101.2 404.5 L108.6 412.6 L115.9 415.2 L123.3 416.5 L130.6 418.4 L138.0 417.2 L145.4 409.6 L152.7 404.5 L160.1 402.6 L167.4 406.7 L174.8 416.9 L182.2 421.0 L189.5 424.0 L196.9 424.0 L204.2 430.6 L211.6 437.6 L211.6 451.6 L204.2 444.6 L196.9 438.0 L189.5 438.0 L182.2 435.0 L174.8 431.9 L167.4 421.7 L160.1 417.6 L152.7 419.5 L145.4 424.6 L138.0 429.2 L130.6 430.4 L123.3 428.5 L115.9 427.2 L108.6 424.6 L101.2 418.1 L93.8 426.2 L86.5 428.4 L79.1 429.4 L71.8 426.2 L64.4 432.8 L57.0 434.0 L49.7 435.7 L42.3 427.4 L35.0 437.9 L27.6 445.5 Z" fill="#0072bd" fill-opacity="0.3"/>
<path d="M27.6 423.9 L35.0 420.2 L42.3 416.8 L49.7 412.5 L57.0 414.8 L64.4 411.4 L71.8 412.5 L79.1 416.8 L86.5 417.3 L93.8 421.6 L101.2 425.6 L108.6 429.7 L115.9 421.0 L123.3 409.0 L130.6 396.3 L138.0 399.2 L145.4 394.8 L152.7 393.8 L160.1 401.1 L167.4 411.3 L174.8 421.0 L182.2 419.6 L189.5 429.8 L196.9 434.2 L204.2 440.5 L211.6 449.5 L211.6 463.5 L204.2 454.5 L196.9 448.2 L189.5 443.8 L182.2 433.6 L174.8 435.0 L167.4 427.3 L160.1 417.1 L152.7 409.8 L145.4 410.8 L138.0 415.2 L130.6 412.3 L123.3 425.0 L115.9 437.0 L108.6 442.5 L101.2 438.4 L93.8 434.4 L86.5 430.1 L79.1 429.6 L71.8 425.3 L64.4 424.2 L57.0 427.6 L49.7 425.3 L42.3 429.6 L35.0 433.0 L27.6 436.7 Z" fill="#d95319" fill-opacity="0.3"/>
<line x1="27.6" y1="424.4" x2="212" y2="424.4" stroke="#222" stroke-width="1" stroke-dasharray="4 1.6 1 1.6"/>
<path d="M27.6 439.3 L35.0 431.7 L42.3 421.2 L49.7 429.5 L57.0 427.8 L64.4 426.6 L71.8 420.0 L79.1 423.2 L86.5 422.2 L93.8 420.0 L101.2 411.3 L108.6 418.6 L115.9 421.2 L123.3 422.5 L130.6 424.4 L138.0 423.2 L145.4 417.1 L152.7 412.0 L160.1 410.1 L167.4 414.2 L174.8 424.4 L182.2 428.0 L189.5 431.0 L196.9 431.0 L204.2 437.6 L211.6 444.6" fill="none" stroke="#0072bd" stroke-width="1.9" stroke-linejoin="round"/>
<path d="M27.6 430.3 L35.0 426.6 L42.3 423.2 L49.7 418.9 L57.0 421.2 L64.4 417.8 L71.8 418.9 L79.1 423.2 L86.5 423.7 L93.8 428.0 L101.2 432.0 L108.6 436.1 L115.9 429.0 L123.3 417.0 L130.6 404.3 L138.0 407.2 L145.4 402.8 L152.7 401.8 L160.1 409.1 L167.4 419.3 L174.8 428.0 L182.2 426.6 L189.5 436.8 L196.9 441.2 L204.2 447.5 L211.6 456.5" fill="none" stroke="#d95319" stroke-width="1.9" stroke-linejoin="round"/>
</g>
<path d="M27.6 380 V457.4 H212" fill="none" stroke="#999" stroke-width="0.8"/>
<line x1="27.6" y1="457.4" x2="27.6" y2="455.9" stroke="#999" stroke-width="0.6"/>
<text x="27.6" y="466.79999999999995" font-size="8.0" text-anchor="middle" font-weight="normal" font-style="normal" fill="#555" letter-spacing="0">0</text>
<line x1="101.19999999999999" y1="457.4" x2="101.19999999999999" y2="455.9" stroke="#999" stroke-width="0.6"/>
<text x="101.19999999999999" y="466.79999999999995" font-size="8.0" text-anchor="middle" font-weight="normal" font-style="normal" fill="#555" letter-spacing="0">500</text>
<line x1="174.79999999999998" y1="457.4" x2="174.79999999999998" y2="455.9" stroke="#999" stroke-width="0.6"/>
<text x="174.79999999999998" y="466.79999999999995" font-size="8.0" text-anchor="middle" font-weight="normal" font-style="normal" fill="#555" letter-spacing="0">1000</text>
<line x1="27.6" y1="424.4" x2="29.1" y2="424.4" stroke="#999" stroke-width="0.6"/>
<text x="25.1" y="427.29999999999995" font-size="8.0" text-anchor="end" font-weight="normal" font-style="normal" fill="#555" letter-spacing="0">0.1</text>
<rect x="87" y="384.6" width="22" height="2" fill="#f00"/>
<rect x="145.6" y="387" width="22.4" height="2" fill="#0f0"/>
<text x="119.3" y="377.4" font-size="8.6" text-anchor="middle" font-weight="bold" font-style="normal" fill="#000" textLength="108.6" lengthAdjust="spacingAndGlyphs" >Correct Trials at Encoding</text>
<g><clipPath id="cp488"><rect x="27.6" y="488" width="185.4" height="76"/></clipPath></g>
<g clip-path="url(#cp488)">
<path d="M27.6 544.7 L35.0 542.7 L42.3 535.3 L49.7 525.8 L57.0 514.9 L64.4 514.1 L71.8 511.9 L79.1 512.7 L86.5 528.7 L93.8 511.5 L101.2 513.4 L108.6 512.4 L115.9 505.4 L123.3 503.9 L130.6 505.4 L138.0 512.7 L145.4 519.2 L152.7 522.9 L160.1 525.8 L167.4 529.9 L174.8 525.1 L182.2 521.1 L189.5 536.8 L196.9 538.7 L204.2 540.4 L211.6 545.5 L211.6 562.7 L204.2 557.6 L196.9 555.9 L189.5 554.0 L182.2 538.3 L174.8 542.3 L167.4 547.1 L160.1 543.0 L152.7 540.1 L145.4 536.4 L138.0 529.9 L130.6 522.6 L123.3 521.1 L115.9 522.6 L108.6 529.6 L101.2 530.6 L93.8 528.7 L86.5 545.9 L79.1 529.9 L71.8 529.1 L64.4 531.3 L57.0 532.1 L49.7 543.0 L42.3 552.5 L35.0 558.3 L27.6 559.3 Z" fill="#0072bd" fill-opacity="0.3"/>
<path d="M27.6 550.4 L35.0 543.3 L42.3 537.9 L49.7 528.0 L57.0 526.2 L64.4 522.6 L71.8 521.8 L79.1 520.7 L86.5 508.4 L93.8 516.0 L101.2 508.4 L108.6 511.6 L115.9 501.4 L123.3 500.2 L130.6 501.4 L138.0 513.1 L145.4 502.1 L152.7 498.5 L160.1 515.3 L167.4 521.8 L174.8 532.1 L182.2 537.9 L189.5 543.8 L196.9 545.9 L204.2 551.8 L211.6 554.2 L211.6 570.6 L204.2 568.2 L196.9 562.3 L189.5 560.2 L182.2 554.3 L174.8 548.5 L167.4 538.2 L160.1 531.7 L152.7 514.9 L145.4 518.5 L138.0 529.5 L130.6 517.8 L123.3 516.6 L115.9 517.8 L108.6 528.0 L101.2 524.8 L93.8 532.4 L86.5 524.8 L79.1 537.1 L71.8 538.2 L64.4 539.0 L57.0 542.6 L49.7 544.4 L42.3 554.3 L35.0 557.7 L27.6 563.6 Z" fill="#d95319" fill-opacity="0.3"/>
<line x1="27.6" y1="532" x2="212" y2="532" stroke="#222" stroke-width="1" stroke-dasharray="4 1.6 1 1.6"/>
<path d="M27.6 552.0 L35.0 550.5 L42.3 543.9 L49.7 534.4 L57.0 523.5 L64.4 522.7 L71.8 520.5 L79.1 521.3 L86.5 537.3 L93.8 520.1 L101.2 522.0 L108.6 521.0 L115.9 514.0 L123.3 512.5 L130.6 514.0 L138.0 521.3 L145.4 527.8 L152.7 531.5 L160.1 534.4 L167.4 538.5 L174.8 533.7 L182.2 529.7 L189.5 545.4 L196.9 547.3 L204.2 549.0 L211.6 554.1" fill="none" stroke="#0072bd" stroke-width="1.9" stroke-linejoin="round"/>
<path d="M27.6 557.0 L35.0 550.5 L42.3 546.1 L49.7 536.2 L57.0 534.4 L64.4 530.8 L71.8 530.0 L79.1 528.9 L86.5 516.6 L93.8 524.2 L101.2 516.6 L108.6 519.8 L115.9 509.6 L123.3 508.4 L130.6 509.6 L138.0 521.3 L145.4 510.3 L152.7 506.7 L160.1 523.5 L167.4 530.0 L174.8 540.3 L182.2 546.1 L189.5 552.0 L196.9 554.1 L204.2 560.0 L211.6 562.4" fill="none" stroke="#d95319" stroke-width="1.9" stroke-linejoin="round"/>
</g>
<path d="M27.6 488 V564 H212" fill="none" stroke="#999" stroke-width="0.8"/>
<line x1="27.6" y1="564" x2="27.6" y2="562.5" stroke="#999" stroke-width="0.6"/>
<text x="27.6" y="573.4" font-size="8.0" text-anchor="middle" font-weight="normal" font-style="normal" fill="#555" letter-spacing="0">0</text>
<line x1="101.19999999999999" y1="564" x2="101.19999999999999" y2="562.5" stroke="#999" stroke-width="0.6"/>
<text x="101.19999999999999" y="573.4" font-size="8.0" text-anchor="middle" font-weight="normal" font-style="normal" fill="#555" letter-spacing="0">500</text>
<line x1="174.79999999999998" y1="564" x2="174.79999999999998" y2="562.5" stroke="#999" stroke-width="0.6"/>
<text x="174.79999999999998" y="573.4" font-size="8.0" text-anchor="middle" font-weight="normal" font-style="normal" fill="#555" letter-spacing="0">1000</text>
<line x1="27.6" y1="532" x2="29.1" y2="532" stroke="#999" stroke-width="0.6"/>
<text x="25.1" y="534.9" font-size="8.0" text-anchor="end" font-weight="normal" font-style="normal" fill="#555" letter-spacing="0">0.1</text>
<rect x="87" y="492.6" width="22" height="2" fill="#f00"/>
<rect x="145.6" y="495" width="22.4" height="2" fill="#0f0"/>
<text x="119.3" y="484.6" font-size="8.6" text-anchor="middle" font-weight="bold" font-style="normal" fill="#000" textLength="117" lengthAdjust="spacingAndGlyphs" >Incorrect Trials at Encoding</text>
<rect x="91.6" y="543" width="56.4" height="17" fill="#fff" stroke="#888" stroke-width="0.6"/>
<line x1="94" y1="547.7" x2="116" y2="547.7" stroke="#0072bd" stroke-width="1.9"/>
<line x1="94" y1="555.6" x2="116" y2="555.6" stroke="#d95319" stroke-width="1.9"/>
<text x="117.5" y="550" font-size="6.4" text-anchor="start" font-weight="normal" font-style="normal" fill="#222" textLength="24" lengthAdjust="spacingAndGlyphs" >Anterior</text>
<text x="117.5" y="557.9" font-size="6.4" text-anchor="start" font-weight="normal" font-style="normal" fill="#222" textLength="28" lengthAdjust="spacingAndGlyphs" >Posterior</text>
<text transform="translate(7.6 474.5) rotate(-90)" x="0" y="0" font-size="9.6" text-anchor="middle" font-weight="bold" fill="#000" textLength="131" lengthAdjust="spacingAndGlyphs">Fraction exceeding 90th Percentile</text>
<text x="113.8" y="584.8" font-size="8.6" text-anchor="middle" font-weight="bold" font-style="normal" fill="#000" textLength="38.4" lengthAdjust="spacingAndGlyphs" >Time (ms)</text>
<text transform="translate(222.63 377.0) scale(0.69 1)" x="0" y="0" font-size="14" fill="#000" stroke="#000" stroke-width="0.6">E</text>
<path d="M254.4 561.8 C255.7 554.6 259.4 533.0 262.0 518.8 C264.6 504.6 268.0 487.2 270.1 476.8 C272.2 466.4 273.3 461.8 274.9 456.2 C276.5 450.6 278.0 447.6 279.8 443.3 C281.6 439.0 283.2 434.2 285.5 430.3 C287.8 426.4 290.8 422.9 293.5 419.8 C296.2 416.7 298.6 414.2 301.6 411.8 C304.6 409.4 308.1 406.9 311.3 405.3 C314.5 403.8 317.8 403.0 321.0 402.5 C324.2 402.0 327.8 402.3 330.8 402.5 C333.8 402.7 335.8 403.3 338.9 403.6 C342.0 403.9 347.6 404.0 349.4 404.1 L349.4 410.5 C347.6 410.4 342.0 410.3 338.9 410.0 C335.8 409.7 333.8 409.1 330.8 408.9 C327.8 408.7 324.2 408.4 321.0 408.9 C317.8 409.4 314.5 410.1 311.3 411.7 C308.1 413.2 304.6 415.8 301.6 418.2 C298.6 420.6 296.2 423.1 293.5 426.2 C290.8 429.3 287.8 432.8 285.5 436.7 C283.2 440.6 281.6 445.4 279.8 449.7 C278.0 454.0 276.5 457.0 274.9 462.6 C273.3 468.2 272.2 472.8 270.1 483.2 C268.0 493.6 264.6 511.0 262.0 525.2 C259.4 539.4 255.7 561.0 254.4 568.2 Z" fill="#0072bd" fill-opacity="0.24"/>
<path d="M254.4 561.8 C255.7 554.6 259.4 533.0 262.0 518.8 C264.6 504.6 267.8 487.0 270.0 476.8 C272.2 466.6 273.4 462.9 275.0 457.8 C276.6 452.8 278.1 450.1 279.8 446.5 C281.6 442.9 283.2 439.4 285.5 436.0 C287.8 432.6 290.8 429.1 293.5 426.3 C296.2 423.5 298.6 421.3 301.6 419.0 C304.6 416.7 308.1 414.2 311.3 412.5 C314.5 410.8 318.6 409.7 321.0 409.0 C323.4 408.3 323.7 408.4 325.9 408.5 C328.1 408.6 331.3 409.6 334.0 409.6 C336.7 409.6 339.5 408.7 342.1 408.5 C344.7 408.3 348.2 408.5 349.4 408.5 L349.4 414.9 C348.2 414.9 344.7 414.7 342.1 414.9 C339.5 415.1 336.7 416.0 334.0 416.0 C331.3 416.0 328.1 415.0 325.9 414.9 C323.7 414.8 323.4 414.7 321.0 415.4 C318.6 416.1 314.5 417.2 311.3 418.9 C308.1 420.6 304.6 423.1 301.6 425.4 C298.6 427.7 296.2 429.9 293.5 432.7 C290.8 435.5 287.8 439.0 285.5 442.4 C283.2 445.8 281.6 449.3 279.8 452.9 C278.1 456.5 276.6 459.1 275.0 464.2 C273.4 469.2 272.2 473.0 270.0 483.2 C267.8 493.4 264.6 511.0 262.0 525.2 C259.4 539.4 255.7 561.0 254.4 568.2 Z" fill="#d95319" fill-opacity="0.24"/>
<path d="M254.4 565.0 C255.7 557.8 259.4 536.2 262.0 522.0 C264.6 507.8 268.0 490.4 270.1 480.0 C272.2 469.6 273.3 465.0 274.9 459.4 C276.5 453.8 278.0 450.8 279.8 446.5 C281.6 442.2 283.2 437.4 285.5 433.5 C287.8 429.6 290.8 426.1 293.5 423.0 C296.2 419.9 298.6 417.4 301.6 415.0 C304.6 412.6 308.1 410.1 311.3 408.5 C314.5 406.9 317.8 406.2 321.0 405.7 C324.2 405.2 327.8 405.5 330.8 405.7 C333.8 405.9 335.8 406.5 338.9 406.8 C342.0 407.1 347.6 407.2 349.4 407.3" fill="none" stroke="#0072bd" stroke-width="2.3"/>
<path d="M254.4 565.0 C255.7 557.8 259.4 536.2 262.0 522.0 C264.6 507.8 267.8 490.2 270.0 480.0 C272.2 469.8 273.4 466.1 275.0 461.0 C276.6 455.9 278.1 453.3 279.8 449.7 C281.6 446.1 283.2 442.6 285.5 439.2 C287.8 435.8 290.8 432.3 293.5 429.5 C296.2 426.7 298.6 424.5 301.6 422.2 C304.6 419.9 308.1 417.4 311.3 415.7 C314.5 414.0 318.6 412.9 321.0 412.2 C323.4 411.5 323.7 411.6 325.9 411.7 C328.1 411.8 331.3 412.8 334.0 412.8 C336.7 412.8 339.5 411.9 342.1 411.7 C344.7 411.5 348.2 411.7 349.4 411.7" fill="none" stroke="#d95319" stroke-width="2.2"/>
<path d="M251 380 V565 H349.6" fill="none" stroke="#999" stroke-width="0.8"/>
<line x1="275.6" y1="565" x2="275.6" y2="563.5" stroke="#999" stroke-width="0.6"/>
<text x="275.6" y="575.2" font-size="8.0" text-anchor="middle" font-weight="normal" font-style="normal" fill="#555" letter-spacing="0">500</text>
<line x1="324.8" y1="565" x2="324.8" y2="563.5" stroke="#999" stroke-width="0.6"/>
<text x="324.8" y="575.2" font-size="8.0" text-anchor="middle" font-weight="normal" font-style="normal" fill="#555" letter-spacing="0">1000</text>
<line x1="251" y1="442" x2="252.5" y2="442" stroke="#999" stroke-width="0.6"/>
<text x="248.5" y="444.9" font-size="8.0" text-anchor="end" font-weight="normal" font-style="normal" fill="#555" letter-spacing="0">0.8</text>
<text x="300.6" y="377.2" font-size="8.6" text-anchor="middle" font-weight="bold" font-style="normal" fill="#000" textLength="53" lengthAdjust="spacingAndGlyphs" >Correct (RR)</text>
<rect x="271.4" y="541.4" width="57.2" height="17.6" fill="#fff" stroke="#888" stroke-width="0.6"/>
<line x1="274.59999999999997" y1="546.4" x2="297.0" y2="546.4" stroke="#0072bd" stroke-width="1.9"/>
<line x1="274.59999999999997" y1="554" x2="297.0" y2="554" stroke="#d95319" stroke-width="1.9"/>
<text x="298.4" y="548.7" font-size="6.4" text-anchor="start" font-weight="normal" font-style="normal" fill="#222" textLength="24.8" lengthAdjust="spacingAndGlyphs" >Anterior</text>
<text x="298.4" y="556.4" font-size="6.4" text-anchor="start" font-weight="normal" font-style="normal" fill="#222" textLength="28" lengthAdjust="spacingAndGlyphs" >Posterior</text>
<rect x="295.3" y="391.4" width="44.6" height="2" fill="#f00"/>
<path d="M386.0 561.8 C387.3 554.6 391.3 533.0 394.0 518.8 C396.7 504.6 400.0 487.2 402.2 476.8 C404.4 466.4 405.5 462.3 407.4 456.2 C409.3 450.1 411.4 445.0 413.8 440.1 C416.2 435.2 418.9 431.2 421.9 427.1 C424.9 423.1 428.1 418.8 431.6 415.8 C435.1 412.8 439.8 410.6 443.0 409.3 C446.2 408.0 448.9 408.1 451.0 408.0 C453.1 407.9 453.7 409.0 455.9 409.0 C458.1 409.0 460.1 408.2 464.0 408.0 C467.9 407.8 476.8 408.0 479.4 408.0 L479.4 414.4 C476.8 414.4 467.9 414.2 464.0 414.4 C460.1 414.6 458.1 415.4 455.9 415.4 C453.7 415.4 453.1 414.3 451.0 414.4 C448.9 414.4 446.2 414.4 443.0 415.7 C439.8 417.0 435.1 419.2 431.6 422.2 C428.1 425.2 424.9 429.4 421.9 433.5 C418.9 437.6 416.2 441.6 413.8 446.5 C411.4 451.4 409.3 456.5 407.4 462.6 C405.5 468.7 404.4 472.8 402.2 483.2 C400.0 493.6 396.7 511.0 394.0 525.2 C391.3 539.4 387.3 561.0 386.0 568.2 Z" fill="#0072bd" fill-opacity="0.24"/>
<path d="M386.0 561.8 C387.3 554.6 391.3 533.0 394.0 518.8 C396.7 504.6 400.0 487.0 402.2 476.8 C404.4 466.6 405.5 463.7 407.4 457.8 C409.3 451.9 411.4 446.3 413.8 441.7 C416.2 437.1 418.9 433.7 421.9 430.3 C424.9 426.9 428.1 423.8 431.6 421.4 C435.1 419.0 439.8 417.3 443.0 415.8 C446.2 414.3 448.9 413.1 451.0 412.5 C453.1 411.9 454.5 412.3 455.9 412.5 C457.2 412.7 456.9 413.6 459.1 413.8 C461.3 414.0 465.5 413.6 468.9 413.4 C472.3 413.2 477.6 412.6 479.4 412.5 L479.4 418.9 C477.6 419.0 472.3 419.6 468.9 419.8 C465.5 420.0 461.3 420.4 459.1 420.2 C456.9 420.0 457.2 419.1 455.9 418.9 C454.5 418.7 453.1 418.3 451.0 418.9 C448.9 419.4 446.2 420.7 443.0 422.2 C439.8 423.7 435.1 425.4 431.6 427.8 C428.1 430.2 424.9 433.3 421.9 436.7 C418.9 440.1 416.2 443.5 413.8 448.1 C411.4 452.7 409.3 458.3 407.4 464.2 C405.5 470.1 404.4 473.0 402.2 483.2 C400.0 493.4 396.7 511.0 394.0 525.2 C391.3 539.4 387.3 561.0 386.0 568.2 Z" fill="#d95319" fill-opacity="0.24"/>
<path d="M386.0 565.0 C387.3 557.8 391.3 536.2 394.0 522.0 C396.7 507.8 400.0 490.4 402.2 480.0 C404.4 469.6 405.5 465.5 407.4 459.4 C409.3 453.3 411.4 448.1 413.8 443.3 C416.2 438.5 418.9 434.4 421.9 430.3 C424.9 426.2 428.1 422.0 431.6 419.0 C435.1 416.0 439.8 413.8 443.0 412.5 C446.2 411.2 448.9 411.2 451.0 411.2 C453.1 411.1 453.7 412.2 455.9 412.2 C458.1 412.2 460.1 411.4 464.0 411.2 C467.9 411.0 476.8 411.2 479.4 411.2" fill="none" stroke="#0072bd" stroke-width="2.3"/>
<path d="M386.0 565.0 C387.3 557.8 391.3 536.2 394.0 522.0 C396.7 507.8 400.0 490.2 402.2 480.0 C404.4 469.8 405.5 466.9 407.4 461.0 C409.3 455.1 411.4 449.5 413.8 444.9 C416.2 440.3 418.9 436.9 421.9 433.5 C424.9 430.1 428.1 427.0 431.6 424.6 C435.1 422.2 439.8 420.5 443.0 419.0 C446.2 417.5 448.9 416.2 451.0 415.7 C453.1 415.1 454.5 415.5 455.9 415.7 C457.2 415.9 456.9 416.9 459.1 417.0 C461.3 417.1 465.5 416.8 468.9 416.6 C472.3 416.4 477.6 415.9 479.4 415.7" fill="none" stroke="#d95319" stroke-width="2.2"/>
<path d="M381 380 V565 H479.6" fill="none" stroke="#999" stroke-width="0.8"/>
<line x1="405.6" y1="565" x2="405.6" y2="563.5" stroke="#999" stroke-width="0.6"/>
<text x="405.6" y="575.2" font-size="8.0" text-anchor="middle" font-weight="normal" font-style="normal" fill="#555" letter-spacing="0">500</text>
<line x1="454.8" y1="565" x2="454.8" y2="563.5" stroke="#999" stroke-width="0.6"/>
<text x="454.8" y="575.2" font-size="8.0" text-anchor="middle" font-weight="normal" font-style="normal" fill="#555" letter-spacing="0">1000</text>
<line x1="381" y1="442" x2="382.5" y2="442" stroke="#999" stroke-width="0.6"/>
<text x="378.5" y="444.9" font-size="8.0" text-anchor="end" font-weight="normal" font-style="normal" fill="#555" letter-spacing="0">0.8</text>
<text x="431.8" y="377.2" font-size="8.6" text-anchor="middle" font-weight="bold" font-style="normal" fill="#000" textLength="59.4" lengthAdjust="spacingAndGlyphs" >Incorrect (RI)</text>
<rect x="401.4" y="541.4" width="57.2" height="17.6" fill="#fff" stroke="#888" stroke-width="0.6"/>
<line x1="404.59999999999997" y1="546.4" x2="427.0" y2="546.4" stroke="#0072bd" stroke-width="1.9"/>
<line x1="404.59999999999997" y1="554" x2="427.0" y2="554" stroke="#d95319" stroke-width="1.9"/>
<text x="428.4" y="548.7" font-size="6.4" text-anchor="start" font-weight="normal" font-style="normal" fill="#222" textLength="24.8" lengthAdjust="spacingAndGlyphs" >Anterior</text>
<text x="428.4" y="556.4" font-size="6.4" text-anchor="start" font-weight="normal" font-style="normal" fill="#222" textLength="28" lengthAdjust="spacingAndGlyphs" >Posterior</text>
<text transform="translate(229.0 466.3) rotate(-90)" x="0" y="0" font-size="8.9" text-anchor="middle" font-weight="bold" fill="#000" textLength="59.5" lengthAdjust="spacingAndGlyphs">Cosine Distance</text>
<text x="300.7" y="583.9" font-size="7.4" text-anchor="middle" font-weight="normal" font-style="normal" fill="#555" textLength="39" lengthAdjust="spacingAndGlyphs" >Time (ms)</text>
<text transform="translate(486.44 377.4) scale(0.77 1)" x="0" y="0" font-size="14" fill="#000" stroke="#000" stroke-width="0.6">F</text>
<path d="M518.8 380.4 V565.6 H657.6" fill="none" stroke="#999" stroke-width="0.8"/>
<line x1="518.8" y1="545.5" x2="520.3" y2="545.5" stroke="#999" stroke-width="0.6"/>
<text x="516.3" y="548.42" font-size="8.5" text-anchor="end" font-weight="normal" font-style="normal" fill="#555" letter-spacing="0">0.2</text>
<line x1="518.8" y1="504.3" x2="520.3" y2="504.3" stroke="#999" stroke-width="0.6"/>
<text x="516.3" y="507.19999999999993" font-size="8.5" text-anchor="end" font-weight="normal" font-style="normal" fill="#555" letter-spacing="0">0.4</text>
<line x1="518.8" y1="463.1" x2="520.3" y2="463.1" stroke="#999" stroke-width="0.6"/>
<text x="516.3" y="465.97999999999996" font-size="8.5" text-anchor="end" font-weight="normal" font-style="normal" fill="#555" letter-spacing="0">0.6</text>
<line x1="518.8" y1="421.9" x2="520.3" y2="421.9" stroke="#999" stroke-width="0.6"/>
<text x="516.3" y="424.75999999999993" font-size="8.5" text-anchor="end" font-weight="normal" font-style="normal" fill="#555" letter-spacing="0">0.8</text>
<line x1="518.8" y1="380.6" x2="520.3" y2="380.6" stroke="#999" stroke-width="0.6"/>
<text x="516.3" y="383.53999999999996" font-size="8.5" text-anchor="end" font-weight="normal" font-style="normal" fill="#555" letter-spacing="0">1</text>
<line x1="542" y1="565.6" x2="542" y2="564.1" stroke="#999" stroke-width="0.6"/>
<text x="542" y="575.9" font-size="8.5" text-anchor="middle" font-weight="normal" font-style="normal" fill="#555" letter-spacing="0">2</text>
<line x1="565" y1="565.6" x2="565" y2="564.1" stroke="#999" stroke-width="0.6"/>
<text x="565" y="575.9" font-size="8.5" text-anchor="middle" font-weight="normal" font-style="normal" fill="#555" letter-spacing="0">5</text>
<line x1="588.2" y1="565.6" x2="588.2" y2="564.1" stroke="#999" stroke-width="0.6"/>
<text x="588.2" y="575.9" font-size="8.5" text-anchor="middle" font-weight="normal" font-style="normal" fill="#555" letter-spacing="0">10</text>
<line x1="611.3" y1="565.6" x2="611.3" y2="564.1" stroke="#999" stroke-width="0.6"/>
<text x="611.3" y="575.9" font-size="8.5" text-anchor="middle" font-weight="normal" font-style="normal" fill="#555" letter-spacing="0">20</text>
<line x1="634.4" y1="565.6" x2="634.4" y2="564.1" stroke="#999" stroke-width="0.6"/>
<text x="634.4" y="575.9" font-size="8.5" text-anchor="middle" font-weight="normal" font-style="normal" fill="#555" letter-spacing="0">50</text>
<line x1="542" y1="559.6" x2="542" y2="546.4" stroke="#444" stroke-width="1"/>
<line x1="542" y1="526.4" x2="542" y2="499.4" stroke="#444" stroke-width="1"/>
<line x1="539.2" y1="559.6" x2="544.8" y2="559.6" stroke="#444" stroke-width="1"/>
<line x1="539.2" y1="499.4" x2="544.8" y2="499.4" stroke="#444" stroke-width="1"/>
<rect x="536.1" y="526.4" width="11.8" height="20.0" fill="#cfe2f2" stroke="#1f7ccc" stroke-width="1"/>
<line x1="536.1" y1="537" x2="547.9" y2="537" stroke="#1f7ccc" stroke-width="1"/>
<line x1="565" y1="534.4" x2="565" y2="510" stroke="#444" stroke-width="1"/>
<line x1="565" y1="479" x2="565" y2="438.4" stroke="#444" stroke-width="1"/>
<line x1="562.2" y1="534.4" x2="567.8" y2="534.4" stroke="#444" stroke-width="1"/>
<line x1="562.2" y1="438.4" x2="567.8" y2="438.4" stroke="#444" stroke-width="1"/>
<rect x="559.1" y="479" width="11.8" height="31" fill="#cfe2f2" stroke="#1f7ccc" stroke-width="1"/>
<line x1="559.1" y1="496.4" x2="570.9" y2="496.4" stroke="#1f7ccc" stroke-width="1"/>
<line x1="588.4" y1="504.4" x2="588.4" y2="469.6" stroke="#444" stroke-width="1"/>
<line x1="588.4" y1="431" x2="588.4" y2="387" stroke="#444" stroke-width="1"/>
<line x1="585.6" y1="504.4" x2="591.1999999999999" y2="504.4" stroke="#444" stroke-width="1"/>
<line x1="585.6" y1="387" x2="591.1999999999999" y2="387" stroke="#444" stroke-width="1"/>
<rect x="582.5" y="431" width="11.8" height="38.60000000000002" fill="#cfe2f2" stroke="#1f7ccc" stroke-width="1"/>
<line x1="582.5" y1="454.6" x2="594.3" y2="454.6" stroke="#1f7ccc" stroke-width="1"/>
<line x1="611.4" y1="465.4" x2="611.4" y2="425" stroke="#444" stroke-width="1"/>
<line x1="611.4" y1="394.4" x2="611.4" y2="381.4" stroke="#444" stroke-width="1"/>
<line x1="608.6" y1="465.4" x2="614.1999999999999" y2="465.4" stroke="#444" stroke-width="1"/>
<line x1="608.6" y1="381.4" x2="614.1999999999999" y2="381.4" stroke="#444" stroke-width="1"/>
<rect x="605.5" y="394.4" width="11.8" height="30.600000000000023" fill="#cfe2f2" stroke="#1f7ccc" stroke-width="1"/>
<line x1="605.5" y1="412.4" x2="617.3" y2="412.4" stroke="#1f7ccc" stroke-width="1"/>
<line x1="634.4" y1="393" x2="634.4" y2="386.4" stroke="#444" stroke-width="1"/>
<line x1="634.4" y1="381" x2="634.4" y2="380.6" stroke="#444" stroke-width="1"/>
<line x1="631.6" y1="393" x2="637.1999999999999" y2="393" stroke="#444" stroke-width="1"/>
<line x1="631.6" y1="380.6" x2="637.1999999999999" y2="380.6" stroke="#444" stroke-width="1"/>
<rect x="628.5" y="381" width="11.8" height="5.399999999999977" fill="#cfe2f2" stroke="#1f7ccc" stroke-width="1"/>
<line x1="628.5" y1="384" x2="640.3" y2="384" stroke="#1f7ccc" stroke-width="1"/>
<circle cx="542.3" cy="439" r="0.75" fill="#1f7ccc"/>
<circle cx="539" cy="477" r="0.75" fill="#1f7ccc"/>
<circle cx="542.5" cy="462" r="0.75" fill="#1f7ccc"/>
<circle cx="541.5" cy="497" r="0.75" fill="#1f7ccc"/>
<circle cx="542.6" cy="495.5" r="0.75" fill="#1f7ccc"/>
<circle cx="543" cy="494" r="0.75" fill="#1f7ccc"/>
<circle cx="541" cy="492" r="0.75" fill="#1f7ccc"/>
<circle cx="542" cy="490.4" r="0.75" fill="#1f7ccc"/>
<circle cx="543.5" cy="489" r="0.75" fill="#1f7ccc"/>
<circle cx="541.8" cy="486.5" r="0.75" fill="#1f7ccc"/>
<circle cx="541" cy="493.5" r="0.75" fill="#1f7ccc"/>
<circle cx="567.4" cy="400.4" r="0.75" fill="#1f7ccc"/>
<circle cx="566.4" cy="417.6" r="0.75" fill="#1f7ccc"/>
<circle cx="566.2" cy="418.8" r="0.75" fill="#1f7ccc"/>
<circle cx="563" cy="431.8" r="0.75" fill="#1f7ccc"/>
<circle cx="562.5" cy="432.2" r="0.75" fill="#1f7ccc"/>
<circle cx="633" cy="394" r="0.75" fill="#1f7ccc"/>
<circle cx="634" cy="395" r="0.75" fill="#1f7ccc"/>
<circle cx="635" cy="396" r="0.75" fill="#1f7ccc"/>
<circle cx="632" cy="397" r="0.75" fill="#1f7ccc"/>
<circle cx="636" cy="398" r="0.75" fill="#1f7ccc"/>
<circle cx="632" cy="401" r="0.75" fill="#1f7ccc"/>
<circle cx="636" cy="402" r="0.75" fill="#1f7ccc"/>
<circle cx="634.5" cy="403" r="0.75" fill="#1f7ccc"/>
<circle cx="637" cy="406" r="0.75" fill="#1f7ccc"/>
<circle cx="636" cy="410" r="0.75" fill="#1f7ccc"/>
<circle cx="637.5" cy="412" r="0.75" fill="#1f7ccc"/>
<path d="M632.6 393.2 L636.6 397.2 M636.6 393.2 L632.6 397.2 M634.6 392.6 V397.8 M632.2 395.2 H637" stroke="#1f6fc0" stroke-width="1.1"/>
<text transform="translate(500.6 471.3) rotate(-90)" x="0" y="0" font-size="9.0" text-anchor="middle" font-weight="bold" fill="#000" textLength="114.5" lengthAdjust="spacingAndGlyphs">Fraction of Explained Variance</text>
<text x="588.1" y="584.6" font-size="7.8" text-anchor="middle" font-weight="normal" font-style="normal" fill="#333" textLength="68.5" lengthAdjust="spacingAndGlyphs" ># of Components</text>
</svg></body></html>
